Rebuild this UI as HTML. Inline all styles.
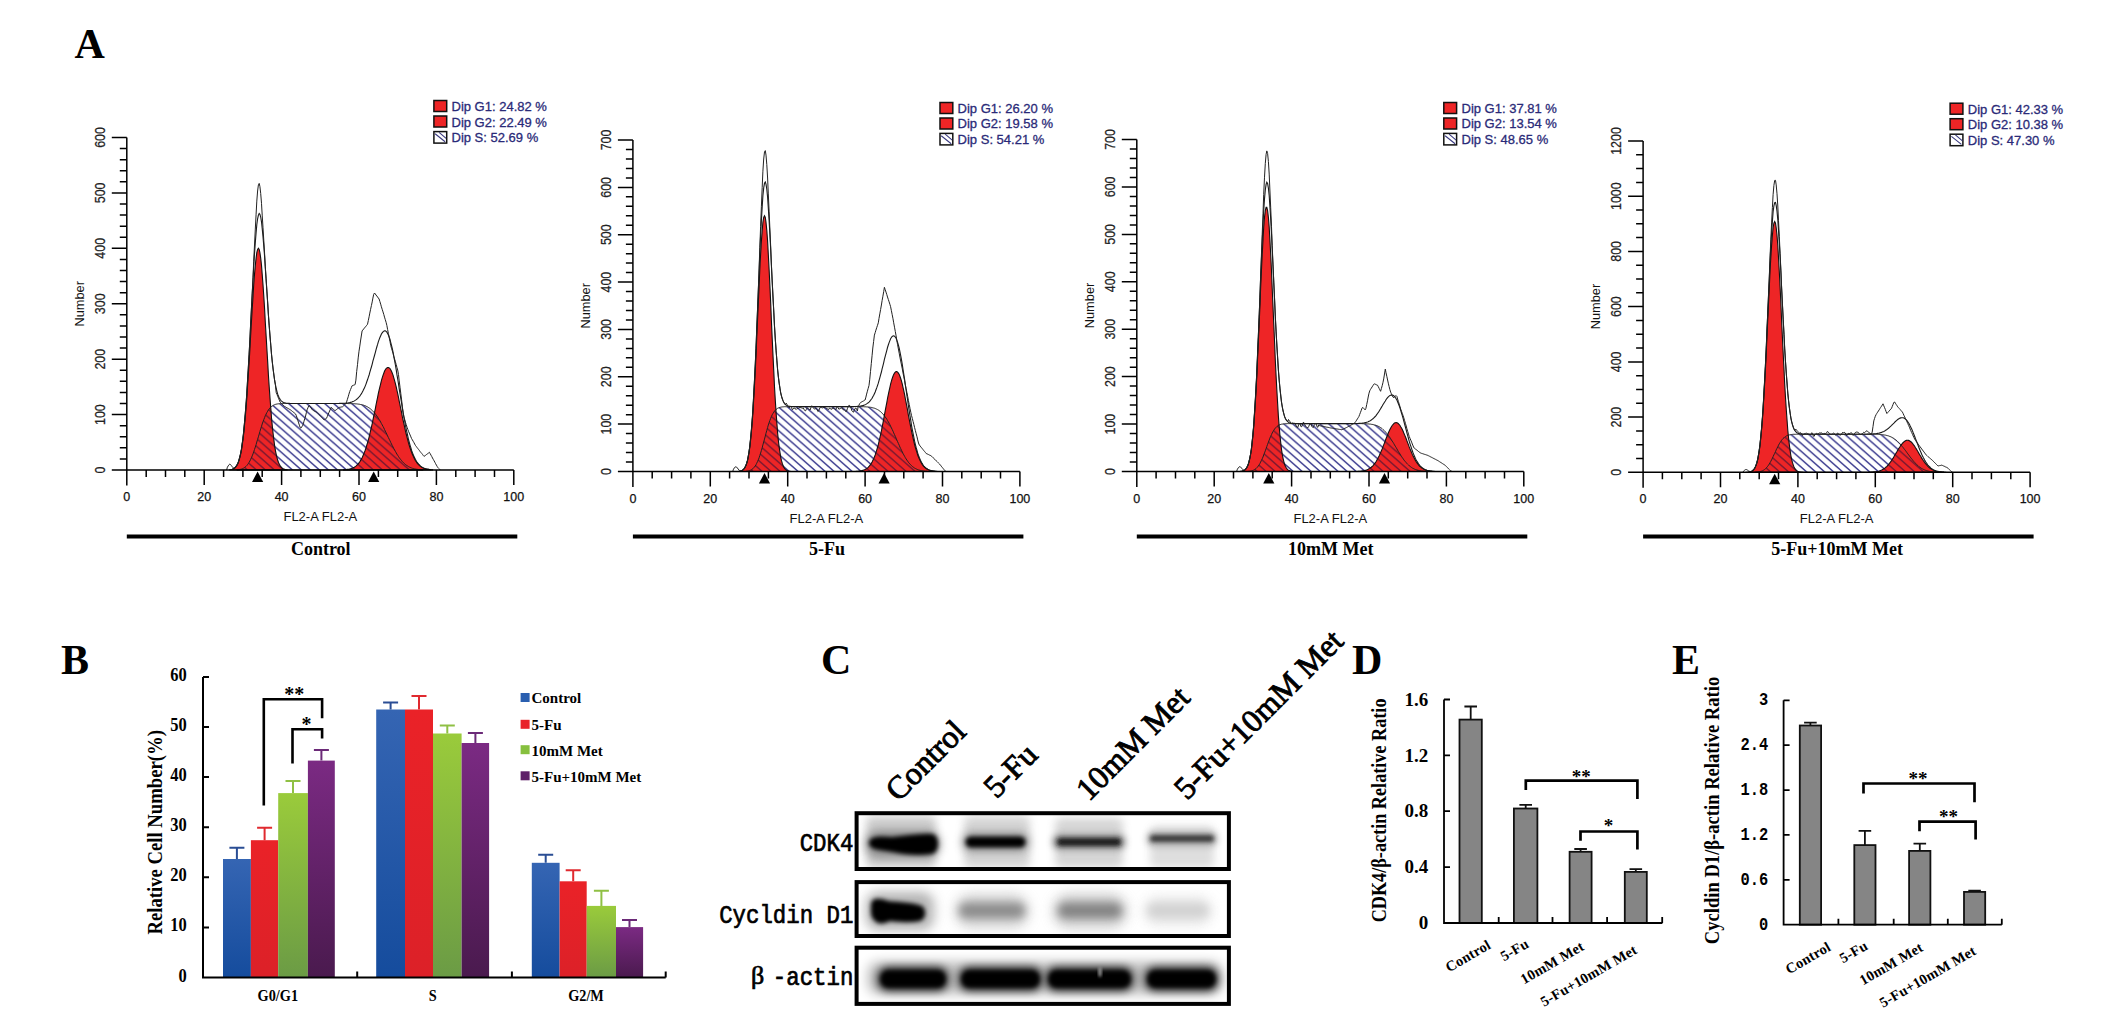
<!DOCTYPE html>
<html><head><meta charset="utf-8"><style>
html,body{margin:0;padding:0;background:#fff;}
svg{display:block;}
</style></head><body>
<svg width="2126" height="1035" viewBox="0 0 2126 1035">
<defs>
<pattern id="hatchN" patternUnits="userSpaceOnUse" width="9" height="7.9" patternTransform="">
<path d="M-2,-1.756 L11,9.656 M-11,-1.756 L2,9.656 M7,-1.756 L20,9.656" stroke="#3b3b8f" stroke-width="1.45"/></pattern>
<pattern id="hatchM" patternUnits="userSpaceOnUse" width="9" height="7.9">
<path d="M-2,-1.756 L11,9.656 M-11,-1.756 L2,9.656 M7,-1.756 L20,9.656" stroke="#7a1830" stroke-width="1.45"/></pattern>
<linearGradient id="gBlue" x1="0" y1="0" x2="0" y2="1"><stop offset="0" stop-color="#3565b3"/><stop offset="1" stop-color="#154c9d"/></linearGradient>
<linearGradient id="gRed" x1="0" y1="0" x2="0" y2="1"><stop offset="0" stop-color="#ea2228"/><stop offset="1" stop-color="#dc2128"/></linearGradient>
<linearGradient id="gGreen" x1="0" y1="0" x2="0" y2="1"><stop offset="0" stop-color="#9acb3b"/><stop offset="1" stop-color="#6b9b45"/></linearGradient>
<linearGradient id="gPurple" x1="0" y1="0" x2="0" y2="1"><stop offset="0" stop-color="#7b2a83"/><stop offset="1" stop-color="#4a1a4e"/></linearGradient>
<filter id="bl1" x="-50%" y="-100%" width="200%" height="300%"><feGaussianBlur stdDeviation="1.5"/></filter>
<filter id="bl2" x="-50%" y="-100%" width="200%" height="300%"><feGaussianBlur stdDeviation="2.2"/></filter>
<filter id="bl3" x="-50%" y="-100%" width="200%" height="300%"><feGaussianBlur stdDeviation="3"/></filter>
<filter id="bl4" x="-50%" y="-100%" width="200%" height="300%"><feGaussianBlur stdDeviation="4"/></filter>
<filter id="bl6" x="-50%" y="-100%" width="200%" height="300%"><feGaussianBlur stdDeviation="6"/></filter>
<clipPath id="blotclip"><rect x="856.6" y="813" width="372.3" height="56"/><rect x="856.6" y="882" width="372.3" height="54"/><rect x="856.6" y="947.7" width="372.3" height="56.2"/></clipPath>
<filter id="mot" x="-30%" y="-30%" width="160%" height="160%"><feGaussianBlur in="SourceGraphic" stdDeviation="4" result="b"/><feTurbulence type="fractalNoise" baseFrequency="0.18 0.06" numOctaves="2" seed="7" result="n"/><feColorMatrix in="n" type="matrix" values="0 0 0 0 0  0 0 0 0 0  0 0 0 0 0  0 0 0 -1.1 1.1" result="m"/><feComposite in="b" in2="m" operator="arithmetic" k1="1" k2="0" k3="0" k4="0" result="c"/><feGaussianBlur in="c" stdDeviation="1.3"/></filter>
</defs>
<rect width="2126" height="1035" fill="#fff"/>
<text x="74.5" y="58" font-family='"Liberation Serif", serif' font-weight="bold" font-size="42">A</text>
<text x="61" y="673.8" font-family='"Liberation Serif", serif' font-weight="bold" font-size="42">B</text>
<text x="821" y="673.8" font-family='"Liberation Serif", serif' font-weight="bold" font-size="42">C</text>
<text x="1352" y="673.8" font-family='"Liberation Serif", serif' font-weight="bold" font-size="42">D</text>
<text x="1672" y="673.8" font-family='"Liberation Serif", serif' font-weight="bold" font-size="42">E</text>
<clipPath id="cr0"><path d="M229.7,470.0 L229.7,469.8 L230.5,469.7 L231.3,469.5 L232.1,469.3 L232.8,469.0 L233.6,468.7 L234.4,468.2 L235.2,467.5 L235.9,466.7 L236.7,465.6 L237.5,464.2 L238.3,462.5 L239.0,460.3 L239.8,457.6 L240.6,454.3 L241.4,450.3 L242.1,445.6 L242.9,440.0 L243.7,433.5 L244.4,426.1 L245.2,417.7 L246.0,408.4 L246.8,398.0 L247.5,386.8 L248.3,374.8 L249.1,362.1 L249.9,349.0 L250.6,335.6 L251.4,322.2 L252.2,309.0 L253.0,296.5 L253.7,284.8 L254.5,274.4 L255.3,265.4 L256.1,258.1 L256.8,252.7 L257.6,249.4 L258.4,248.3 L259.2,249.4 L259.9,252.7 L260.7,258.1 L261.5,265.4 L262.2,274.4 L263.0,284.8 L263.8,296.5 L264.6,309.0 L265.3,322.2 L266.1,335.6 L266.9,349.0 L267.7,362.1 L268.4,374.8 L269.2,386.8 L270.0,398.0 L270.8,408.4 L271.5,417.7 L272.3,426.1 L273.1,433.5 L273.9,440.0 L274.6,445.6 L275.4,450.3 L276.2,454.3 L277.0,457.6 L277.7,460.3 L278.5,462.5 L279.3,464.2 L280.1,465.6 L280.8,466.7 L281.6,467.5 L282.4,468.2 L283.1,468.7 L283.9,469.0 L284.7,469.3 L285.5,469.5 L286.2,469.7 L287.0,469.8 L287.0,470.0 Z"/><path d="M343.5,470.0 L343.5,469.8 L344.3,469.8 L345.1,469.7 L345.8,469.6 L346.6,469.5 L347.4,469.4 L348.2,469.3 L348.9,469.2 L349.7,469.0 L350.5,468.8 L351.3,468.6 L352.0,468.3 L352.8,468.0 L353.6,467.6 L354.4,467.2 L355.1,466.6 L355.9,466.1 L356.7,465.4 L357.5,464.7 L358.2,463.8 L359.0,462.8 L359.8,461.8 L360.5,460.6 L361.3,459.2 L362.1,457.8 L362.9,456.1 L363.6,454.3 L364.4,452.4 L365.2,450.3 L366.0,448.0 L366.7,445.5 L367.5,442.9 L368.3,440.1 L369.1,437.1 L369.8,434.0 L370.6,430.7 L371.4,427.3 L372.2,423.7 L372.9,420.1 L373.7,416.4 L374.5,412.6 L375.3,408.8 L376.0,405.0 L376.8,401.1 L377.6,397.4 L378.3,393.7 L379.1,390.2 L379.9,386.8 L380.7,383.6 L381.4,380.6 L382.2,377.8 L383.0,375.4 L383.8,373.2 L384.5,371.3 L385.3,369.8 L386.1,368.7 L386.9,367.9 L387.6,367.5 L388.4,367.5 L389.2,367.9 L390.0,368.7 L390.7,369.8 L391.5,371.3 L392.3,373.2 L393.1,375.4 L393.8,377.8 L394.6,380.6 L395.4,383.6 L396.2,386.8 L396.9,390.2 L397.7,393.7 L398.5,397.4 L399.2,401.1 L400.0,405.0 L400.8,408.8 L401.6,412.6 L402.3,416.4 L403.1,420.1 L403.9,423.7 L404.7,427.3 L405.4,430.7 L406.2,434.0 L407.0,437.1 L407.8,440.1 L408.5,442.9 L409.3,445.5 L410.1,448.0 L410.9,450.3 L411.6,452.4 L412.4,454.3 L413.2,456.1 L414.0,457.8 L414.7,459.2 L415.5,460.6 L416.3,461.8 L417.0,462.8 L417.8,463.8 L418.6,464.7 L419.4,465.4 L420.1,466.1 L420.9,466.6 L421.7,467.2 L422.5,467.6 L423.2,468.0 L424.0,468.3 L424.8,468.6 L425.6,468.8 L426.3,469.0 L427.1,469.2 L427.9,469.3 L428.7,469.4 L429.4,469.5 L430.2,469.6 L431.0,469.7 L431.8,469.8 L432.5,469.8 L432.5,470.0 Z"/></clipPath>
<path d="M236.7,470.0 L236.7,469.8 L237.5,469.8 L238.3,469.7 L239.0,469.6 L239.8,469.5 L240.6,469.3 L241.4,469.1 L242.1,468.8 L242.9,468.5 L243.7,468.1 L244.4,467.6 L245.2,467.0 L246.0,466.4 L246.8,465.6 L247.5,464.6 L248.3,463.6 L249.1,462.3 L249.9,461.0 L250.6,459.4 L251.4,457.8 L252.2,455.9 L253.0,453.9 L253.7,451.8 L254.5,449.5 L255.3,447.1 L256.1,444.6 L256.8,442.0 L257.6,439.4 L258.4,436.8 L259.2,434.1 L259.9,431.5 L260.7,428.9 L261.5,426.4 L262.2,424.0 L263.0,421.7 L263.8,419.6 L264.6,417.6 L265.3,415.7 L266.1,414.1 L266.9,412.5 L267.7,411.2 L268.4,409.9 L269.2,408.9 L270.0,407.9 L270.8,407.1 L271.5,406.5 L272.3,405.9 L273.1,405.4 L273.9,405.0 L274.6,404.7 L275.4,404.4 L276.2,404.2 L277.0,404.0 L277.7,403.9 L278.5,403.8 L279.3,403.7 L280.1,403.7 L280.8,403.6 L281.6,403.6 L282.4,403.6 L283.1,403.5 L283.9,403.5 L284.7,403.5 L285.5,403.5 L286.2,403.5 L287.0,403.5 L287.8,403.5 L288.6,403.5 L289.3,403.5 L290.1,403.5 L290.9,403.5 L291.7,403.5 L292.4,403.5 L293.2,403.5 L294.0,403.5 L294.8,403.5 L295.5,403.5 L296.3,403.5 L297.1,403.5 L297.9,403.5 L298.6,403.5 L299.4,403.5 L300.2,403.5 L300.9,403.5 L301.7,403.5 L302.5,403.5 L303.3,403.5 L304.0,403.5 L304.8,403.5 L305.6,403.5 L306.4,403.5 L307.1,403.5 L307.9,403.5 L308.7,403.5 L309.5,403.5 L310.2,403.5 L311.0,403.5 L311.8,403.5 L312.6,403.5 L313.3,403.5 L314.1,403.5 L314.9,403.5 L315.7,403.5 L316.4,403.5 L317.2,403.5 L318.0,403.5 L318.8,403.5 L319.5,403.5 L320.3,403.5 L321.1,403.5 L321.8,403.5 L322.6,403.5 L323.4,403.5 L324.2,403.5 L324.9,403.5 L325.7,403.5 L326.5,403.5 L327.3,403.5 L328.0,403.5 L328.8,403.5 L329.6,403.5 L330.4,403.5 L331.1,403.5 L331.9,403.5 L332.7,403.5 L333.5,403.5 L334.2,403.5 L335.0,403.5 L335.8,403.5 L336.6,403.5 L337.3,403.5 L338.1,403.5 L338.9,403.5 L339.6,403.5 L340.4,403.5 L341.2,403.5 L342.0,403.5 L342.7,403.5 L343.5,403.5 L344.3,403.5 L345.1,403.5 L345.8,403.5 L346.6,403.5 L347.4,403.5 L348.2,403.6 L348.9,403.6 L349.7,403.6 L350.5,403.6 L351.3,403.6 L352.0,403.6 L352.8,403.7 L353.6,403.7 L354.4,403.7 L355.1,403.8 L355.9,403.9 L356.7,403.9 L357.5,404.0 L358.2,404.1 L359.0,404.2 L359.8,404.3 L360.5,404.5 L361.3,404.6 L362.1,404.8 L362.9,405.0 L363.6,405.2 L364.4,405.5 L365.2,405.8 L366.0,406.1 L366.7,406.5 L367.5,406.9 L368.3,407.4 L369.1,407.9 L369.8,408.4 L370.6,409.0 L371.4,409.7 L372.2,410.4 L372.9,411.2 L373.7,412.0 L374.5,412.9 L375.3,413.8 L376.0,414.8 L376.8,415.9 L377.6,417.0 L378.3,418.2 L379.1,419.4 L379.9,420.7 L380.7,422.1 L381.4,423.5 L382.2,424.9 L383.0,426.4 L383.8,427.9 L384.5,429.5 L385.3,431.1 L386.1,432.7 L386.9,434.3 L387.6,435.9 L388.4,437.6 L389.2,439.2 L390.0,440.8 L390.7,442.4 L391.5,444.0 L392.3,445.6 L393.1,447.1 L393.8,448.6 L394.6,450.0 L395.4,451.4 L396.2,452.8 L396.9,454.1 L397.7,455.3 L398.5,456.5 L399.2,457.6 L400.0,458.7 L400.8,459.7 L401.6,460.6 L402.3,461.5 L403.1,462.3 L403.9,463.1 L404.7,463.8 L405.4,464.5 L406.2,465.1 L407.0,465.6 L407.8,466.1 L408.5,466.6 L409.3,467.0 L410.1,467.4 L410.9,467.7 L411.6,468.0 L412.4,468.3 L413.2,468.5 L414.0,468.7 L414.7,468.9 L415.5,469.0 L416.3,469.2 L417.0,469.3 L417.8,469.4 L418.6,469.5 L419.4,469.6 L420.1,469.6 L420.9,469.7 L421.7,469.8 L422.5,469.8 L423.2,469.8 L423.2,470.0 Z" fill="#fff"/>
<path d="M236.7,470.0 L236.7,469.8 L237.5,469.8 L238.3,469.7 L239.0,469.6 L239.8,469.5 L240.6,469.3 L241.4,469.1 L242.1,468.8 L242.9,468.5 L243.7,468.1 L244.4,467.6 L245.2,467.0 L246.0,466.4 L246.8,465.6 L247.5,464.6 L248.3,463.6 L249.1,462.3 L249.9,461.0 L250.6,459.4 L251.4,457.8 L252.2,455.9 L253.0,453.9 L253.7,451.8 L254.5,449.5 L255.3,447.1 L256.1,444.6 L256.8,442.0 L257.6,439.4 L258.4,436.8 L259.2,434.1 L259.9,431.5 L260.7,428.9 L261.5,426.4 L262.2,424.0 L263.0,421.7 L263.8,419.6 L264.6,417.6 L265.3,415.7 L266.1,414.1 L266.9,412.5 L267.7,411.2 L268.4,409.9 L269.2,408.9 L270.0,407.9 L270.8,407.1 L271.5,406.5 L272.3,405.9 L273.1,405.4 L273.9,405.0 L274.6,404.7 L275.4,404.4 L276.2,404.2 L277.0,404.0 L277.7,403.9 L278.5,403.8 L279.3,403.7 L280.1,403.7 L280.8,403.6 L281.6,403.6 L282.4,403.6 L283.1,403.5 L283.9,403.5 L284.7,403.5 L285.5,403.5 L286.2,403.5 L287.0,403.5 L287.8,403.5 L288.6,403.5 L289.3,403.5 L290.1,403.5 L290.9,403.5 L291.7,403.5 L292.4,403.5 L293.2,403.5 L294.0,403.5 L294.8,403.5 L295.5,403.5 L296.3,403.5 L297.1,403.5 L297.9,403.5 L298.6,403.5 L299.4,403.5 L300.2,403.5 L300.9,403.5 L301.7,403.5 L302.5,403.5 L303.3,403.5 L304.0,403.5 L304.8,403.5 L305.6,403.5 L306.4,403.5 L307.1,403.5 L307.9,403.5 L308.7,403.5 L309.5,403.5 L310.2,403.5 L311.0,403.5 L311.8,403.5 L312.6,403.5 L313.3,403.5 L314.1,403.5 L314.9,403.5 L315.7,403.5 L316.4,403.5 L317.2,403.5 L318.0,403.5 L318.8,403.5 L319.5,403.5 L320.3,403.5 L321.1,403.5 L321.8,403.5 L322.6,403.5 L323.4,403.5 L324.2,403.5 L324.9,403.5 L325.7,403.5 L326.5,403.5 L327.3,403.5 L328.0,403.5 L328.8,403.5 L329.6,403.5 L330.4,403.5 L331.1,403.5 L331.9,403.5 L332.7,403.5 L333.5,403.5 L334.2,403.5 L335.0,403.5 L335.8,403.5 L336.6,403.5 L337.3,403.5 L338.1,403.5 L338.9,403.5 L339.6,403.5 L340.4,403.5 L341.2,403.5 L342.0,403.5 L342.7,403.5 L343.5,403.5 L344.3,403.5 L345.1,403.5 L345.8,403.5 L346.6,403.5 L347.4,403.5 L348.2,403.6 L348.9,403.6 L349.7,403.6 L350.5,403.6 L351.3,403.6 L352.0,403.6 L352.8,403.7 L353.6,403.7 L354.4,403.7 L355.1,403.8 L355.9,403.9 L356.7,403.9 L357.5,404.0 L358.2,404.1 L359.0,404.2 L359.8,404.3 L360.5,404.5 L361.3,404.6 L362.1,404.8 L362.9,405.0 L363.6,405.2 L364.4,405.5 L365.2,405.8 L366.0,406.1 L366.7,406.5 L367.5,406.9 L368.3,407.4 L369.1,407.9 L369.8,408.4 L370.6,409.0 L371.4,409.7 L372.2,410.4 L372.9,411.2 L373.7,412.0 L374.5,412.9 L375.3,413.8 L376.0,414.8 L376.8,415.9 L377.6,417.0 L378.3,418.2 L379.1,419.4 L379.9,420.7 L380.7,422.1 L381.4,423.5 L382.2,424.9 L383.0,426.4 L383.8,427.9 L384.5,429.5 L385.3,431.1 L386.1,432.7 L386.9,434.3 L387.6,435.9 L388.4,437.6 L389.2,439.2 L390.0,440.8 L390.7,442.4 L391.5,444.0 L392.3,445.6 L393.1,447.1 L393.8,448.6 L394.6,450.0 L395.4,451.4 L396.2,452.8 L396.9,454.1 L397.7,455.3 L398.5,456.5 L399.2,457.6 L400.0,458.7 L400.8,459.7 L401.6,460.6 L402.3,461.5 L403.1,462.3 L403.9,463.1 L404.7,463.8 L405.4,464.5 L406.2,465.1 L407.0,465.6 L407.8,466.1 L408.5,466.6 L409.3,467.0 L410.1,467.4 L410.9,467.7 L411.6,468.0 L412.4,468.3 L413.2,468.5 L414.0,468.7 L414.7,468.9 L415.5,469.0 L416.3,469.2 L417.0,469.3 L417.8,469.4 L418.6,469.5 L419.4,469.6 L420.1,469.6 L420.9,469.7 L421.7,469.8 L422.5,469.8 L423.2,469.8 L423.2,470.0 Z" fill="url(#hatchN)"/>
<path d="M229.7,470.0 L229.7,469.8 L230.5,469.7 L231.3,469.5 L232.1,469.3 L232.8,469.0 L233.6,468.7 L234.4,468.2 L235.2,467.5 L235.9,466.7 L236.7,465.6 L237.5,464.2 L238.3,462.5 L239.0,460.3 L239.8,457.6 L240.6,454.3 L241.4,450.3 L242.1,445.6 L242.9,440.0 L243.7,433.5 L244.4,426.1 L245.2,417.7 L246.0,408.4 L246.8,398.0 L247.5,386.8 L248.3,374.8 L249.1,362.1 L249.9,349.0 L250.6,335.6 L251.4,322.2 L252.2,309.0 L253.0,296.5 L253.7,284.8 L254.5,274.4 L255.3,265.4 L256.1,258.1 L256.8,252.7 L257.6,249.4 L258.4,248.3 L259.2,249.4 L259.9,252.7 L260.7,258.1 L261.5,265.4 L262.2,274.4 L263.0,284.8 L263.8,296.5 L264.6,309.0 L265.3,322.2 L266.1,335.6 L266.9,349.0 L267.7,362.1 L268.4,374.8 L269.2,386.8 L270.0,398.0 L270.8,408.4 L271.5,417.7 L272.3,426.1 L273.1,433.5 L273.9,440.0 L274.6,445.6 L275.4,450.3 L276.2,454.3 L277.0,457.6 L277.7,460.3 L278.5,462.5 L279.3,464.2 L280.1,465.6 L280.8,466.7 L281.6,467.5 L282.4,468.2 L283.1,468.7 L283.9,469.0 L284.7,469.3 L285.5,469.5 L286.2,469.7 L287.0,469.8 L287.0,470.0 Z" fill="#ee2526"/>
<path d="M343.5,470.0 L343.5,469.8 L344.3,469.8 L345.1,469.7 L345.8,469.6 L346.6,469.5 L347.4,469.4 L348.2,469.3 L348.9,469.2 L349.7,469.0 L350.5,468.8 L351.3,468.6 L352.0,468.3 L352.8,468.0 L353.6,467.6 L354.4,467.2 L355.1,466.6 L355.9,466.1 L356.7,465.4 L357.5,464.7 L358.2,463.8 L359.0,462.8 L359.8,461.8 L360.5,460.6 L361.3,459.2 L362.1,457.8 L362.9,456.1 L363.6,454.3 L364.4,452.4 L365.2,450.3 L366.0,448.0 L366.7,445.5 L367.5,442.9 L368.3,440.1 L369.1,437.1 L369.8,434.0 L370.6,430.7 L371.4,427.3 L372.2,423.7 L372.9,420.1 L373.7,416.4 L374.5,412.6 L375.3,408.8 L376.0,405.0 L376.8,401.1 L377.6,397.4 L378.3,393.7 L379.1,390.2 L379.9,386.8 L380.7,383.6 L381.4,380.6 L382.2,377.8 L383.0,375.4 L383.8,373.2 L384.5,371.3 L385.3,369.8 L386.1,368.7 L386.9,367.9 L387.6,367.5 L388.4,367.5 L389.2,367.9 L390.0,368.7 L390.7,369.8 L391.5,371.3 L392.3,373.2 L393.1,375.4 L393.8,377.8 L394.6,380.6 L395.4,383.6 L396.2,386.8 L396.9,390.2 L397.7,393.7 L398.5,397.4 L399.2,401.1 L400.0,405.0 L400.8,408.8 L401.6,412.6 L402.3,416.4 L403.1,420.1 L403.9,423.7 L404.7,427.3 L405.4,430.7 L406.2,434.0 L407.0,437.1 L407.8,440.1 L408.5,442.9 L409.3,445.5 L410.1,448.0 L410.9,450.3 L411.6,452.4 L412.4,454.3 L413.2,456.1 L414.0,457.8 L414.7,459.2 L415.5,460.6 L416.3,461.8 L417.0,462.8 L417.8,463.8 L418.6,464.7 L419.4,465.4 L420.1,466.1 L420.9,466.6 L421.7,467.2 L422.5,467.6 L423.2,468.0 L424.0,468.3 L424.8,468.6 L425.6,468.8 L426.3,469.0 L427.1,469.2 L427.9,469.3 L428.7,469.4 L429.4,469.5 L430.2,469.6 L431.0,469.7 L431.8,469.8 L432.5,469.8 L432.5,470.0 Z" fill="#ee2526"/>
<g clip-path="url(#cr0)"><path d="M236.7,470.0 L236.7,469.8 L237.5,469.8 L238.3,469.7 L239.0,469.6 L239.8,469.5 L240.6,469.3 L241.4,469.1 L242.1,468.8 L242.9,468.5 L243.7,468.1 L244.4,467.6 L245.2,467.0 L246.0,466.4 L246.8,465.6 L247.5,464.6 L248.3,463.6 L249.1,462.3 L249.9,461.0 L250.6,459.4 L251.4,457.8 L252.2,455.9 L253.0,453.9 L253.7,451.8 L254.5,449.5 L255.3,447.1 L256.1,444.6 L256.8,442.0 L257.6,439.4 L258.4,436.8 L259.2,434.1 L259.9,431.5 L260.7,428.9 L261.5,426.4 L262.2,424.0 L263.0,421.7 L263.8,419.6 L264.6,417.6 L265.3,415.7 L266.1,414.1 L266.9,412.5 L267.7,411.2 L268.4,409.9 L269.2,408.9 L270.0,407.9 L270.8,407.1 L271.5,406.5 L272.3,405.9 L273.1,405.4 L273.9,405.0 L274.6,404.7 L275.4,404.4 L276.2,404.2 L277.0,404.0 L277.7,403.9 L278.5,403.8 L279.3,403.7 L280.1,403.7 L280.8,403.6 L281.6,403.6 L282.4,403.6 L283.1,403.5 L283.9,403.5 L284.7,403.5 L285.5,403.5 L286.2,403.5 L287.0,403.5 L287.8,403.5 L288.6,403.5 L289.3,403.5 L290.1,403.5 L290.9,403.5 L291.7,403.5 L292.4,403.5 L293.2,403.5 L294.0,403.5 L294.8,403.5 L295.5,403.5 L296.3,403.5 L297.1,403.5 L297.9,403.5 L298.6,403.5 L299.4,403.5 L300.2,403.5 L300.9,403.5 L301.7,403.5 L302.5,403.5 L303.3,403.5 L304.0,403.5 L304.8,403.5 L305.6,403.5 L306.4,403.5 L307.1,403.5 L307.9,403.5 L308.7,403.5 L309.5,403.5 L310.2,403.5 L311.0,403.5 L311.8,403.5 L312.6,403.5 L313.3,403.5 L314.1,403.5 L314.9,403.5 L315.7,403.5 L316.4,403.5 L317.2,403.5 L318.0,403.5 L318.8,403.5 L319.5,403.5 L320.3,403.5 L321.1,403.5 L321.8,403.5 L322.6,403.5 L323.4,403.5 L324.2,403.5 L324.9,403.5 L325.7,403.5 L326.5,403.5 L327.3,403.5 L328.0,403.5 L328.8,403.5 L329.6,403.5 L330.4,403.5 L331.1,403.5 L331.9,403.5 L332.7,403.5 L333.5,403.5 L334.2,403.5 L335.0,403.5 L335.8,403.5 L336.6,403.5 L337.3,403.5 L338.1,403.5 L338.9,403.5 L339.6,403.5 L340.4,403.5 L341.2,403.5 L342.0,403.5 L342.7,403.5 L343.5,403.5 L344.3,403.5 L345.1,403.5 L345.8,403.5 L346.6,403.5 L347.4,403.5 L348.2,403.6 L348.9,403.6 L349.7,403.6 L350.5,403.6 L351.3,403.6 L352.0,403.6 L352.8,403.7 L353.6,403.7 L354.4,403.7 L355.1,403.8 L355.9,403.9 L356.7,403.9 L357.5,404.0 L358.2,404.1 L359.0,404.2 L359.8,404.3 L360.5,404.5 L361.3,404.6 L362.1,404.8 L362.9,405.0 L363.6,405.2 L364.4,405.5 L365.2,405.8 L366.0,406.1 L366.7,406.5 L367.5,406.9 L368.3,407.4 L369.1,407.9 L369.8,408.4 L370.6,409.0 L371.4,409.7 L372.2,410.4 L372.9,411.2 L373.7,412.0 L374.5,412.9 L375.3,413.8 L376.0,414.8 L376.8,415.9 L377.6,417.0 L378.3,418.2 L379.1,419.4 L379.9,420.7 L380.7,422.1 L381.4,423.5 L382.2,424.9 L383.0,426.4 L383.8,427.9 L384.5,429.5 L385.3,431.1 L386.1,432.7 L386.9,434.3 L387.6,435.9 L388.4,437.6 L389.2,439.2 L390.0,440.8 L390.7,442.4 L391.5,444.0 L392.3,445.6 L393.1,447.1 L393.8,448.6 L394.6,450.0 L395.4,451.4 L396.2,452.8 L396.9,454.1 L397.7,455.3 L398.5,456.5 L399.2,457.6 L400.0,458.7 L400.8,459.7 L401.6,460.6 L402.3,461.5 L403.1,462.3 L403.9,463.1 L404.7,463.8 L405.4,464.5 L406.2,465.1 L407.0,465.6 L407.8,466.1 L408.5,466.6 L409.3,467.0 L410.1,467.4 L410.9,467.7 L411.6,468.0 L412.4,468.3 L413.2,468.5 L414.0,468.7 L414.7,468.9 L415.5,469.0 L416.3,469.2 L417.0,469.3 L417.8,469.4 L418.6,469.5 L419.4,469.6 L420.1,469.6 L420.9,469.7 L421.7,469.8 L422.5,469.8 L423.2,469.8 L423.2,470.0 Z" fill="url(#hatchM)"/></g>
<path d="M236.7,470.0 L236.7,469.8 L237.5,469.8 L238.3,469.7 L239.0,469.6 L239.8,469.5 L240.6,469.3 L241.4,469.1 L242.1,468.8 L242.9,468.5 L243.7,468.1 L244.4,467.6 L245.2,467.0 L246.0,466.4 L246.8,465.6 L247.5,464.6 L248.3,463.6 L249.1,462.3 L249.9,461.0 L250.6,459.4 L251.4,457.8 L252.2,455.9 L253.0,453.9 L253.7,451.8 L254.5,449.5 L255.3,447.1 L256.1,444.6 L256.8,442.0 L257.6,439.4 L258.4,436.8 L259.2,434.1 L259.9,431.5 L260.7,428.9 L261.5,426.4 L262.2,424.0 L263.0,421.7 L263.8,419.6 L264.6,417.6 L265.3,415.7 L266.1,414.1 L266.9,412.5 L267.7,411.2 L268.4,409.9 L269.2,408.9 L270.0,407.9 L270.8,407.1 L271.5,406.5 L272.3,405.9 L273.1,405.4 L273.9,405.0 L274.6,404.7 L275.4,404.4 L276.2,404.2 L277.0,404.0 L277.7,403.9 L278.5,403.8 L279.3,403.7 L280.1,403.7 L280.8,403.6 L281.6,403.6 L282.4,403.6 L283.1,403.5 L283.9,403.5 L284.7,403.5 L285.5,403.5 L286.2,403.5 L287.0,403.5 L287.8,403.5 L288.6,403.5 L289.3,403.5 L290.1,403.5 L290.9,403.5 L291.7,403.5 L292.4,403.5 L293.2,403.5 L294.0,403.5 L294.8,403.5 L295.5,403.5 L296.3,403.5 L297.1,403.5 L297.9,403.5 L298.6,403.5 L299.4,403.5 L300.2,403.5 L300.9,403.5 L301.7,403.5 L302.5,403.5 L303.3,403.5 L304.0,403.5 L304.8,403.5 L305.6,403.5 L306.4,403.5 L307.1,403.5 L307.9,403.5 L308.7,403.5 L309.5,403.5 L310.2,403.5 L311.0,403.5 L311.8,403.5 L312.6,403.5 L313.3,403.5 L314.1,403.5 L314.9,403.5 L315.7,403.5 L316.4,403.5 L317.2,403.5 L318.0,403.5 L318.8,403.5 L319.5,403.5 L320.3,403.5 L321.1,403.5 L321.8,403.5 L322.6,403.5 L323.4,403.5 L324.2,403.5 L324.9,403.5 L325.7,403.5 L326.5,403.5 L327.3,403.5 L328.0,403.5 L328.8,403.5 L329.6,403.5 L330.4,403.5 L331.1,403.5 L331.9,403.5 L332.7,403.5 L333.5,403.5 L334.2,403.5 L335.0,403.5 L335.8,403.5 L336.6,403.5 L337.3,403.5 L338.1,403.5 L338.9,403.5 L339.6,403.5 L340.4,403.5 L341.2,403.5 L342.0,403.5 L342.7,403.5 L343.5,403.5 L344.3,403.5 L345.1,403.5 L345.8,403.5 L346.6,403.5 L347.4,403.5 L348.2,403.6 L348.9,403.6 L349.7,403.6 L350.5,403.6 L351.3,403.6 L352.0,403.6 L352.8,403.7 L353.6,403.7 L354.4,403.7 L355.1,403.8 L355.9,403.9 L356.7,403.9 L357.5,404.0 L358.2,404.1 L359.0,404.2 L359.8,404.3 L360.5,404.5 L361.3,404.6 L362.1,404.8 L362.9,405.0 L363.6,405.2 L364.4,405.5 L365.2,405.8 L366.0,406.1 L366.7,406.5 L367.5,406.9 L368.3,407.4 L369.1,407.9 L369.8,408.4 L370.6,409.0 L371.4,409.7 L372.2,410.4 L372.9,411.2 L373.7,412.0 L374.5,412.9 L375.3,413.8 L376.0,414.8 L376.8,415.9 L377.6,417.0 L378.3,418.2 L379.1,419.4 L379.9,420.7 L380.7,422.1 L381.4,423.5 L382.2,424.9 L383.0,426.4 L383.8,427.9 L384.5,429.5 L385.3,431.1 L386.1,432.7 L386.9,434.3 L387.6,435.9 L388.4,437.6 L389.2,439.2 L390.0,440.8 L390.7,442.4 L391.5,444.0 L392.3,445.6 L393.1,447.1 L393.8,448.6 L394.6,450.0 L395.4,451.4 L396.2,452.8 L396.9,454.1 L397.7,455.3 L398.5,456.5 L399.2,457.6 L400.0,458.7 L400.8,459.7 L401.6,460.6 L402.3,461.5 L403.1,462.3 L403.9,463.1 L404.7,463.8 L405.4,464.5 L406.2,465.1 L407.0,465.6 L407.8,466.1 L408.5,466.6 L409.3,467.0 L410.1,467.4 L410.9,467.7 L411.6,468.0 L412.4,468.3 L413.2,468.5 L414.0,468.7 L414.7,468.9 L415.5,469.0 L416.3,469.2 L417.0,469.3 L417.8,469.4 L418.6,469.5 L419.4,469.6 L420.1,469.6 L420.9,469.7 L421.7,469.8 L422.5,469.8 L423.2,469.8 L423.2,470.0 Z" fill="none" stroke="#222" stroke-width="1"/>
<path d="M229.7,470.0 L229.7,469.8 L230.5,469.7 L231.3,469.5 L232.1,469.3 L232.8,469.0 L233.6,468.7 L234.4,468.2 L235.2,467.5 L235.9,466.7 L236.7,465.6 L237.5,464.2 L238.3,462.5 L239.0,460.3 L239.8,457.6 L240.6,454.3 L241.4,450.3 L242.1,445.6 L242.9,440.0 L243.7,433.5 L244.4,426.1 L245.2,417.7 L246.0,408.4 L246.8,398.0 L247.5,386.8 L248.3,374.8 L249.1,362.1 L249.9,349.0 L250.6,335.6 L251.4,322.2 L252.2,309.0 L253.0,296.5 L253.7,284.8 L254.5,274.4 L255.3,265.4 L256.1,258.1 L256.8,252.7 L257.6,249.4 L258.4,248.3 L259.2,249.4 L259.9,252.7 L260.7,258.1 L261.5,265.4 L262.2,274.4 L263.0,284.8 L263.8,296.5 L264.6,309.0 L265.3,322.2 L266.1,335.6 L266.9,349.0 L267.7,362.1 L268.4,374.8 L269.2,386.8 L270.0,398.0 L270.8,408.4 L271.5,417.7 L272.3,426.1 L273.1,433.5 L273.9,440.0 L274.6,445.6 L275.4,450.3 L276.2,454.3 L277.0,457.6 L277.7,460.3 L278.5,462.5 L279.3,464.2 L280.1,465.6 L280.8,466.7 L281.6,467.5 L282.4,468.2 L283.1,468.7 L283.9,469.0 L284.7,469.3 L285.5,469.5 L286.2,469.7 L287.0,469.8 L287.0,470.0 Z" fill="none" stroke="#111" stroke-width="1.1"/>
<path d="M343.5,470.0 L343.5,469.8 L344.3,469.8 L345.1,469.7 L345.8,469.6 L346.6,469.5 L347.4,469.4 L348.2,469.3 L348.9,469.2 L349.7,469.0 L350.5,468.8 L351.3,468.6 L352.0,468.3 L352.8,468.0 L353.6,467.6 L354.4,467.2 L355.1,466.6 L355.9,466.1 L356.7,465.4 L357.5,464.7 L358.2,463.8 L359.0,462.8 L359.8,461.8 L360.5,460.6 L361.3,459.2 L362.1,457.8 L362.9,456.1 L363.6,454.3 L364.4,452.4 L365.2,450.3 L366.0,448.0 L366.7,445.5 L367.5,442.9 L368.3,440.1 L369.1,437.1 L369.8,434.0 L370.6,430.7 L371.4,427.3 L372.2,423.7 L372.9,420.1 L373.7,416.4 L374.5,412.6 L375.3,408.8 L376.0,405.0 L376.8,401.1 L377.6,397.4 L378.3,393.7 L379.1,390.2 L379.9,386.8 L380.7,383.6 L381.4,380.6 L382.2,377.8 L383.0,375.4 L383.8,373.2 L384.5,371.3 L385.3,369.8 L386.1,368.7 L386.9,367.9 L387.6,367.5 L388.4,367.5 L389.2,367.9 L390.0,368.7 L390.7,369.8 L391.5,371.3 L392.3,373.2 L393.1,375.4 L393.8,377.8 L394.6,380.6 L395.4,383.6 L396.2,386.8 L396.9,390.2 L397.7,393.7 L398.5,397.4 L399.2,401.1 L400.0,405.0 L400.8,408.8 L401.6,412.6 L402.3,416.4 L403.1,420.1 L403.9,423.7 L404.7,427.3 L405.4,430.7 L406.2,434.0 L407.0,437.1 L407.8,440.1 L408.5,442.9 L409.3,445.5 L410.1,448.0 L410.9,450.3 L411.6,452.4 L412.4,454.3 L413.2,456.1 L414.0,457.8 L414.7,459.2 L415.5,460.6 L416.3,461.8 L417.0,462.8 L417.8,463.8 L418.6,464.7 L419.4,465.4 L420.1,466.1 L420.9,466.6 L421.7,467.2 L422.5,467.6 L423.2,468.0 L424.0,468.3 L424.8,468.6 L425.6,468.8 L426.3,469.0 L427.1,469.2 L427.9,469.3 L428.7,469.4 L429.4,469.5 L430.2,469.6 L431.0,469.7 L431.8,469.8 L432.5,469.8 L432.5,470.0 Z" fill="none" stroke="#111" stroke-width="1.1"/>
<polyline points="230.5,469.6 231.3,469.5 232.1,469.3 232.8,469.0 233.6,468.6 234.4,468.1 235.2,467.4 235.9,466.6 236.7,465.4 237.5,464.0 238.3,462.1 239.0,459.8 239.8,457.0 240.6,453.5 241.4,449.4 242.1,444.4 242.9,438.5 243.7,431.6 244.4,423.7 245.2,414.8 246.0,404.7 246.8,393.6 247.5,381.4 248.3,368.3 249.1,354.5 249.9,339.9 250.6,325.0 251.4,309.9 252.2,294.9 253.0,280.4 253.7,266.6 254.5,253.9 255.3,242.5 256.1,232.7 256.8,224.7 257.6,218.8 258.4,215.1 259.2,213.5 259.9,214.2 260.7,217.0 261.5,221.8 262.2,228.4 263.0,236.6 263.8,246.1 264.6,256.6 265.3,267.9 266.1,279.6 266.9,291.5 267.7,303.3 268.4,314.7 269.2,325.7 270.0,336.0 270.8,345.5 271.5,354.2 272.3,362.0 273.1,369.0 273.9,375.0 274.6,380.2 275.4,384.7 276.2,388.5 277.0,391.6 277.7,394.2 278.5,396.3 279.3,397.9 280.1,399.3 280.8,400.3 281.6,401.1 282.4,401.7 283.1,402.2 283.9,402.6 284.7,402.8 285.5,403.0 286.2,403.2 287.0,403.3 287.8,403.3 288.6,403.4 289.3,403.4 290.1,403.5 290.9,403.5 291.7,403.5 292.4,403.5 293.2,403.5 294.0,403.5 294.8,403.5 295.5,403.5 296.3,403.5 297.1,403.5 297.9,403.5 298.6,403.5 299.4,403.5 300.2,403.5 300.9,403.5 301.7,403.5 302.5,403.5 303.3,403.5 304.0,403.5 304.8,403.5 305.6,403.5 306.4,403.5 307.1,403.5 307.9,403.5 308.7,403.5 309.5,403.5 310.2,403.5 311.0,403.5 311.8,403.5 312.6,403.5 313.3,403.5 314.1,403.5 314.9,403.5 315.7,403.5 316.4,403.5 317.2,403.5 318.0,403.5 318.8,403.5 319.5,403.5 320.3,403.5 321.1,403.5 321.8,403.5 322.6,403.5 323.4,403.5 324.2,403.5 324.9,403.5 325.7,403.5 326.5,403.5 327.3,403.5 328.0,403.5 328.8,403.5 329.6,403.5 330.4,403.5 331.1,403.5 331.9,403.5 332.7,403.5 333.5,403.5 334.2,403.5 335.0,403.5 335.8,403.5 336.6,403.5 337.3,403.5 338.1,403.5 338.9,403.5 339.6,403.4 340.4,403.4 341.2,403.4 342.0,403.4 342.7,403.4 343.5,403.3 344.3,403.3 345.1,403.2 345.8,403.2 346.6,403.1 347.4,403.0 348.2,402.9 348.9,402.7 349.7,402.6 350.5,402.4 351.3,402.2 352.0,401.9 352.8,401.6 353.6,401.3 354.4,400.9 355.1,400.4 355.9,399.9 356.7,399.3 357.5,398.7 358.2,397.9 359.0,397.0 359.8,396.1 360.5,395.0 361.3,393.9 362.1,392.6 362.9,391.1 363.6,389.6 364.4,387.9 365.2,386.1 366.0,384.1 366.7,382.0 367.5,379.8 368.3,377.4 369.1,375.0 369.8,372.4 370.6,369.7 371.4,367.0 372.2,364.1 372.9,361.2 373.7,358.4 374.5,355.5 375.3,352.6 376.0,349.8 376.8,347.0 377.6,344.4 378.3,341.9 379.1,339.6 379.9,337.5 380.7,335.7 381.4,334.1 382.2,332.8 383.0,331.8 383.8,331.1 384.5,330.8 385.3,330.9 386.1,331.4 386.9,332.2 387.6,333.5 388.4,335.1 389.2,337.1 390.0,339.5 390.7,342.3 391.5,345.3 392.3,348.7 393.1,352.4 393.8,356.4 394.6,360.6 395.4,365.0 396.2,369.6 396.9,374.3 397.7,379.0 398.5,383.9 399.2,388.8 400.0,393.6 400.8,398.5 401.6,403.2 402.3,407.9 403.1,412.4 403.9,416.9 404.7,421.1 405.4,425.2 406.2,429.0 407.0,432.7 407.8,436.2 408.5,439.5 409.3,442.5 410.1,445.3 410.9,448.0 411.6,450.4 412.4,452.6 413.2,454.6 414.0,456.5 414.7,458.1 415.5,459.6 416.3,461.0 417.0,462.1 417.8,463.2 418.6,464.2 419.4,465.0 420.1,465.7 420.9,466.4 421.7,466.9 422.5,467.4 423.2,467.8 424.0,468.2 424.8,468.5 425.6,468.7 426.3,468.9 427.1,469.1 427.9,469.3 428.7,469.4 429.4,469.5 430.2,469.6 431.0,469.7" fill="none" stroke="#1a1a1a" stroke-width="1.1"/>
<polyline points="226.6,470.0 227.4,467.2 228.2,465.9 229.0,464.7 229.7,464.2 230.5,464.5 231.3,465.5 232.1,466.6 232.8,467.5 233.6,467.9 234.4,467.8 235.2,467.3 235.9,466.5 236.7,465.4 237.5,464.0 238.3,462.1 239.0,459.8 239.8,457.0 240.6,453.5 241.4,449.4 242.1,444.4 242.9,438.5 243.7,431.6 244.4,423.7 245.2,414.8 246.0,404.7 246.8,393.6 247.5,381.4 248.3,368.3 249.1,354.4 249.9,339.8 250.6,324.7 251.4,309.1 252.2,293.4 253.0,277.3 253.7,261.2 254.5,245.0 255.3,229.1 256.1,214.2 256.8,201.1 257.6,191.0 258.4,184.9 259.2,183.4 259.9,186.4 260.7,193.4 261.5,203.3 262.2,215.1 263.0,227.7 263.8,240.7 264.6,253.6 265.3,266.3 266.1,278.8 266.9,291.1 267.7,303.1 268.4,314.7 269.2,325.7 270.0,336.0 270.8,345.5 271.5,354.2 272.3,362.0 273.1,369.0 273.9,375.0 274.6,380.2 275.4,384.7 276.2,392.5 277.0,394.4 277.7,396.3 278.5,398.2 279.3,400.1 280.1,402.0 280.8,402.8 281.6,403.6 282.4,404.3 283.1,405.1 283.9,405.9 284.7,406.5 285.5,406.9 286.2,407.4 287.0,407.8 287.8,408.3 288.6,408.7 289.3,409.2 290.1,409.6 290.9,410.2 291.7,410.8 292.4,411.4 293.2,412.0 294.0,412.7 294.8,413.3 295.5,413.9 296.3,415.5 297.1,418.1 297.9,420.6 298.6,422.9 299.4,425.2 300.2,427.6 300.9,428.1 301.7,426.9 302.5,425.8 303.3,423.9 304.0,421.2 304.8,418.6 305.6,416.0 306.4,412.5 307.1,409.8 307.9,407.9 308.7,405.9 309.5,405.6 310.2,406.7 311.0,407.9 311.8,409.0 312.6,410.1 313.3,410.5 314.1,410.9 314.9,411.3 315.7,411.7 316.4,412.1 317.2,412.5 318.0,413.4 318.8,414.2 319.5,415.0 320.3,415.9 321.1,416.7 321.8,417.5 322.6,418.4 323.4,419.2 324.2,420.0 324.9,419.4 325.7,418.9 326.5,418.3 327.3,416.5 328.0,414.7 328.8,412.8 329.6,411.0 330.4,409.2 331.1,407.4 331.9,408.0 332.7,408.7 333.5,409.4 334.2,410.0 335.0,410.7 335.8,410.1 336.6,409.5 337.3,408.9 338.1,408.3 338.9,407.7 339.6,407.3 340.4,407.2 341.2,407.0 342.0,406.9 342.7,406.7 343.5,405.9 344.3,405.2 345.1,404.4 345.8,403.6 346.6,401.9 347.4,399.3 348.2,396.8 348.9,394.2 349.7,391.6 350.5,389.6 351.3,387.7 352.0,385.8 352.8,385.5 353.6,385.2 354.4,384.9 355.1,384.6 355.9,380.1 356.7,371.4 357.5,364.7 358.2,357.9 359.0,351.2 359.8,346.1 360.5,341.0 361.3,336.0 362.1,330.9 362.9,330.0 363.6,329.0 364.4,328.1 365.2,327.1 366.0,326.2 366.7,325.3 367.5,324.3 368.3,320.6 369.1,316.8 369.8,313.1 370.6,309.3 371.4,305.6 372.2,301.9 372.9,298.1 373.7,294.4 374.5,293.0 375.3,294.0 376.0,295.0 376.8,296.0 377.6,297.0 378.3,298.0 379.1,299.0 379.9,301.6 380.7,304.2 381.4,306.8 382.2,309.3 383.0,311.9 383.8,314.5 384.5,317.1 385.3,319.7 386.1,322.3 386.9,325.6 387.6,329.5 388.4,333.5 389.2,337.5 390.0,341.5 390.7,345.4 391.5,348.2 392.3,350.9 393.1,353.6 393.8,356.4 394.6,359.1 395.4,361.8 396.2,364.6 396.9,367.3 397.7,370.0 398.5,374.6 399.2,380.9 400.0,387.2 400.8,393.6 401.6,399.9 402.3,406.2 403.1,412.5 403.9,417.0 404.7,419.5 405.4,422.1 406.2,424.6 407.0,427.2 407.8,429.4 408.5,431.3 409.3,433.1 410.1,435.0 410.9,436.9 411.6,438.6 412.4,439.9 413.2,441.3 414.0,442.7 414.7,444.1 415.5,445.5 416.3,446.5 417.0,447.5 417.8,448.5 418.6,449.5 419.4,450.5 420.1,451.5 420.9,452.5 421.7,453.4 422.5,454.4 423.2,455.4 424.0,456.4 424.8,455.8 425.6,455.3 426.3,454.7 427.1,454.1 427.9,453.5 428.7,452.9 429.4,452.3 430.2,453.7 431.0,455.2 431.8,456.6 432.5,458.0 433.3,459.4 434.1,460.8 434.9,462.3 435.6,463.7 436.4,465.1 437.2,466.5 437.9,467.6 438.7,468.4 439.5,469.2 440.3,470.0" fill="none" stroke="#222" stroke-width="1"/>
<path d="M111.8,470.0 H513.8 M126.8,137.5 V485.5" stroke="#000" stroke-width="1.5" fill="none"/>
<path d="M146.2,470.0 v7 M165.5,470.0 v7 M184.8,470.0 v7 M204.2,470.0 v15 M223.6,470.0 v7 M242.9,470.0 v7 M262.2,470.0 v7 M281.6,470.0 v15 M300.9,470.0 v7 M320.3,470.0 v7 M339.6,470.0 v7 M359.0,470.0 v15 M378.4,470.0 v7 M397.7,470.0 v7 M417.1,470.0 v7 M436.4,470.0 v15 M455.8,470.0 v7 M475.1,470.0 v7 M494.5,470.0 v7 M513.8,470.0 v15 M126.8,458.9 h-7 M126.8,447.8 h-7 M126.8,436.8 h-7 M126.8,425.7 h-7 M126.8,414.6 h-15 M126.8,403.5 h-7 M126.8,392.4 h-7 M126.8,381.3 h-7 M126.8,370.2 h-7 M126.8,359.2 h-15 M126.8,348.1 h-7 M126.8,337.0 h-7 M126.8,325.9 h-7 M126.8,314.8 h-7 M126.8,303.8 h-15 M126.8,292.7 h-7 M126.8,281.6 h-7 M126.8,270.5 h-7 M126.8,259.4 h-7 M126.8,248.3 h-15 M126.8,237.2 h-7 M126.8,226.2 h-7 M126.8,215.1 h-7 M126.8,204.0 h-7 M126.8,192.9 h-15 M126.8,181.8 h-7 M126.8,170.8 h-7 M126.8,159.7 h-7 M126.8,148.6 h-7 M126.8,137.5 h-15" stroke="#000" stroke-width="1.5" fill="none"/>
<text x="126.8" y="501.0" font-family='"Liberation Sans", sans-serif' font-size="12.5" text-anchor="middle" fill="#111" stroke="#111" stroke-width="0.25">0</text>
<text x="204.2" y="501.0" font-family='"Liberation Sans", sans-serif' font-size="12.5" text-anchor="middle" fill="#111" stroke="#111" stroke-width="0.25">20</text>
<text x="281.6" y="501.0" font-family='"Liberation Sans", sans-serif' font-size="12.5" text-anchor="middle" fill="#111" stroke="#111" stroke-width="0.25">40</text>
<text x="359.0" y="501.0" font-family='"Liberation Sans", sans-serif' font-size="12.5" text-anchor="middle" fill="#111" stroke="#111" stroke-width="0.25">60</text>
<text x="436.4" y="501.0" font-family='"Liberation Sans", sans-serif' font-size="12.5" text-anchor="middle" fill="#111" stroke="#111" stroke-width="0.25">80</text>
<text x="513.8" y="501.0" font-family='"Liberation Sans", sans-serif' font-size="12.5" text-anchor="middle" fill="#111" stroke="#111" stroke-width="0.25">100</text>
<text transform="translate(104.7,470.0) rotate(-90) scale(0.8,1)" font-family='"Liberation Sans", sans-serif' font-size="15.5" text-anchor="middle" fill="#222" stroke="#222" stroke-width="0.25">0</text>
<text transform="translate(104.7,414.6) rotate(-90) scale(0.8,1)" font-family='"Liberation Sans", sans-serif' font-size="15.5" text-anchor="middle" fill="#222" stroke="#222" stroke-width="0.25">100</text>
<text transform="translate(104.7,359.2) rotate(-90) scale(0.8,1)" font-family='"Liberation Sans", sans-serif' font-size="15.5" text-anchor="middle" fill="#222" stroke="#222" stroke-width="0.25">200</text>
<text transform="translate(104.7,303.8) rotate(-90) scale(0.8,1)" font-family='"Liberation Sans", sans-serif' font-size="15.5" text-anchor="middle" fill="#222" stroke="#222" stroke-width="0.25">300</text>
<text transform="translate(104.7,248.3) rotate(-90) scale(0.8,1)" font-family='"Liberation Sans", sans-serif' font-size="15.5" text-anchor="middle" fill="#222" stroke="#222" stroke-width="0.25">400</text>
<text transform="translate(104.7,192.9) rotate(-90) scale(0.8,1)" font-family='"Liberation Sans", sans-serif' font-size="15.5" text-anchor="middle" fill="#222" stroke="#222" stroke-width="0.25">500</text>
<text transform="translate(104.7,137.5) rotate(-90) scale(0.8,1)" font-family='"Liberation Sans", sans-serif' font-size="15.5" text-anchor="middle" fill="#222" stroke="#222" stroke-width="0.25">600</text>
<text transform="translate(83.8,303.8) rotate(-90)" font-family='"Liberation Sans", sans-serif' font-size="12.8" text-anchor="middle" fill="#111">Number</text>
<text x="320.3" y="521.0" font-family='"Liberation Sans", sans-serif' font-size="13" text-anchor="middle" fill="#111">FL2-A FL2-A</text>
<rect x="126.8" y="534.5" width="390.5" height="4" fill="#000"/>
<text x="320.8" y="554.5" font-family='"Liberation Serif", serif' font-weight="bold" font-size="18" text-anchor="middle">Control</text>
<path d="M257.6,471.5 L263.2,482.0 L252.0,482.0 Z" fill="#000"/>
<path d="M373.7,471.5 L379.3,482.0 L368.1,482.0 Z" fill="#000"/>
<rect x="433.9" y="100.5" width="12.8" height="11" fill="#ee2526" stroke="#111" stroke-width="1.5"/>
<text x="451.5" y="111.0" font-family='"Liberation Sans", sans-serif' font-size="13" fill="#2a2a78" stroke="#2a2a78" stroke-width="0.3">Dip G1: 24.82 %</text>
<rect x="433.9" y="116.0" width="12.8" height="11" fill="#ee2526" stroke="#111" stroke-width="1.5"/>
<text x="451.5" y="126.5" font-family='"Liberation Sans", sans-serif' font-size="13" fill="#2a2a78" stroke="#2a2a78" stroke-width="0.3">Dip G2: 22.49 %</text>
<rect x="433.9" y="131.6" width="12.8" height="11.5" fill="#fff" stroke="#111" stroke-width="1.5"/>
<path d="M435.1,133.8 l10,8 M439.1,132.3 l7,6" stroke="#3a3a80" stroke-width="1.1"/>
<text x="451.5" y="142.0" font-family='"Liberation Sans", sans-serif' font-size="13" fill="#2a2a78" stroke="#2a2a78" stroke-width="0.3">Dip S: 52.69 %</text>
<clipPath id="cr1"><path d="M738.9,471.5 L738.9,471.3 L739.7,471.2 L740.5,471.0 L741.3,470.8 L742.0,470.4 L742.8,470.0 L743.6,469.3 L744.4,468.4 L745.1,467.2 L745.9,465.6 L746.7,463.4 L747.5,460.7 L748.2,457.1 L749.0,452.7 L749.8,447.3 L750.5,440.7 L751.3,432.8 L752.1,423.4 L752.9,412.7 L753.6,400.4 L754.4,386.7 L755.2,371.6 L756.0,355.5 L756.7,338.4 L757.5,320.8 L758.3,303.1 L759.1,285.8 L759.8,269.3 L760.6,254.3 L761.4,241.1 L762.2,230.4 L762.9,222.4 L763.7,217.4 L764.5,215.8 L765.3,217.4 L766.0,222.4 L766.8,230.4 L767.6,241.1 L768.3,254.3 L769.1,269.3 L769.9,285.8 L770.7,303.1 L771.4,320.8 L772.2,338.4 L773.0,355.5 L773.8,371.6 L774.5,386.7 L775.3,400.4 L776.1,412.7 L776.9,423.4 L777.6,432.8 L778.4,440.7 L779.2,447.3 L780.0,452.7 L780.7,457.1 L781.5,460.7 L782.3,463.4 L783.1,465.6 L783.8,467.2 L784.6,468.4 L785.4,469.3 L786.2,470.0 L786.9,470.4 L787.7,470.8 L788.5,471.0 L789.2,471.2 L790.0,471.3 L790.0,471.5 Z"/><path d="M855.8,471.5 L855.8,471.4 L856.6,471.3 L857.4,471.3 L858.1,471.2 L858.9,471.1 L859.7,471.0 L860.5,470.9 L861.2,470.8 L862.0,470.6 L862.8,470.4 L863.6,470.1 L864.3,469.8 L865.1,469.5 L865.9,469.1 L866.6,468.6 L867.4,468.0 L868.2,467.3 L869.0,466.5 L869.7,465.6 L870.5,464.6 L871.3,463.4 L872.1,462.1 L872.8,460.6 L873.6,458.9 L874.4,457.0 L875.2,455.0 L875.9,452.7 L876.7,450.2 L877.5,447.5 L878.3,444.6 L879.0,441.5 L879.8,438.2 L880.6,434.7 L881.4,431.0 L882.1,427.2 L882.9,423.3 L883.7,419.2 L884.4,415.1 L885.2,410.9 L886.0,406.7 L886.8,402.6 L887.5,398.5 L888.3,394.6 L889.1,390.9 L889.9,387.4 L890.6,384.1 L891.4,381.1 L892.2,378.5 L893.0,376.3 L893.7,374.4 L894.5,373.1 L895.3,372.1 L896.1,371.6 L896.8,371.6 L897.6,372.1 L898.4,373.1 L899.2,374.4 L899.9,376.3 L900.7,378.5 L901.5,381.1 L902.3,384.1 L903.0,387.4 L903.8,390.9 L904.6,394.6 L905.3,398.5 L906.1,402.6 L906.9,406.7 L907.7,410.9 L908.4,415.1 L909.2,419.2 L910.0,423.3 L910.8,427.2 L911.5,431.0 L912.3,434.7 L913.1,438.2 L913.9,441.5 L914.6,444.6 L915.4,447.5 L916.2,450.2 L917.0,452.7 L917.7,455.0 L918.5,457.0 L919.3,458.9 L920.1,460.6 L920.8,462.1 L921.6,463.4 L922.4,464.6 L923.1,465.6 L923.9,466.5 L924.7,467.3 L925.5,468.0 L926.2,468.6 L927.0,469.1 L927.8,469.5 L928.6,469.8 L929.3,470.1 L930.1,470.4 L930.9,470.6 L931.7,470.8 L932.4,470.9 L933.2,471.0 L934.0,471.1 L934.8,471.2 L935.5,471.3 L936.3,471.3 L937.1,471.4 L937.1,471.5 Z"/></clipPath>
<path d="M745.9,471.5 L745.9,471.3 L746.7,471.2 L747.5,471.1 L748.2,471.0 L749.0,470.8 L749.8,470.5 L750.5,470.2 L751.3,469.8 L752.1,469.3 L752.9,468.7 L753.6,467.9 L754.4,467.0 L755.2,466.0 L756.0,464.7 L756.7,463.3 L757.5,461.6 L758.3,459.8 L759.1,457.8 L759.8,455.5 L760.6,453.1 L761.4,450.5 L762.2,447.8 L762.9,444.9 L763.7,442.0 L764.5,439.1 L765.3,436.1 L766.0,433.2 L766.8,430.4 L767.6,427.6 L768.3,425.0 L769.1,422.6 L769.9,420.4 L770.7,418.3 L771.4,416.5 L772.2,414.8 L773.0,413.4 L773.8,412.1 L774.5,411.1 L775.3,410.2 L776.1,409.4 L776.9,408.8 L777.6,408.3 L778.4,407.9 L779.2,407.6 L780.0,407.3 L780.7,407.2 L781.5,407.0 L782.3,406.9 L783.1,406.8 L783.8,406.8 L784.6,406.7 L785.4,406.7 L786.2,406.7 L786.9,406.7 L787.7,406.6 L788.5,406.6 L789.2,406.6 L790.0,406.6 L790.8,406.6 L791.6,406.6 L792.3,406.6 L793.1,406.6 L793.9,406.6 L794.7,406.6 L795.4,406.6 L796.2,406.6 L797.0,406.6 L797.8,406.6 L798.5,406.6 L799.3,406.6 L800.1,406.6 L800.9,406.6 L801.6,406.6 L802.4,406.6 L803.2,406.6 L804.0,406.6 L804.7,406.6 L805.5,406.6 L806.3,406.6 L807.0,406.6 L807.8,406.6 L808.6,406.6 L809.4,406.6 L810.1,406.6 L810.9,406.6 L811.7,406.6 L812.5,406.6 L813.2,406.6 L814.0,406.6 L814.8,406.6 L815.6,406.6 L816.3,406.6 L817.1,406.6 L817.9,406.6 L818.7,406.6 L819.4,406.6 L820.2,406.6 L821.0,406.6 L821.8,406.6 L822.5,406.6 L823.3,406.6 L824.1,406.6 L824.9,406.6 L825.6,406.6 L826.4,406.6 L827.2,406.6 L827.9,406.6 L828.7,406.6 L829.5,406.6 L830.3,406.6 L831.0,406.6 L831.8,406.6 L832.6,406.6 L833.4,406.6 L834.1,406.6 L834.9,406.6 L835.7,406.6 L836.5,406.6 L837.2,406.6 L838.0,406.6 L838.8,406.6 L839.6,406.6 L840.3,406.6 L841.1,406.6 L841.9,406.6 L842.7,406.6 L843.4,406.6 L844.2,406.6 L845.0,406.6 L845.7,406.6 L846.5,406.6 L847.3,406.6 L848.1,406.6 L848.8,406.6 L849.6,406.6 L850.4,406.6 L851.2,406.6 L851.9,406.6 L852.7,406.6 L853.5,406.6 L854.3,406.6 L855.0,406.6 L855.8,406.6 L856.6,406.6 L857.4,406.6 L858.1,406.6 L858.9,406.6 L859.7,406.7 L860.5,406.7 L861.2,406.7 L862.0,406.7 L862.8,406.7 L863.6,406.7 L864.3,406.8 L865.1,406.8 L865.9,406.8 L866.6,406.9 L867.4,406.9 L868.2,407.0 L869.0,407.1 L869.7,407.2 L870.5,407.3 L871.3,407.4 L872.1,407.6 L872.8,407.8 L873.6,408.0 L874.4,408.2 L875.2,408.5 L875.9,408.8 L876.7,409.2 L877.5,409.6 L878.3,410.0 L879.0,410.5 L879.8,411.1 L880.6,411.7 L881.4,412.4 L882.1,413.2 L882.9,414.0 L883.7,414.9 L884.4,415.9 L885.2,416.9 L886.0,418.0 L886.8,419.2 L887.5,420.5 L888.3,421.8 L889.1,423.2 L889.9,424.7 L890.6,426.2 L891.4,427.8 L892.2,429.5 L893.0,431.2 L893.7,432.9 L894.5,434.6 L895.3,436.4 L896.1,438.2 L896.8,440.0 L897.6,441.7 L898.4,443.5 L899.2,445.2 L899.9,447.0 L900.7,448.6 L901.5,450.3 L902.3,451.9 L903.0,453.4 L903.8,454.9 L904.6,456.3 L905.3,457.6 L906.1,458.9 L906.9,460.1 L907.7,461.2 L908.4,462.3 L909.2,463.2 L910.0,464.1 L910.8,464.9 L911.5,465.7 L912.3,466.4 L913.1,467.0 L913.9,467.6 L914.6,468.1 L915.4,468.5 L916.2,468.9 L917.0,469.3 L917.7,469.6 L918.5,469.9 L919.3,470.1 L920.1,470.4 L920.8,470.5 L921.6,470.7 L922.4,470.8 L923.1,470.9 L923.9,471.0 L924.7,471.1 L925.5,471.2 L926.2,471.2 L927.0,471.3 L927.8,471.3 L927.8,471.5 Z" fill="#fff"/>
<path d="M745.9,471.5 L745.9,471.3 L746.7,471.2 L747.5,471.1 L748.2,471.0 L749.0,470.8 L749.8,470.5 L750.5,470.2 L751.3,469.8 L752.1,469.3 L752.9,468.7 L753.6,467.9 L754.4,467.0 L755.2,466.0 L756.0,464.7 L756.7,463.3 L757.5,461.6 L758.3,459.8 L759.1,457.8 L759.8,455.5 L760.6,453.1 L761.4,450.5 L762.2,447.8 L762.9,444.9 L763.7,442.0 L764.5,439.1 L765.3,436.1 L766.0,433.2 L766.8,430.4 L767.6,427.6 L768.3,425.0 L769.1,422.6 L769.9,420.4 L770.7,418.3 L771.4,416.5 L772.2,414.8 L773.0,413.4 L773.8,412.1 L774.5,411.1 L775.3,410.2 L776.1,409.4 L776.9,408.8 L777.6,408.3 L778.4,407.9 L779.2,407.6 L780.0,407.3 L780.7,407.2 L781.5,407.0 L782.3,406.9 L783.1,406.8 L783.8,406.8 L784.6,406.7 L785.4,406.7 L786.2,406.7 L786.9,406.7 L787.7,406.6 L788.5,406.6 L789.2,406.6 L790.0,406.6 L790.8,406.6 L791.6,406.6 L792.3,406.6 L793.1,406.6 L793.9,406.6 L794.7,406.6 L795.4,406.6 L796.2,406.6 L797.0,406.6 L797.8,406.6 L798.5,406.6 L799.3,406.6 L800.1,406.6 L800.9,406.6 L801.6,406.6 L802.4,406.6 L803.2,406.6 L804.0,406.6 L804.7,406.6 L805.5,406.6 L806.3,406.6 L807.0,406.6 L807.8,406.6 L808.6,406.6 L809.4,406.6 L810.1,406.6 L810.9,406.6 L811.7,406.6 L812.5,406.6 L813.2,406.6 L814.0,406.6 L814.8,406.6 L815.6,406.6 L816.3,406.6 L817.1,406.6 L817.9,406.6 L818.7,406.6 L819.4,406.6 L820.2,406.6 L821.0,406.6 L821.8,406.6 L822.5,406.6 L823.3,406.6 L824.1,406.6 L824.9,406.6 L825.6,406.6 L826.4,406.6 L827.2,406.6 L827.9,406.6 L828.7,406.6 L829.5,406.6 L830.3,406.6 L831.0,406.6 L831.8,406.6 L832.6,406.6 L833.4,406.6 L834.1,406.6 L834.9,406.6 L835.7,406.6 L836.5,406.6 L837.2,406.6 L838.0,406.6 L838.8,406.6 L839.6,406.6 L840.3,406.6 L841.1,406.6 L841.9,406.6 L842.7,406.6 L843.4,406.6 L844.2,406.6 L845.0,406.6 L845.7,406.6 L846.5,406.6 L847.3,406.6 L848.1,406.6 L848.8,406.6 L849.6,406.6 L850.4,406.6 L851.2,406.6 L851.9,406.6 L852.7,406.6 L853.5,406.6 L854.3,406.6 L855.0,406.6 L855.8,406.6 L856.6,406.6 L857.4,406.6 L858.1,406.6 L858.9,406.6 L859.7,406.7 L860.5,406.7 L861.2,406.7 L862.0,406.7 L862.8,406.7 L863.6,406.7 L864.3,406.8 L865.1,406.8 L865.9,406.8 L866.6,406.9 L867.4,406.9 L868.2,407.0 L869.0,407.1 L869.7,407.2 L870.5,407.3 L871.3,407.4 L872.1,407.6 L872.8,407.8 L873.6,408.0 L874.4,408.2 L875.2,408.5 L875.9,408.8 L876.7,409.2 L877.5,409.6 L878.3,410.0 L879.0,410.5 L879.8,411.1 L880.6,411.7 L881.4,412.4 L882.1,413.2 L882.9,414.0 L883.7,414.9 L884.4,415.9 L885.2,416.9 L886.0,418.0 L886.8,419.2 L887.5,420.5 L888.3,421.8 L889.1,423.2 L889.9,424.7 L890.6,426.2 L891.4,427.8 L892.2,429.5 L893.0,431.2 L893.7,432.9 L894.5,434.6 L895.3,436.4 L896.1,438.2 L896.8,440.0 L897.6,441.7 L898.4,443.5 L899.2,445.2 L899.9,447.0 L900.7,448.6 L901.5,450.3 L902.3,451.9 L903.0,453.4 L903.8,454.9 L904.6,456.3 L905.3,457.6 L906.1,458.9 L906.9,460.1 L907.7,461.2 L908.4,462.3 L909.2,463.2 L910.0,464.1 L910.8,464.9 L911.5,465.7 L912.3,466.4 L913.1,467.0 L913.9,467.6 L914.6,468.1 L915.4,468.5 L916.2,468.9 L917.0,469.3 L917.7,469.6 L918.5,469.9 L919.3,470.1 L920.1,470.4 L920.8,470.5 L921.6,470.7 L922.4,470.8 L923.1,470.9 L923.9,471.0 L924.7,471.1 L925.5,471.2 L926.2,471.2 L927.0,471.3 L927.8,471.3 L927.8,471.5 Z" fill="url(#hatchN)"/>
<path d="M738.9,471.5 L738.9,471.3 L739.7,471.2 L740.5,471.0 L741.3,470.8 L742.0,470.4 L742.8,470.0 L743.6,469.3 L744.4,468.4 L745.1,467.2 L745.9,465.6 L746.7,463.4 L747.5,460.7 L748.2,457.1 L749.0,452.7 L749.8,447.3 L750.5,440.7 L751.3,432.8 L752.1,423.4 L752.9,412.7 L753.6,400.4 L754.4,386.7 L755.2,371.6 L756.0,355.5 L756.7,338.4 L757.5,320.8 L758.3,303.1 L759.1,285.8 L759.8,269.3 L760.6,254.3 L761.4,241.1 L762.2,230.4 L762.9,222.4 L763.7,217.4 L764.5,215.8 L765.3,217.4 L766.0,222.4 L766.8,230.4 L767.6,241.1 L768.3,254.3 L769.1,269.3 L769.9,285.8 L770.7,303.1 L771.4,320.8 L772.2,338.4 L773.0,355.5 L773.8,371.6 L774.5,386.7 L775.3,400.4 L776.1,412.7 L776.9,423.4 L777.6,432.8 L778.4,440.7 L779.2,447.3 L780.0,452.7 L780.7,457.1 L781.5,460.7 L782.3,463.4 L783.1,465.6 L783.8,467.2 L784.6,468.4 L785.4,469.3 L786.2,470.0 L786.9,470.4 L787.7,470.8 L788.5,471.0 L789.2,471.2 L790.0,471.3 L790.0,471.5 Z" fill="#ee2526"/>
<path d="M855.8,471.5 L855.8,471.4 L856.6,471.3 L857.4,471.3 L858.1,471.2 L858.9,471.1 L859.7,471.0 L860.5,470.9 L861.2,470.8 L862.0,470.6 L862.8,470.4 L863.6,470.1 L864.3,469.8 L865.1,469.5 L865.9,469.1 L866.6,468.6 L867.4,468.0 L868.2,467.3 L869.0,466.5 L869.7,465.6 L870.5,464.6 L871.3,463.4 L872.1,462.1 L872.8,460.6 L873.6,458.9 L874.4,457.0 L875.2,455.0 L875.9,452.7 L876.7,450.2 L877.5,447.5 L878.3,444.6 L879.0,441.5 L879.8,438.2 L880.6,434.7 L881.4,431.0 L882.1,427.2 L882.9,423.3 L883.7,419.2 L884.4,415.1 L885.2,410.9 L886.0,406.7 L886.8,402.6 L887.5,398.5 L888.3,394.6 L889.1,390.9 L889.9,387.4 L890.6,384.1 L891.4,381.1 L892.2,378.5 L893.0,376.3 L893.7,374.4 L894.5,373.1 L895.3,372.1 L896.1,371.6 L896.8,371.6 L897.6,372.1 L898.4,373.1 L899.2,374.4 L899.9,376.3 L900.7,378.5 L901.5,381.1 L902.3,384.1 L903.0,387.4 L903.8,390.9 L904.6,394.6 L905.3,398.5 L906.1,402.6 L906.9,406.7 L907.7,410.9 L908.4,415.1 L909.2,419.2 L910.0,423.3 L910.8,427.2 L911.5,431.0 L912.3,434.7 L913.1,438.2 L913.9,441.5 L914.6,444.6 L915.4,447.5 L916.2,450.2 L917.0,452.7 L917.7,455.0 L918.5,457.0 L919.3,458.9 L920.1,460.6 L920.8,462.1 L921.6,463.4 L922.4,464.6 L923.1,465.6 L923.9,466.5 L924.7,467.3 L925.5,468.0 L926.2,468.6 L927.0,469.1 L927.8,469.5 L928.6,469.8 L929.3,470.1 L930.1,470.4 L930.9,470.6 L931.7,470.8 L932.4,470.9 L933.2,471.0 L934.0,471.1 L934.8,471.2 L935.5,471.3 L936.3,471.3 L937.1,471.4 L937.1,471.5 Z" fill="#ee2526"/>
<g clip-path="url(#cr1)"><path d="M745.9,471.5 L745.9,471.3 L746.7,471.2 L747.5,471.1 L748.2,471.0 L749.0,470.8 L749.8,470.5 L750.5,470.2 L751.3,469.8 L752.1,469.3 L752.9,468.7 L753.6,467.9 L754.4,467.0 L755.2,466.0 L756.0,464.7 L756.7,463.3 L757.5,461.6 L758.3,459.8 L759.1,457.8 L759.8,455.5 L760.6,453.1 L761.4,450.5 L762.2,447.8 L762.9,444.9 L763.7,442.0 L764.5,439.1 L765.3,436.1 L766.0,433.2 L766.8,430.4 L767.6,427.6 L768.3,425.0 L769.1,422.6 L769.9,420.4 L770.7,418.3 L771.4,416.5 L772.2,414.8 L773.0,413.4 L773.8,412.1 L774.5,411.1 L775.3,410.2 L776.1,409.4 L776.9,408.8 L777.6,408.3 L778.4,407.9 L779.2,407.6 L780.0,407.3 L780.7,407.2 L781.5,407.0 L782.3,406.9 L783.1,406.8 L783.8,406.8 L784.6,406.7 L785.4,406.7 L786.2,406.7 L786.9,406.7 L787.7,406.6 L788.5,406.6 L789.2,406.6 L790.0,406.6 L790.8,406.6 L791.6,406.6 L792.3,406.6 L793.1,406.6 L793.9,406.6 L794.7,406.6 L795.4,406.6 L796.2,406.6 L797.0,406.6 L797.8,406.6 L798.5,406.6 L799.3,406.6 L800.1,406.6 L800.9,406.6 L801.6,406.6 L802.4,406.6 L803.2,406.6 L804.0,406.6 L804.7,406.6 L805.5,406.6 L806.3,406.6 L807.0,406.6 L807.8,406.6 L808.6,406.6 L809.4,406.6 L810.1,406.6 L810.9,406.6 L811.7,406.6 L812.5,406.6 L813.2,406.6 L814.0,406.6 L814.8,406.6 L815.6,406.6 L816.3,406.6 L817.1,406.6 L817.9,406.6 L818.7,406.6 L819.4,406.6 L820.2,406.6 L821.0,406.6 L821.8,406.6 L822.5,406.6 L823.3,406.6 L824.1,406.6 L824.9,406.6 L825.6,406.6 L826.4,406.6 L827.2,406.6 L827.9,406.6 L828.7,406.6 L829.5,406.6 L830.3,406.6 L831.0,406.6 L831.8,406.6 L832.6,406.6 L833.4,406.6 L834.1,406.6 L834.9,406.6 L835.7,406.6 L836.5,406.6 L837.2,406.6 L838.0,406.6 L838.8,406.6 L839.6,406.6 L840.3,406.6 L841.1,406.6 L841.9,406.6 L842.7,406.6 L843.4,406.6 L844.2,406.6 L845.0,406.6 L845.7,406.6 L846.5,406.6 L847.3,406.6 L848.1,406.6 L848.8,406.6 L849.6,406.6 L850.4,406.6 L851.2,406.6 L851.9,406.6 L852.7,406.6 L853.5,406.6 L854.3,406.6 L855.0,406.6 L855.8,406.6 L856.6,406.6 L857.4,406.6 L858.1,406.6 L858.9,406.6 L859.7,406.7 L860.5,406.7 L861.2,406.7 L862.0,406.7 L862.8,406.7 L863.6,406.7 L864.3,406.8 L865.1,406.8 L865.9,406.8 L866.6,406.9 L867.4,406.9 L868.2,407.0 L869.0,407.1 L869.7,407.2 L870.5,407.3 L871.3,407.4 L872.1,407.6 L872.8,407.8 L873.6,408.0 L874.4,408.2 L875.2,408.5 L875.9,408.8 L876.7,409.2 L877.5,409.6 L878.3,410.0 L879.0,410.5 L879.8,411.1 L880.6,411.7 L881.4,412.4 L882.1,413.2 L882.9,414.0 L883.7,414.9 L884.4,415.9 L885.2,416.9 L886.0,418.0 L886.8,419.2 L887.5,420.5 L888.3,421.8 L889.1,423.2 L889.9,424.7 L890.6,426.2 L891.4,427.8 L892.2,429.5 L893.0,431.2 L893.7,432.9 L894.5,434.6 L895.3,436.4 L896.1,438.2 L896.8,440.0 L897.6,441.7 L898.4,443.5 L899.2,445.2 L899.9,447.0 L900.7,448.6 L901.5,450.3 L902.3,451.9 L903.0,453.4 L903.8,454.9 L904.6,456.3 L905.3,457.6 L906.1,458.9 L906.9,460.1 L907.7,461.2 L908.4,462.3 L909.2,463.2 L910.0,464.1 L910.8,464.9 L911.5,465.7 L912.3,466.4 L913.1,467.0 L913.9,467.6 L914.6,468.1 L915.4,468.5 L916.2,468.9 L917.0,469.3 L917.7,469.6 L918.5,469.9 L919.3,470.1 L920.1,470.4 L920.8,470.5 L921.6,470.7 L922.4,470.8 L923.1,470.9 L923.9,471.0 L924.7,471.1 L925.5,471.2 L926.2,471.2 L927.0,471.3 L927.8,471.3 L927.8,471.5 Z" fill="url(#hatchM)"/></g>
<path d="M745.9,471.5 L745.9,471.3 L746.7,471.2 L747.5,471.1 L748.2,471.0 L749.0,470.8 L749.8,470.5 L750.5,470.2 L751.3,469.8 L752.1,469.3 L752.9,468.7 L753.6,467.9 L754.4,467.0 L755.2,466.0 L756.0,464.7 L756.7,463.3 L757.5,461.6 L758.3,459.8 L759.1,457.8 L759.8,455.5 L760.6,453.1 L761.4,450.5 L762.2,447.8 L762.9,444.9 L763.7,442.0 L764.5,439.1 L765.3,436.1 L766.0,433.2 L766.8,430.4 L767.6,427.6 L768.3,425.0 L769.1,422.6 L769.9,420.4 L770.7,418.3 L771.4,416.5 L772.2,414.8 L773.0,413.4 L773.8,412.1 L774.5,411.1 L775.3,410.2 L776.1,409.4 L776.9,408.8 L777.6,408.3 L778.4,407.9 L779.2,407.6 L780.0,407.3 L780.7,407.2 L781.5,407.0 L782.3,406.9 L783.1,406.8 L783.8,406.8 L784.6,406.7 L785.4,406.7 L786.2,406.7 L786.9,406.7 L787.7,406.6 L788.5,406.6 L789.2,406.6 L790.0,406.6 L790.8,406.6 L791.6,406.6 L792.3,406.6 L793.1,406.6 L793.9,406.6 L794.7,406.6 L795.4,406.6 L796.2,406.6 L797.0,406.6 L797.8,406.6 L798.5,406.6 L799.3,406.6 L800.1,406.6 L800.9,406.6 L801.6,406.6 L802.4,406.6 L803.2,406.6 L804.0,406.6 L804.7,406.6 L805.5,406.6 L806.3,406.6 L807.0,406.6 L807.8,406.6 L808.6,406.6 L809.4,406.6 L810.1,406.6 L810.9,406.6 L811.7,406.6 L812.5,406.6 L813.2,406.6 L814.0,406.6 L814.8,406.6 L815.6,406.6 L816.3,406.6 L817.1,406.6 L817.9,406.6 L818.7,406.6 L819.4,406.6 L820.2,406.6 L821.0,406.6 L821.8,406.6 L822.5,406.6 L823.3,406.6 L824.1,406.6 L824.9,406.6 L825.6,406.6 L826.4,406.6 L827.2,406.6 L827.9,406.6 L828.7,406.6 L829.5,406.6 L830.3,406.6 L831.0,406.6 L831.8,406.6 L832.6,406.6 L833.4,406.6 L834.1,406.6 L834.9,406.6 L835.7,406.6 L836.5,406.6 L837.2,406.6 L838.0,406.6 L838.8,406.6 L839.6,406.6 L840.3,406.6 L841.1,406.6 L841.9,406.6 L842.7,406.6 L843.4,406.6 L844.2,406.6 L845.0,406.6 L845.7,406.6 L846.5,406.6 L847.3,406.6 L848.1,406.6 L848.8,406.6 L849.6,406.6 L850.4,406.6 L851.2,406.6 L851.9,406.6 L852.7,406.6 L853.5,406.6 L854.3,406.6 L855.0,406.6 L855.8,406.6 L856.6,406.6 L857.4,406.6 L858.1,406.6 L858.9,406.6 L859.7,406.7 L860.5,406.7 L861.2,406.7 L862.0,406.7 L862.8,406.7 L863.6,406.7 L864.3,406.8 L865.1,406.8 L865.9,406.8 L866.6,406.9 L867.4,406.9 L868.2,407.0 L869.0,407.1 L869.7,407.2 L870.5,407.3 L871.3,407.4 L872.1,407.6 L872.8,407.8 L873.6,408.0 L874.4,408.2 L875.2,408.5 L875.9,408.8 L876.7,409.2 L877.5,409.6 L878.3,410.0 L879.0,410.5 L879.8,411.1 L880.6,411.7 L881.4,412.4 L882.1,413.2 L882.9,414.0 L883.7,414.9 L884.4,415.9 L885.2,416.9 L886.0,418.0 L886.8,419.2 L887.5,420.5 L888.3,421.8 L889.1,423.2 L889.9,424.7 L890.6,426.2 L891.4,427.8 L892.2,429.5 L893.0,431.2 L893.7,432.9 L894.5,434.6 L895.3,436.4 L896.1,438.2 L896.8,440.0 L897.6,441.7 L898.4,443.5 L899.2,445.2 L899.9,447.0 L900.7,448.6 L901.5,450.3 L902.3,451.9 L903.0,453.4 L903.8,454.9 L904.6,456.3 L905.3,457.6 L906.1,458.9 L906.9,460.1 L907.7,461.2 L908.4,462.3 L909.2,463.2 L910.0,464.1 L910.8,464.9 L911.5,465.7 L912.3,466.4 L913.1,467.0 L913.9,467.6 L914.6,468.1 L915.4,468.5 L916.2,468.9 L917.0,469.3 L917.7,469.6 L918.5,469.9 L919.3,470.1 L920.1,470.4 L920.8,470.5 L921.6,470.7 L922.4,470.8 L923.1,470.9 L923.9,471.0 L924.7,471.1 L925.5,471.2 L926.2,471.2 L927.0,471.3 L927.8,471.3 L927.8,471.5 Z" fill="none" stroke="#222" stroke-width="1"/>
<path d="M738.9,471.5 L738.9,471.3 L739.7,471.2 L740.5,471.0 L741.3,470.8 L742.0,470.4 L742.8,470.0 L743.6,469.3 L744.4,468.4 L745.1,467.2 L745.9,465.6 L746.7,463.4 L747.5,460.7 L748.2,457.1 L749.0,452.7 L749.8,447.3 L750.5,440.7 L751.3,432.8 L752.1,423.4 L752.9,412.7 L753.6,400.4 L754.4,386.7 L755.2,371.6 L756.0,355.5 L756.7,338.4 L757.5,320.8 L758.3,303.1 L759.1,285.8 L759.8,269.3 L760.6,254.3 L761.4,241.1 L762.2,230.4 L762.9,222.4 L763.7,217.4 L764.5,215.8 L765.3,217.4 L766.0,222.4 L766.8,230.4 L767.6,241.1 L768.3,254.3 L769.1,269.3 L769.9,285.8 L770.7,303.1 L771.4,320.8 L772.2,338.4 L773.0,355.5 L773.8,371.6 L774.5,386.7 L775.3,400.4 L776.1,412.7 L776.9,423.4 L777.6,432.8 L778.4,440.7 L779.2,447.3 L780.0,452.7 L780.7,457.1 L781.5,460.7 L782.3,463.4 L783.1,465.6 L783.8,467.2 L784.6,468.4 L785.4,469.3 L786.2,470.0 L786.9,470.4 L787.7,470.8 L788.5,471.0 L789.2,471.2 L790.0,471.3 L790.0,471.5 Z" fill="none" stroke="#111" stroke-width="1.1"/>
<path d="M855.8,471.5 L855.8,471.4 L856.6,471.3 L857.4,471.3 L858.1,471.2 L858.9,471.1 L859.7,471.0 L860.5,470.9 L861.2,470.8 L862.0,470.6 L862.8,470.4 L863.6,470.1 L864.3,469.8 L865.1,469.5 L865.9,469.1 L866.6,468.6 L867.4,468.0 L868.2,467.3 L869.0,466.5 L869.7,465.6 L870.5,464.6 L871.3,463.4 L872.1,462.1 L872.8,460.6 L873.6,458.9 L874.4,457.0 L875.2,455.0 L875.9,452.7 L876.7,450.2 L877.5,447.5 L878.3,444.6 L879.0,441.5 L879.8,438.2 L880.6,434.7 L881.4,431.0 L882.1,427.2 L882.9,423.3 L883.7,419.2 L884.4,415.1 L885.2,410.9 L886.0,406.7 L886.8,402.6 L887.5,398.5 L888.3,394.6 L889.1,390.9 L889.9,387.4 L890.6,384.1 L891.4,381.1 L892.2,378.5 L893.0,376.3 L893.7,374.4 L894.5,373.1 L895.3,372.1 L896.1,371.6 L896.8,371.6 L897.6,372.1 L898.4,373.1 L899.2,374.4 L899.9,376.3 L900.7,378.5 L901.5,381.1 L902.3,384.1 L903.0,387.4 L903.8,390.9 L904.6,394.6 L905.3,398.5 L906.1,402.6 L906.9,406.7 L907.7,410.9 L908.4,415.1 L909.2,419.2 L910.0,423.3 L910.8,427.2 L911.5,431.0 L912.3,434.7 L913.1,438.2 L913.9,441.5 L914.6,444.6 L915.4,447.5 L916.2,450.2 L917.0,452.7 L917.7,455.0 L918.5,457.0 L919.3,458.9 L920.1,460.6 L920.8,462.1 L921.6,463.4 L922.4,464.6 L923.1,465.6 L923.9,466.5 L924.7,467.3 L925.5,468.0 L926.2,468.6 L927.0,469.1 L927.8,469.5 L928.6,469.8 L929.3,470.1 L930.1,470.4 L930.9,470.6 L931.7,470.8 L932.4,470.9 L933.2,471.0 L934.0,471.1 L934.8,471.2 L935.5,471.3 L936.3,471.3 L937.1,471.4 L937.1,471.5 Z" fill="none" stroke="#111" stroke-width="1.1"/>
<polyline points="739.7,471.2 740.5,471.0 741.3,470.8 742.0,470.4 742.8,469.9 743.6,469.2 744.4,468.3 745.1,467.0 745.9,465.4 746.7,463.1 747.5,460.3 748.2,456.6 749.0,452.0 749.8,446.3 750.5,439.4 751.3,431.1 752.1,421.3 752.9,409.9 753.6,396.8 754.4,382.2 755.2,366.1 756.0,348.7 756.7,330.2 757.5,311.0 758.3,291.4 759.1,272.1 759.8,253.4 760.6,235.9 761.4,220.1 762.2,206.6 762.9,195.8 763.7,187.9 764.5,183.3 765.3,182.0 766.0,184.1 766.8,189.2 767.6,197.3 768.3,207.8 769.1,220.5 769.9,234.7 770.7,249.9 771.4,265.8 772.2,281.7 773.0,297.4 773.8,312.3 774.5,326.3 775.3,339.1 776.1,350.6 776.9,360.8 777.6,369.6 778.4,377.1 779.2,383.4 780.0,388.6 780.7,392.8 781.5,396.2 782.3,398.8 783.1,400.9 783.8,402.4 784.6,403.6 785.4,404.5 786.2,405.1 786.9,405.6 787.7,405.9 788.5,406.2 789.2,406.3 790.0,406.4 790.8,406.5 791.6,406.5 792.3,406.6 793.1,406.6 793.9,406.6 794.7,406.6 795.4,406.6 796.2,406.6 797.0,406.6 797.8,406.6 798.5,406.6 799.3,406.6 800.1,406.6 800.9,406.6 801.6,406.6 802.4,406.6 803.2,406.6 804.0,406.6 804.7,406.6 805.5,406.6 806.3,406.6 807.0,406.6 807.8,406.6 808.6,406.6 809.4,406.6 810.1,406.6 810.9,406.6 811.7,406.6 812.5,406.6 813.2,406.6 814.0,406.6 814.8,406.6 815.6,406.6 816.3,406.6 817.1,406.6 817.9,406.6 818.7,406.6 819.4,406.6 820.2,406.6 821.0,406.6 821.8,406.6 822.5,406.6 823.3,406.6 824.1,406.6 824.9,406.6 825.6,406.6 826.4,406.6 827.2,406.6 827.9,406.6 828.7,406.6 829.5,406.6 830.3,406.6 831.0,406.6 831.8,406.6 832.6,406.6 833.4,406.6 834.1,406.6 834.9,406.6 835.7,406.6 836.5,406.6 837.2,406.6 838.0,406.6 838.8,406.6 839.6,406.6 840.3,406.6 841.1,406.6 841.9,406.6 842.7,406.6 843.4,406.6 844.2,406.6 845.0,406.6 845.7,406.6 846.5,406.6 847.3,406.6 848.1,406.6 848.8,406.6 849.6,406.6 850.4,406.6 851.2,406.6 851.9,406.6 852.7,406.6 853.5,406.6 854.3,406.5 855.0,406.5 855.8,406.5 856.6,406.5 857.4,406.4 858.1,406.3 858.9,406.3 859.7,406.2 860.5,406.1 861.2,405.9 862.0,405.8 862.8,405.6 863.6,405.4 864.3,405.1 865.1,404.8 865.9,404.4 866.6,403.9 867.4,403.4 868.2,402.8 869.0,402.1 869.7,401.3 870.5,400.4 871.3,399.3 872.1,398.2 872.8,396.8 873.6,395.4 874.4,393.7 875.2,392.0 875.9,390.0 876.7,387.9 877.5,385.6 878.3,383.2 879.0,380.6 879.8,377.8 880.6,374.9 881.4,372.0 882.1,368.9 882.9,365.8 883.7,362.6 884.4,359.4 885.2,356.3 886.0,353.3 886.8,350.3 887.5,347.5 888.3,345.0 889.1,342.6 889.9,340.6 890.6,338.8 891.4,337.5 892.2,336.5 893.0,335.9 893.7,335.8 894.5,336.2 895.3,337.0 896.1,338.3 896.8,340.1 897.6,342.3 898.4,345.1 899.2,348.2 899.9,351.7 900.7,355.7 901.5,359.9 902.3,364.5 903.0,369.3 903.8,374.3 904.6,379.4 905.3,384.7 906.1,390.0 906.9,395.3 907.7,400.6 908.4,405.8 909.2,410.9 910.0,415.9 910.8,420.7 911.5,425.3 912.3,429.6 913.1,433.7 913.9,437.6 914.6,441.2 915.4,444.6 916.2,447.7 917.0,450.5 917.7,453.1 918.5,455.4 919.3,457.5 920.1,459.4 920.8,461.1 921.6,462.6 922.4,463.9 923.1,465.0 923.9,466.0 924.7,466.9 925.5,467.7 926.2,468.3 927.0,468.8 927.8,469.3 928.6,469.7 929.3,470.0 930.1,470.3 930.9,470.5 931.7,470.7 932.4,470.9 933.2,471.0 934.0,471.1 934.8,471.2 935.5,471.3" fill="none" stroke="#1a1a1a" stroke-width="1.1"/>
<polyline points="732.7,471.5 733.5,469.2 734.3,468.0 735.1,467.1 735.8,466.7 736.6,467.1 737.4,468.0 738.2,469.1 738.9,470.0 739.7,470.5 740.5,470.7 741.3,470.7 742.0,470.4 742.8,469.9 743.6,469.2 744.4,468.3 745.1,467.0 745.9,465.4 746.7,463.1 747.5,460.3 748.2,456.6 749.0,452.0 749.8,446.3 750.5,439.4 751.3,431.1 752.1,421.3 752.9,409.9 753.6,396.8 754.4,382.2 755.2,366.1 756.0,348.5 756.7,329.8 757.5,310.2 758.3,289.8 759.1,268.9 759.8,247.7 760.6,226.6 761.4,206.3 762.2,187.4 762.9,171.2 763.7,159.0 764.5,151.9 765.3,150.6 766.0,155.1 766.8,164.6 767.6,178.0 768.3,193.9 769.1,211.2 769.9,229.0 770.7,246.8 771.4,264.1 772.2,280.9 773.0,297.0 773.8,312.1 774.5,326.2 775.3,339.1 776.1,350.6 776.9,360.8 777.6,369.6 778.4,377.1 779.2,383.4 780.0,388.6 780.7,392.8 781.5,396.2 782.3,398.8 783.1,400.9 783.8,402.4 784.6,403.6 785.4,404.5 786.2,403.1 786.9,404.3 787.7,405.5 788.5,406.7 789.2,407.9 790.0,406.9 790.8,406.5 791.6,407.7 792.3,409.6 793.1,409.2 793.9,408.1 794.7,408.0 795.4,409.0 796.2,409.5 797.0,408.5 797.8,408.6 798.5,408.3 799.3,407.8 800.1,406.7 800.9,407.9 801.6,407.9 802.4,408.3 803.2,407.8 804.0,409.3 804.7,410.5 805.5,410.9 806.3,409.5 807.0,408.1 807.8,408.1 808.6,408.8 809.4,409.6 810.1,410.0 810.9,407.7 811.7,405.8 812.5,406.4 813.2,407.9 814.0,408.7 814.8,409.0 815.6,408.7 816.3,408.4 817.1,409.8 817.9,411.6 818.7,410.9 819.4,409.1 820.2,407.2 821.0,407.6 821.8,407.6 822.5,407.9 823.3,407.5 824.1,407.6 824.9,407.3 825.6,408.0 826.4,408.2 827.2,409.1 827.9,408.9 828.7,409.5 829.5,408.1 830.3,408.6 831.0,409.0 831.8,409.3 832.6,407.9 833.4,408.2 834.1,408.5 834.9,409.3 835.7,409.9 836.5,407.9 837.2,406.6 838.0,407.6 838.8,409.1 839.6,409.1 840.3,408.2 841.1,408.3 841.9,407.8 842.7,408.9 843.4,410.0 844.2,409.6 845.0,410.5 845.7,411.5 846.5,411.4 847.3,408.8 848.1,406.9 848.8,405.4 849.6,405.4 850.4,406.7 851.2,408.6 851.9,410.8 852.7,411.7 853.5,412.2 854.3,410.3 855.0,408.5 855.8,408.0 856.6,409.1 857.4,411.0 858.1,406.9 858.9,405.3 859.7,403.6 860.5,402.6 861.2,402.2 862.0,401.7 862.8,401.3 863.6,400.9 864.3,400.4 865.1,400.0 865.9,397.1 866.6,394.1 867.4,391.2 868.2,388.3 869.0,385.4 869.7,379.8 870.5,371.6 871.3,363.5 872.1,355.3 872.8,348.0 873.6,341.6 874.4,335.1 875.2,332.6 875.9,330.2 876.7,327.7 877.5,325.3 878.3,322.8 879.0,318.4 879.8,313.9 880.6,309.5 881.4,305.0 882.1,300.6 882.9,296.2 883.7,291.7 884.4,287.3 885.2,289.7 886.0,292.1 886.8,294.6 887.5,297.0 888.3,299.4 889.1,301.8 889.9,304.3 890.6,306.7 891.4,310.7 892.2,314.7 893.0,318.8 893.7,322.8 894.5,327.2 895.3,331.5 896.1,335.9 896.8,340.3 897.6,344.7 898.4,349.0 899.2,353.2 899.9,357.1 900.7,361.0 901.5,365.0 902.3,368.9 903.0,372.9 903.8,376.8 904.6,380.7 905.3,384.7 906.1,388.6 906.9,392.6 907.7,396.5 908.4,400.5 909.2,404.4 910.0,408.4 910.8,412.3 911.5,415.4 912.3,418.4 913.1,421.5 913.9,424.6 914.6,427.6 915.4,430.7 916.2,433.8 917.0,436.8 917.7,439.9 918.5,443.0 919.3,445.0 920.1,445.9 920.8,446.9 921.6,447.8 922.4,448.8 923.1,449.7 923.9,450.7 924.7,451.6 925.5,452.6 926.2,453.5 927.0,453.9 927.8,454.2 928.6,454.6 929.3,455.0 930.1,455.3 930.9,455.7 931.7,456.3 932.4,457.0 933.2,457.8 934.0,458.6 934.8,459.3 935.5,460.1 936.3,460.9 937.1,461.6 937.9,462.4 938.6,463.2 939.4,463.9 940.2,464.9 941.0,465.8 941.7,466.8 942.5,467.7 943.3,468.7 944.0,469.6 944.8,470.6 945.6,471.2 946.4,471.5" fill="none" stroke="#222" stroke-width="1"/>
<path d="M617.9,471.5 H1019.9 M632.9,140.0 V487.0" stroke="#000" stroke-width="1.5" fill="none"/>
<path d="M652.2,471.5 v7 M671.6,471.5 v7 M690.9,471.5 v7 M710.3,471.5 v15 M729.6,471.5 v7 M749.0,471.5 v7 M768.4,471.5 v7 M787.7,471.5 v15 M807.0,471.5 v7 M826.4,471.5 v7 M845.8,471.5 v7 M865.1,471.5 v15 M884.5,471.5 v7 M903.8,471.5 v7 M923.1,471.5 v7 M942.5,471.5 v15 M961.8,471.5 v7 M981.2,471.5 v7 M1000.5,471.5 v7 M1019.9,471.5 v15 M632.9,462.0 h-7 M632.9,452.6 h-7 M632.9,443.1 h-7 M632.9,433.6 h-7 M632.9,424.1 h-15 M632.9,414.7 h-7 M632.9,405.2 h-7 M632.9,395.7 h-7 M632.9,386.3 h-7 M632.9,376.8 h-15 M632.9,367.3 h-7 M632.9,357.8 h-7 M632.9,348.4 h-7 M632.9,338.9 h-7 M632.9,329.4 h-15 M632.9,320.0 h-7 M632.9,310.5 h-7 M632.9,301.0 h-7 M632.9,291.5 h-7 M632.9,282.1 h-15 M632.9,272.6 h-7 M632.9,263.1 h-7 M632.9,253.7 h-7 M632.9,244.2 h-7 M632.9,234.7 h-15 M632.9,225.2 h-7 M632.9,215.8 h-7 M632.9,206.3 h-7 M632.9,196.8 h-7 M632.9,187.4 h-15 M632.9,177.9 h-7 M632.9,168.4 h-7 M632.9,158.9 h-7 M632.9,149.5 h-7 M632.9,140.0 h-15" stroke="#000" stroke-width="1.5" fill="none"/>
<text x="632.9" y="502.5" font-family='"Liberation Sans", sans-serif' font-size="12.5" text-anchor="middle" fill="#111" stroke="#111" stroke-width="0.25">0</text>
<text x="710.3" y="502.5" font-family='"Liberation Sans", sans-serif' font-size="12.5" text-anchor="middle" fill="#111" stroke="#111" stroke-width="0.25">20</text>
<text x="787.7" y="502.5" font-family='"Liberation Sans", sans-serif' font-size="12.5" text-anchor="middle" fill="#111" stroke="#111" stroke-width="0.25">40</text>
<text x="865.1" y="502.5" font-family='"Liberation Sans", sans-serif' font-size="12.5" text-anchor="middle" fill="#111" stroke="#111" stroke-width="0.25">60</text>
<text x="942.5" y="502.5" font-family='"Liberation Sans", sans-serif' font-size="12.5" text-anchor="middle" fill="#111" stroke="#111" stroke-width="0.25">80</text>
<text x="1019.9" y="502.5" font-family='"Liberation Sans", sans-serif' font-size="12.5" text-anchor="middle" fill="#111" stroke="#111" stroke-width="0.25">100</text>
<text transform="translate(610.8,471.5) rotate(-90) scale(0.8,1)" font-family='"Liberation Sans", sans-serif' font-size="15.5" text-anchor="middle" fill="#222" stroke="#222" stroke-width="0.25">0</text>
<text transform="translate(610.8,424.1) rotate(-90) scale(0.8,1)" font-family='"Liberation Sans", sans-serif' font-size="15.5" text-anchor="middle" fill="#222" stroke="#222" stroke-width="0.25">100</text>
<text transform="translate(610.8,376.8) rotate(-90) scale(0.8,1)" font-family='"Liberation Sans", sans-serif' font-size="15.5" text-anchor="middle" fill="#222" stroke="#222" stroke-width="0.25">200</text>
<text transform="translate(610.8,329.4) rotate(-90) scale(0.8,1)" font-family='"Liberation Sans", sans-serif' font-size="15.5" text-anchor="middle" fill="#222" stroke="#222" stroke-width="0.25">300</text>
<text transform="translate(610.8,282.1) rotate(-90) scale(0.8,1)" font-family='"Liberation Sans", sans-serif' font-size="15.5" text-anchor="middle" fill="#222" stroke="#222" stroke-width="0.25">400</text>
<text transform="translate(610.8,234.7) rotate(-90) scale(0.8,1)" font-family='"Liberation Sans", sans-serif' font-size="15.5" text-anchor="middle" fill="#222" stroke="#222" stroke-width="0.25">500</text>
<text transform="translate(610.8,187.4) rotate(-90) scale(0.8,1)" font-family='"Liberation Sans", sans-serif' font-size="15.5" text-anchor="middle" fill="#222" stroke="#222" stroke-width="0.25">600</text>
<text transform="translate(610.8,140.0) rotate(-90) scale(0.8,1)" font-family='"Liberation Sans", sans-serif' font-size="15.5" text-anchor="middle" fill="#222" stroke="#222" stroke-width="0.25">700</text>
<text transform="translate(589.9,305.8) rotate(-90)" font-family='"Liberation Sans", sans-serif' font-size="12.8" text-anchor="middle" fill="#111">Number</text>
<text x="826.4" y="522.5" font-family='"Liberation Sans", sans-serif' font-size="13" text-anchor="middle" fill="#111">FL2-A FL2-A</text>
<rect x="632.9" y="534.5" width="390.5" height="4" fill="#000"/>
<text x="826.9" y="554.5" font-family='"Liberation Serif", serif' font-weight="bold" font-size="18" text-anchor="middle">5-Fu</text>
<path d="M764.5,473.0 L770.1,483.5 L758.9,483.5 Z" fill="#000"/>
<path d="M884.1,473.0 L889.7,483.5 L878.5,483.5 Z" fill="#000"/>
<rect x="940.0" y="102.5" width="12.8" height="11" fill="#ee2526" stroke="#111" stroke-width="1.5"/>
<text x="957.6" y="112.9" font-family='"Liberation Sans", sans-serif' font-size="13" fill="#2a2a78" stroke="#2a2a78" stroke-width="0.3">Dip G1: 26.20 %</text>
<rect x="940.0" y="118.0" width="12.8" height="11" fill="#ee2526" stroke="#111" stroke-width="1.5"/>
<text x="957.6" y="128.4" font-family='"Liberation Sans", sans-serif' font-size="13" fill="#2a2a78" stroke="#2a2a78" stroke-width="0.3">Dip G2: 19.58 %</text>
<rect x="940.0" y="133.4" width="12.8" height="11.5" fill="#fff" stroke="#111" stroke-width="1.5"/>
<path d="M941.2,135.7 l10,8 M945.2,134.2 l7,6" stroke="#3a3a80" stroke-width="1.1"/>
<text x="957.6" y="143.9" font-family='"Liberation Sans", sans-serif' font-size="13" fill="#2a2a78" stroke="#2a2a78" stroke-width="0.3">Dip S: 54.21 %</text>
<clipPath id="cr2"><path d="M1240.5,471.5 L1240.5,471.3 L1241.3,471.2 L1242.1,471.1 L1242.8,470.9 L1243.6,470.6 L1244.4,470.2 L1245.2,469.6 L1245.9,468.8 L1246.7,467.7 L1247.5,466.2 L1248.3,464.3 L1249.0,461.8 L1249.8,458.6 L1250.6,454.5 L1251.4,449.4 L1252.1,443.2 L1252.9,435.7 L1253.7,426.8 L1254.4,416.4 L1255.2,404.5 L1256.0,391.0 L1256.8,376.1 L1257.5,359.9 L1258.3,342.7 L1259.1,324.7 L1259.9,306.4 L1260.6,288.2 L1261.4,270.7 L1262.2,254.3 L1263.0,239.6 L1263.7,227.2 L1264.5,217.4 L1265.3,210.7 L1266.1,207.3 L1266.8,207.3 L1267.6,210.7 L1268.4,217.4 L1269.2,227.2 L1269.9,239.6 L1270.7,254.3 L1271.5,270.7 L1272.2,288.2 L1273.0,306.4 L1273.8,324.7 L1274.6,342.7 L1275.3,359.9 L1276.1,376.1 L1276.9,391.0 L1277.7,404.5 L1278.4,416.4 L1279.2,426.8 L1280.0,435.7 L1280.8,443.2 L1281.5,449.4 L1282.3,454.5 L1283.1,458.6 L1283.9,461.8 L1284.6,464.3 L1285.4,466.2 L1286.2,467.7 L1287.0,468.8 L1287.7,469.6 L1288.5,470.2 L1289.3,470.6 L1290.1,470.9 L1290.8,471.1 L1291.6,471.2 L1292.4,471.3 L1292.4,471.5 Z"/><path d="M1358.2,471.5 L1358.2,471.3 L1358.9,471.3 L1359.7,471.2 L1360.5,471.2 L1361.3,471.1 L1362.0,471.0 L1362.8,470.9 L1363.6,470.8 L1364.4,470.6 L1365.1,470.4 L1365.9,470.2 L1366.7,469.9 L1367.5,469.6 L1368.2,469.3 L1369.0,468.8 L1369.8,468.4 L1370.5,467.8 L1371.3,467.2 L1372.1,466.5 L1372.9,465.8 L1373.6,464.9 L1374.4,463.9 L1375.2,462.9 L1376.0,461.7 L1376.7,460.4 L1377.5,459.1 L1378.3,457.6 L1379.1,456.0 L1379.8,454.4 L1380.6,452.6 L1381.4,450.8 L1382.2,448.9 L1382.9,446.9 L1383.7,444.9 L1384.5,442.9 L1385.3,440.8 L1386.0,438.8 L1386.8,436.8 L1387.6,434.9 L1388.3,433.0 L1389.1,431.2 L1389.9,429.5 L1390.7,428.0 L1391.4,426.7 L1392.2,425.5 L1393.0,424.5 L1393.8,423.7 L1394.5,423.1 L1395.3,422.8 L1396.1,422.6 L1396.9,422.8 L1397.6,423.1 L1398.4,423.7 L1399.2,424.5 L1400.0,425.5 L1400.7,426.7 L1401.5,428.0 L1402.3,429.5 L1403.1,431.2 L1403.8,433.0 L1404.6,434.9 L1405.4,436.8 L1406.2,438.8 L1406.9,440.8 L1407.7,442.9 L1408.5,444.9 L1409.2,446.9 L1410.0,448.9 L1410.8,450.8 L1411.6,452.6 L1412.3,454.4 L1413.1,456.0 L1413.9,457.6 L1414.7,459.1 L1415.4,460.4 L1416.2,461.7 L1417.0,462.9 L1417.8,463.9 L1418.5,464.9 L1419.3,465.8 L1420.1,466.5 L1420.9,467.2 L1421.6,467.8 L1422.4,468.4 L1423.2,468.8 L1424.0,469.3 L1424.7,469.6 L1425.5,469.9 L1426.3,470.2 L1427.0,470.4 L1427.8,470.6 L1428.6,470.8 L1429.4,470.9 L1430.1,471.0 L1430.9,471.1 L1431.7,471.2 L1432.5,471.2 L1433.2,471.3 L1434.0,471.3 L1434.0,471.5 Z"/></clipPath>
<path d="M1248.3,471.5 L1248.3,471.3 L1249.0,471.3 L1249.8,471.2 L1250.6,471.0 L1251.4,470.9 L1252.1,470.7 L1252.9,470.4 L1253.7,470.1 L1254.4,469.7 L1255.2,469.2 L1256.0,468.6 L1256.8,467.8 L1257.5,467.0 L1258.3,466.0 L1259.1,464.9 L1259.9,463.6 L1260.6,462.1 L1261.4,460.5 L1262.2,458.8 L1263.0,457.0 L1263.7,455.0 L1264.5,452.9 L1265.3,450.8 L1266.1,448.6 L1266.8,446.5 L1267.6,444.3 L1268.4,442.2 L1269.2,440.1 L1269.9,438.1 L1270.7,436.3 L1271.5,434.6 L1272.2,433.0 L1273.0,431.5 L1273.8,430.2 L1274.6,429.1 L1275.3,428.1 L1276.1,427.3 L1276.9,426.5 L1277.7,425.9 L1278.4,425.4 L1279.2,425.0 L1280.0,424.7 L1280.8,424.4 L1281.5,424.2 L1282.3,424.1 L1283.1,423.9 L1283.9,423.8 L1284.6,423.8 L1285.4,423.7 L1286.2,423.7 L1287.0,423.7 L1287.7,423.6 L1288.5,423.6 L1289.3,423.6 L1290.1,423.6 L1290.8,423.6 L1291.6,423.6 L1292.4,423.6 L1293.1,423.6 L1293.9,423.6 L1294.7,423.6 L1295.5,423.6 L1296.2,423.6 L1297.0,423.6 L1297.8,423.6 L1298.6,423.6 L1299.3,423.6 L1300.1,423.6 L1300.9,423.6 L1301.7,423.6 L1302.4,423.6 L1303.2,423.6 L1304.0,423.6 L1304.8,423.6 L1305.5,423.6 L1306.3,423.6 L1307.1,423.6 L1307.9,423.6 L1308.6,423.6 L1309.4,423.6 L1310.2,423.6 L1310.9,423.6 L1311.7,423.6 L1312.5,423.6 L1313.3,423.6 L1314.0,423.6 L1314.8,423.6 L1315.6,423.6 L1316.4,423.6 L1317.1,423.6 L1317.9,423.6 L1318.7,423.6 L1319.5,423.6 L1320.2,423.6 L1321.0,423.6 L1321.8,423.6 L1322.6,423.6 L1323.3,423.6 L1324.1,423.6 L1324.9,423.6 L1325.7,423.6 L1326.4,423.6 L1327.2,423.6 L1328.0,423.6 L1328.8,423.6 L1329.5,423.6 L1330.3,423.6 L1331.1,423.6 L1331.8,423.6 L1332.6,423.6 L1333.4,423.6 L1334.2,423.6 L1334.9,423.6 L1335.7,423.6 L1336.5,423.6 L1337.3,423.6 L1338.0,423.6 L1338.8,423.6 L1339.6,423.6 L1340.4,423.6 L1341.1,423.6 L1341.9,423.6 L1342.7,423.6 L1343.5,423.6 L1344.2,423.6 L1345.0,423.6 L1345.8,423.6 L1346.6,423.6 L1347.3,423.6 L1348.1,423.6 L1348.9,423.6 L1349.6,423.6 L1350.4,423.6 L1351.2,423.6 L1352.0,423.6 L1352.7,423.6 L1353.5,423.6 L1354.3,423.6 L1355.1,423.6 L1355.8,423.6 L1356.6,423.6 L1357.4,423.6 L1358.2,423.6 L1358.9,423.6 L1359.7,423.6 L1360.5,423.6 L1361.3,423.6 L1362.0,423.7 L1362.8,423.7 L1363.6,423.7 L1364.4,423.7 L1365.1,423.7 L1365.9,423.8 L1366.7,423.8 L1367.5,423.9 L1368.2,423.9 L1369.0,424.0 L1369.8,424.1 L1370.5,424.1 L1371.3,424.3 L1372.1,424.4 L1372.9,424.5 L1373.6,424.7 L1374.4,424.9 L1375.2,425.1 L1376.0,425.3 L1376.7,425.6 L1377.5,425.9 L1378.3,426.3 L1379.1,426.7 L1379.8,427.1 L1380.6,427.6 L1381.4,428.1 L1382.2,428.7 L1382.9,429.4 L1383.7,430.1 L1384.5,430.8 L1385.3,431.6 L1386.0,432.5 L1386.8,433.4 L1387.6,434.3 L1388.3,435.3 L1389.1,436.4 L1389.9,437.5 L1390.7,438.7 L1391.4,439.9 L1392.2,441.1 L1393.0,442.3 L1393.8,443.6 L1394.5,444.9 L1395.3,446.2 L1396.1,447.5 L1396.9,448.9 L1397.6,450.2 L1398.4,451.5 L1399.2,452.8 L1400.0,454.0 L1400.7,455.2 L1401.5,456.4 L1402.3,457.6 L1403.1,458.7 L1403.8,459.8 L1404.6,460.8 L1405.4,461.7 L1406.2,462.6 L1406.9,463.5 L1407.7,464.3 L1408.5,465.0 L1409.2,465.7 L1410.0,466.4 L1410.8,466.9 L1411.6,467.5 L1412.3,468.0 L1413.1,468.4 L1413.9,468.8 L1414.7,469.2 L1415.4,469.5 L1416.2,469.8 L1417.0,470.0 L1417.8,470.2 L1418.5,470.4 L1419.3,470.6 L1420.1,470.7 L1420.9,470.8 L1421.6,471.0 L1422.4,471.0 L1423.2,471.1 L1424.0,471.2 L1424.7,471.2 L1425.5,471.3 L1426.3,471.3 L1426.3,471.5 Z" fill="#fff"/>
<path d="M1248.3,471.5 L1248.3,471.3 L1249.0,471.3 L1249.8,471.2 L1250.6,471.0 L1251.4,470.9 L1252.1,470.7 L1252.9,470.4 L1253.7,470.1 L1254.4,469.7 L1255.2,469.2 L1256.0,468.6 L1256.8,467.8 L1257.5,467.0 L1258.3,466.0 L1259.1,464.9 L1259.9,463.6 L1260.6,462.1 L1261.4,460.5 L1262.2,458.8 L1263.0,457.0 L1263.7,455.0 L1264.5,452.9 L1265.3,450.8 L1266.1,448.6 L1266.8,446.5 L1267.6,444.3 L1268.4,442.2 L1269.2,440.1 L1269.9,438.1 L1270.7,436.3 L1271.5,434.6 L1272.2,433.0 L1273.0,431.5 L1273.8,430.2 L1274.6,429.1 L1275.3,428.1 L1276.1,427.3 L1276.9,426.5 L1277.7,425.9 L1278.4,425.4 L1279.2,425.0 L1280.0,424.7 L1280.8,424.4 L1281.5,424.2 L1282.3,424.1 L1283.1,423.9 L1283.9,423.8 L1284.6,423.8 L1285.4,423.7 L1286.2,423.7 L1287.0,423.7 L1287.7,423.6 L1288.5,423.6 L1289.3,423.6 L1290.1,423.6 L1290.8,423.6 L1291.6,423.6 L1292.4,423.6 L1293.1,423.6 L1293.9,423.6 L1294.7,423.6 L1295.5,423.6 L1296.2,423.6 L1297.0,423.6 L1297.8,423.6 L1298.6,423.6 L1299.3,423.6 L1300.1,423.6 L1300.9,423.6 L1301.7,423.6 L1302.4,423.6 L1303.2,423.6 L1304.0,423.6 L1304.8,423.6 L1305.5,423.6 L1306.3,423.6 L1307.1,423.6 L1307.9,423.6 L1308.6,423.6 L1309.4,423.6 L1310.2,423.6 L1310.9,423.6 L1311.7,423.6 L1312.5,423.6 L1313.3,423.6 L1314.0,423.6 L1314.8,423.6 L1315.6,423.6 L1316.4,423.6 L1317.1,423.6 L1317.9,423.6 L1318.7,423.6 L1319.5,423.6 L1320.2,423.6 L1321.0,423.6 L1321.8,423.6 L1322.6,423.6 L1323.3,423.6 L1324.1,423.6 L1324.9,423.6 L1325.7,423.6 L1326.4,423.6 L1327.2,423.6 L1328.0,423.6 L1328.8,423.6 L1329.5,423.6 L1330.3,423.6 L1331.1,423.6 L1331.8,423.6 L1332.6,423.6 L1333.4,423.6 L1334.2,423.6 L1334.9,423.6 L1335.7,423.6 L1336.5,423.6 L1337.3,423.6 L1338.0,423.6 L1338.8,423.6 L1339.6,423.6 L1340.4,423.6 L1341.1,423.6 L1341.9,423.6 L1342.7,423.6 L1343.5,423.6 L1344.2,423.6 L1345.0,423.6 L1345.8,423.6 L1346.6,423.6 L1347.3,423.6 L1348.1,423.6 L1348.9,423.6 L1349.6,423.6 L1350.4,423.6 L1351.2,423.6 L1352.0,423.6 L1352.7,423.6 L1353.5,423.6 L1354.3,423.6 L1355.1,423.6 L1355.8,423.6 L1356.6,423.6 L1357.4,423.6 L1358.2,423.6 L1358.9,423.6 L1359.7,423.6 L1360.5,423.6 L1361.3,423.6 L1362.0,423.7 L1362.8,423.7 L1363.6,423.7 L1364.4,423.7 L1365.1,423.7 L1365.9,423.8 L1366.7,423.8 L1367.5,423.9 L1368.2,423.9 L1369.0,424.0 L1369.8,424.1 L1370.5,424.1 L1371.3,424.3 L1372.1,424.4 L1372.9,424.5 L1373.6,424.7 L1374.4,424.9 L1375.2,425.1 L1376.0,425.3 L1376.7,425.6 L1377.5,425.9 L1378.3,426.3 L1379.1,426.7 L1379.8,427.1 L1380.6,427.6 L1381.4,428.1 L1382.2,428.7 L1382.9,429.4 L1383.7,430.1 L1384.5,430.8 L1385.3,431.6 L1386.0,432.5 L1386.8,433.4 L1387.6,434.3 L1388.3,435.3 L1389.1,436.4 L1389.9,437.5 L1390.7,438.7 L1391.4,439.9 L1392.2,441.1 L1393.0,442.3 L1393.8,443.6 L1394.5,444.9 L1395.3,446.2 L1396.1,447.5 L1396.9,448.9 L1397.6,450.2 L1398.4,451.5 L1399.2,452.8 L1400.0,454.0 L1400.7,455.2 L1401.5,456.4 L1402.3,457.6 L1403.1,458.7 L1403.8,459.8 L1404.6,460.8 L1405.4,461.7 L1406.2,462.6 L1406.9,463.5 L1407.7,464.3 L1408.5,465.0 L1409.2,465.7 L1410.0,466.4 L1410.8,466.9 L1411.6,467.5 L1412.3,468.0 L1413.1,468.4 L1413.9,468.8 L1414.7,469.2 L1415.4,469.5 L1416.2,469.8 L1417.0,470.0 L1417.8,470.2 L1418.5,470.4 L1419.3,470.6 L1420.1,470.7 L1420.9,470.8 L1421.6,471.0 L1422.4,471.0 L1423.2,471.1 L1424.0,471.2 L1424.7,471.2 L1425.5,471.3 L1426.3,471.3 L1426.3,471.5 Z" fill="url(#hatchN)"/>
<path d="M1240.5,471.5 L1240.5,471.3 L1241.3,471.2 L1242.1,471.1 L1242.8,470.9 L1243.6,470.6 L1244.4,470.2 L1245.2,469.6 L1245.9,468.8 L1246.7,467.7 L1247.5,466.2 L1248.3,464.3 L1249.0,461.8 L1249.8,458.6 L1250.6,454.5 L1251.4,449.4 L1252.1,443.2 L1252.9,435.7 L1253.7,426.8 L1254.4,416.4 L1255.2,404.5 L1256.0,391.0 L1256.8,376.1 L1257.5,359.9 L1258.3,342.7 L1259.1,324.7 L1259.9,306.4 L1260.6,288.2 L1261.4,270.7 L1262.2,254.3 L1263.0,239.6 L1263.7,227.2 L1264.5,217.4 L1265.3,210.7 L1266.1,207.3 L1266.8,207.3 L1267.6,210.7 L1268.4,217.4 L1269.2,227.2 L1269.9,239.6 L1270.7,254.3 L1271.5,270.7 L1272.2,288.2 L1273.0,306.4 L1273.8,324.7 L1274.6,342.7 L1275.3,359.9 L1276.1,376.1 L1276.9,391.0 L1277.7,404.5 L1278.4,416.4 L1279.2,426.8 L1280.0,435.7 L1280.8,443.2 L1281.5,449.4 L1282.3,454.5 L1283.1,458.6 L1283.9,461.8 L1284.6,464.3 L1285.4,466.2 L1286.2,467.7 L1287.0,468.8 L1287.7,469.6 L1288.5,470.2 L1289.3,470.6 L1290.1,470.9 L1290.8,471.1 L1291.6,471.2 L1292.4,471.3 L1292.4,471.5 Z" fill="#ee2526"/>
<path d="M1358.2,471.5 L1358.2,471.3 L1358.9,471.3 L1359.7,471.2 L1360.5,471.2 L1361.3,471.1 L1362.0,471.0 L1362.8,470.9 L1363.6,470.8 L1364.4,470.6 L1365.1,470.4 L1365.9,470.2 L1366.7,469.9 L1367.5,469.6 L1368.2,469.3 L1369.0,468.8 L1369.8,468.4 L1370.5,467.8 L1371.3,467.2 L1372.1,466.5 L1372.9,465.8 L1373.6,464.9 L1374.4,463.9 L1375.2,462.9 L1376.0,461.7 L1376.7,460.4 L1377.5,459.1 L1378.3,457.6 L1379.1,456.0 L1379.8,454.4 L1380.6,452.6 L1381.4,450.8 L1382.2,448.9 L1382.9,446.9 L1383.7,444.9 L1384.5,442.9 L1385.3,440.8 L1386.0,438.8 L1386.8,436.8 L1387.6,434.9 L1388.3,433.0 L1389.1,431.2 L1389.9,429.5 L1390.7,428.0 L1391.4,426.7 L1392.2,425.5 L1393.0,424.5 L1393.8,423.7 L1394.5,423.1 L1395.3,422.8 L1396.1,422.6 L1396.9,422.8 L1397.6,423.1 L1398.4,423.7 L1399.2,424.5 L1400.0,425.5 L1400.7,426.7 L1401.5,428.0 L1402.3,429.5 L1403.1,431.2 L1403.8,433.0 L1404.6,434.9 L1405.4,436.8 L1406.2,438.8 L1406.9,440.8 L1407.7,442.9 L1408.5,444.9 L1409.2,446.9 L1410.0,448.9 L1410.8,450.8 L1411.6,452.6 L1412.3,454.4 L1413.1,456.0 L1413.9,457.6 L1414.7,459.1 L1415.4,460.4 L1416.2,461.7 L1417.0,462.9 L1417.8,463.9 L1418.5,464.9 L1419.3,465.8 L1420.1,466.5 L1420.9,467.2 L1421.6,467.8 L1422.4,468.4 L1423.2,468.8 L1424.0,469.3 L1424.7,469.6 L1425.5,469.9 L1426.3,470.2 L1427.0,470.4 L1427.8,470.6 L1428.6,470.8 L1429.4,470.9 L1430.1,471.0 L1430.9,471.1 L1431.7,471.2 L1432.5,471.2 L1433.2,471.3 L1434.0,471.3 L1434.0,471.5 Z" fill="#ee2526"/>
<g clip-path="url(#cr2)"><path d="M1248.3,471.5 L1248.3,471.3 L1249.0,471.3 L1249.8,471.2 L1250.6,471.0 L1251.4,470.9 L1252.1,470.7 L1252.9,470.4 L1253.7,470.1 L1254.4,469.7 L1255.2,469.2 L1256.0,468.6 L1256.8,467.8 L1257.5,467.0 L1258.3,466.0 L1259.1,464.9 L1259.9,463.6 L1260.6,462.1 L1261.4,460.5 L1262.2,458.8 L1263.0,457.0 L1263.7,455.0 L1264.5,452.9 L1265.3,450.8 L1266.1,448.6 L1266.8,446.5 L1267.6,444.3 L1268.4,442.2 L1269.2,440.1 L1269.9,438.1 L1270.7,436.3 L1271.5,434.6 L1272.2,433.0 L1273.0,431.5 L1273.8,430.2 L1274.6,429.1 L1275.3,428.1 L1276.1,427.3 L1276.9,426.5 L1277.7,425.9 L1278.4,425.4 L1279.2,425.0 L1280.0,424.7 L1280.8,424.4 L1281.5,424.2 L1282.3,424.1 L1283.1,423.9 L1283.9,423.8 L1284.6,423.8 L1285.4,423.7 L1286.2,423.7 L1287.0,423.7 L1287.7,423.6 L1288.5,423.6 L1289.3,423.6 L1290.1,423.6 L1290.8,423.6 L1291.6,423.6 L1292.4,423.6 L1293.1,423.6 L1293.9,423.6 L1294.7,423.6 L1295.5,423.6 L1296.2,423.6 L1297.0,423.6 L1297.8,423.6 L1298.6,423.6 L1299.3,423.6 L1300.1,423.6 L1300.9,423.6 L1301.7,423.6 L1302.4,423.6 L1303.2,423.6 L1304.0,423.6 L1304.8,423.6 L1305.5,423.6 L1306.3,423.6 L1307.1,423.6 L1307.9,423.6 L1308.6,423.6 L1309.4,423.6 L1310.2,423.6 L1310.9,423.6 L1311.7,423.6 L1312.5,423.6 L1313.3,423.6 L1314.0,423.6 L1314.8,423.6 L1315.6,423.6 L1316.4,423.6 L1317.1,423.6 L1317.9,423.6 L1318.7,423.6 L1319.5,423.6 L1320.2,423.6 L1321.0,423.6 L1321.8,423.6 L1322.6,423.6 L1323.3,423.6 L1324.1,423.6 L1324.9,423.6 L1325.7,423.6 L1326.4,423.6 L1327.2,423.6 L1328.0,423.6 L1328.8,423.6 L1329.5,423.6 L1330.3,423.6 L1331.1,423.6 L1331.8,423.6 L1332.6,423.6 L1333.4,423.6 L1334.2,423.6 L1334.9,423.6 L1335.7,423.6 L1336.5,423.6 L1337.3,423.6 L1338.0,423.6 L1338.8,423.6 L1339.6,423.6 L1340.4,423.6 L1341.1,423.6 L1341.9,423.6 L1342.7,423.6 L1343.5,423.6 L1344.2,423.6 L1345.0,423.6 L1345.8,423.6 L1346.6,423.6 L1347.3,423.6 L1348.1,423.6 L1348.9,423.6 L1349.6,423.6 L1350.4,423.6 L1351.2,423.6 L1352.0,423.6 L1352.7,423.6 L1353.5,423.6 L1354.3,423.6 L1355.1,423.6 L1355.8,423.6 L1356.6,423.6 L1357.4,423.6 L1358.2,423.6 L1358.9,423.6 L1359.7,423.6 L1360.5,423.6 L1361.3,423.6 L1362.0,423.7 L1362.8,423.7 L1363.6,423.7 L1364.4,423.7 L1365.1,423.7 L1365.9,423.8 L1366.7,423.8 L1367.5,423.9 L1368.2,423.9 L1369.0,424.0 L1369.8,424.1 L1370.5,424.1 L1371.3,424.3 L1372.1,424.4 L1372.9,424.5 L1373.6,424.7 L1374.4,424.9 L1375.2,425.1 L1376.0,425.3 L1376.7,425.6 L1377.5,425.9 L1378.3,426.3 L1379.1,426.7 L1379.8,427.1 L1380.6,427.6 L1381.4,428.1 L1382.2,428.7 L1382.9,429.4 L1383.7,430.1 L1384.5,430.8 L1385.3,431.6 L1386.0,432.5 L1386.8,433.4 L1387.6,434.3 L1388.3,435.3 L1389.1,436.4 L1389.9,437.5 L1390.7,438.7 L1391.4,439.9 L1392.2,441.1 L1393.0,442.3 L1393.8,443.6 L1394.5,444.9 L1395.3,446.2 L1396.1,447.5 L1396.9,448.9 L1397.6,450.2 L1398.4,451.5 L1399.2,452.8 L1400.0,454.0 L1400.7,455.2 L1401.5,456.4 L1402.3,457.6 L1403.1,458.7 L1403.8,459.8 L1404.6,460.8 L1405.4,461.7 L1406.2,462.6 L1406.9,463.5 L1407.7,464.3 L1408.5,465.0 L1409.2,465.7 L1410.0,466.4 L1410.8,466.9 L1411.6,467.5 L1412.3,468.0 L1413.1,468.4 L1413.9,468.8 L1414.7,469.2 L1415.4,469.5 L1416.2,469.8 L1417.0,470.0 L1417.8,470.2 L1418.5,470.4 L1419.3,470.6 L1420.1,470.7 L1420.9,470.8 L1421.6,471.0 L1422.4,471.0 L1423.2,471.1 L1424.0,471.2 L1424.7,471.2 L1425.5,471.3 L1426.3,471.3 L1426.3,471.5 Z" fill="url(#hatchM)"/></g>
<path d="M1248.3,471.5 L1248.3,471.3 L1249.0,471.3 L1249.8,471.2 L1250.6,471.0 L1251.4,470.9 L1252.1,470.7 L1252.9,470.4 L1253.7,470.1 L1254.4,469.7 L1255.2,469.2 L1256.0,468.6 L1256.8,467.8 L1257.5,467.0 L1258.3,466.0 L1259.1,464.9 L1259.9,463.6 L1260.6,462.1 L1261.4,460.5 L1262.2,458.8 L1263.0,457.0 L1263.7,455.0 L1264.5,452.9 L1265.3,450.8 L1266.1,448.6 L1266.8,446.5 L1267.6,444.3 L1268.4,442.2 L1269.2,440.1 L1269.9,438.1 L1270.7,436.3 L1271.5,434.6 L1272.2,433.0 L1273.0,431.5 L1273.8,430.2 L1274.6,429.1 L1275.3,428.1 L1276.1,427.3 L1276.9,426.5 L1277.7,425.9 L1278.4,425.4 L1279.2,425.0 L1280.0,424.7 L1280.8,424.4 L1281.5,424.2 L1282.3,424.1 L1283.1,423.9 L1283.9,423.8 L1284.6,423.8 L1285.4,423.7 L1286.2,423.7 L1287.0,423.7 L1287.7,423.6 L1288.5,423.6 L1289.3,423.6 L1290.1,423.6 L1290.8,423.6 L1291.6,423.6 L1292.4,423.6 L1293.1,423.6 L1293.9,423.6 L1294.7,423.6 L1295.5,423.6 L1296.2,423.6 L1297.0,423.6 L1297.8,423.6 L1298.6,423.6 L1299.3,423.6 L1300.1,423.6 L1300.9,423.6 L1301.7,423.6 L1302.4,423.6 L1303.2,423.6 L1304.0,423.6 L1304.8,423.6 L1305.5,423.6 L1306.3,423.6 L1307.1,423.6 L1307.9,423.6 L1308.6,423.6 L1309.4,423.6 L1310.2,423.6 L1310.9,423.6 L1311.7,423.6 L1312.5,423.6 L1313.3,423.6 L1314.0,423.6 L1314.8,423.6 L1315.6,423.6 L1316.4,423.6 L1317.1,423.6 L1317.9,423.6 L1318.7,423.6 L1319.5,423.6 L1320.2,423.6 L1321.0,423.6 L1321.8,423.6 L1322.6,423.6 L1323.3,423.6 L1324.1,423.6 L1324.9,423.6 L1325.7,423.6 L1326.4,423.6 L1327.2,423.6 L1328.0,423.6 L1328.8,423.6 L1329.5,423.6 L1330.3,423.6 L1331.1,423.6 L1331.8,423.6 L1332.6,423.6 L1333.4,423.6 L1334.2,423.6 L1334.9,423.6 L1335.7,423.6 L1336.5,423.6 L1337.3,423.6 L1338.0,423.6 L1338.8,423.6 L1339.6,423.6 L1340.4,423.6 L1341.1,423.6 L1341.9,423.6 L1342.7,423.6 L1343.5,423.6 L1344.2,423.6 L1345.0,423.6 L1345.8,423.6 L1346.6,423.6 L1347.3,423.6 L1348.1,423.6 L1348.9,423.6 L1349.6,423.6 L1350.4,423.6 L1351.2,423.6 L1352.0,423.6 L1352.7,423.6 L1353.5,423.6 L1354.3,423.6 L1355.1,423.6 L1355.8,423.6 L1356.6,423.6 L1357.4,423.6 L1358.2,423.6 L1358.9,423.6 L1359.7,423.6 L1360.5,423.6 L1361.3,423.6 L1362.0,423.7 L1362.8,423.7 L1363.6,423.7 L1364.4,423.7 L1365.1,423.7 L1365.9,423.8 L1366.7,423.8 L1367.5,423.9 L1368.2,423.9 L1369.0,424.0 L1369.8,424.1 L1370.5,424.1 L1371.3,424.3 L1372.1,424.4 L1372.9,424.5 L1373.6,424.7 L1374.4,424.9 L1375.2,425.1 L1376.0,425.3 L1376.7,425.6 L1377.5,425.9 L1378.3,426.3 L1379.1,426.7 L1379.8,427.1 L1380.6,427.6 L1381.4,428.1 L1382.2,428.7 L1382.9,429.4 L1383.7,430.1 L1384.5,430.8 L1385.3,431.6 L1386.0,432.5 L1386.8,433.4 L1387.6,434.3 L1388.3,435.3 L1389.1,436.4 L1389.9,437.5 L1390.7,438.7 L1391.4,439.9 L1392.2,441.1 L1393.0,442.3 L1393.8,443.6 L1394.5,444.9 L1395.3,446.2 L1396.1,447.5 L1396.9,448.9 L1397.6,450.2 L1398.4,451.5 L1399.2,452.8 L1400.0,454.0 L1400.7,455.2 L1401.5,456.4 L1402.3,457.6 L1403.1,458.7 L1403.8,459.8 L1404.6,460.8 L1405.4,461.7 L1406.2,462.6 L1406.9,463.5 L1407.7,464.3 L1408.5,465.0 L1409.2,465.7 L1410.0,466.4 L1410.8,466.9 L1411.6,467.5 L1412.3,468.0 L1413.1,468.4 L1413.9,468.8 L1414.7,469.2 L1415.4,469.5 L1416.2,469.8 L1417.0,470.0 L1417.8,470.2 L1418.5,470.4 L1419.3,470.6 L1420.1,470.7 L1420.9,470.8 L1421.6,471.0 L1422.4,471.0 L1423.2,471.1 L1424.0,471.2 L1424.7,471.2 L1425.5,471.3 L1426.3,471.3 L1426.3,471.5 Z" fill="none" stroke="#222" stroke-width="1"/>
<path d="M1240.5,471.5 L1240.5,471.3 L1241.3,471.2 L1242.1,471.1 L1242.8,470.9 L1243.6,470.6 L1244.4,470.2 L1245.2,469.6 L1245.9,468.8 L1246.7,467.7 L1247.5,466.2 L1248.3,464.3 L1249.0,461.8 L1249.8,458.6 L1250.6,454.5 L1251.4,449.4 L1252.1,443.2 L1252.9,435.7 L1253.7,426.8 L1254.4,416.4 L1255.2,404.5 L1256.0,391.0 L1256.8,376.1 L1257.5,359.9 L1258.3,342.7 L1259.1,324.7 L1259.9,306.4 L1260.6,288.2 L1261.4,270.7 L1262.2,254.3 L1263.0,239.6 L1263.7,227.2 L1264.5,217.4 L1265.3,210.7 L1266.1,207.3 L1266.8,207.3 L1267.6,210.7 L1268.4,217.4 L1269.2,227.2 L1269.9,239.6 L1270.7,254.3 L1271.5,270.7 L1272.2,288.2 L1273.0,306.4 L1273.8,324.7 L1274.6,342.7 L1275.3,359.9 L1276.1,376.1 L1276.9,391.0 L1277.7,404.5 L1278.4,416.4 L1279.2,426.8 L1280.0,435.7 L1280.8,443.2 L1281.5,449.4 L1282.3,454.5 L1283.1,458.6 L1283.9,461.8 L1284.6,464.3 L1285.4,466.2 L1286.2,467.7 L1287.0,468.8 L1287.7,469.6 L1288.5,470.2 L1289.3,470.6 L1290.1,470.9 L1290.8,471.1 L1291.6,471.2 L1292.4,471.3 L1292.4,471.5 Z" fill="none" stroke="#111" stroke-width="1.1"/>
<path d="M1358.2,471.5 L1358.2,471.3 L1358.9,471.3 L1359.7,471.2 L1360.5,471.2 L1361.3,471.1 L1362.0,471.0 L1362.8,470.9 L1363.6,470.8 L1364.4,470.6 L1365.1,470.4 L1365.9,470.2 L1366.7,469.9 L1367.5,469.6 L1368.2,469.3 L1369.0,468.8 L1369.8,468.4 L1370.5,467.8 L1371.3,467.2 L1372.1,466.5 L1372.9,465.8 L1373.6,464.9 L1374.4,463.9 L1375.2,462.9 L1376.0,461.7 L1376.7,460.4 L1377.5,459.1 L1378.3,457.6 L1379.1,456.0 L1379.8,454.4 L1380.6,452.6 L1381.4,450.8 L1382.2,448.9 L1382.9,446.9 L1383.7,444.9 L1384.5,442.9 L1385.3,440.8 L1386.0,438.8 L1386.8,436.8 L1387.6,434.9 L1388.3,433.0 L1389.1,431.2 L1389.9,429.5 L1390.7,428.0 L1391.4,426.7 L1392.2,425.5 L1393.0,424.5 L1393.8,423.7 L1394.5,423.1 L1395.3,422.8 L1396.1,422.6 L1396.9,422.8 L1397.6,423.1 L1398.4,423.7 L1399.2,424.5 L1400.0,425.5 L1400.7,426.7 L1401.5,428.0 L1402.3,429.5 L1403.1,431.2 L1403.8,433.0 L1404.6,434.9 L1405.4,436.8 L1406.2,438.8 L1406.9,440.8 L1407.7,442.9 L1408.5,444.9 L1409.2,446.9 L1410.0,448.9 L1410.8,450.8 L1411.6,452.6 L1412.3,454.4 L1413.1,456.0 L1413.9,457.6 L1414.7,459.1 L1415.4,460.4 L1416.2,461.7 L1417.0,462.9 L1417.8,463.9 L1418.5,464.9 L1419.3,465.8 L1420.1,466.5 L1420.9,467.2 L1421.6,467.8 L1422.4,468.4 L1423.2,468.8 L1424.0,469.3 L1424.7,469.6 L1425.5,469.9 L1426.3,470.2 L1427.0,470.4 L1427.8,470.6 L1428.6,470.8 L1429.4,470.9 L1430.1,471.0 L1430.9,471.1 L1431.7,471.2 L1432.5,471.2 L1433.2,471.3 L1434.0,471.3 L1434.0,471.5 Z" fill="none" stroke="#111" stroke-width="1.1"/>
<polyline points="1241.3,471.2 1242.1,471.1 1242.8,470.9 1243.6,470.6 1244.4,470.2 1245.2,469.6 1245.9,468.7 1246.7,467.6 1247.5,466.1 1248.3,464.1 1249.0,461.6 1249.8,458.2 1250.6,454.0 1251.4,448.8 1252.1,442.4 1252.9,434.6 1253.7,425.4 1254.4,414.6 1255.2,402.1 1256.0,388.1 1256.8,372.4 1257.5,355.4 1258.3,337.2 1259.1,318.1 1259.9,298.5 1260.6,278.8 1261.4,259.7 1262.2,241.6 1263.0,225.1 1263.7,210.7 1264.5,198.9 1265.3,190.0 1266.1,184.4 1266.8,182.2 1267.6,183.5 1268.4,188.1 1269.2,195.8 1269.9,206.3 1270.7,219.1 1271.5,233.7 1272.2,249.7 1273.0,266.4 1273.8,283.5 1274.6,300.3 1275.3,316.5 1276.1,331.9 1276.9,346.0 1277.7,358.9 1278.4,370.3 1279.2,380.3 1280.0,388.9 1280.8,396.1 1281.5,402.1 1282.3,407.0 1283.1,411.0 1283.9,414.1 1284.6,416.6 1285.4,418.5 1286.2,419.9 1287.0,421.0 1287.7,421.7 1288.5,422.3 1289.3,422.7 1290.1,423.0 1290.8,423.2 1291.6,423.3 1292.4,423.4 1293.1,423.5 1293.9,423.5 1294.7,423.6 1295.5,423.6 1296.2,423.6 1297.0,423.6 1297.8,423.6 1298.6,423.6 1299.3,423.6 1300.1,423.6 1300.9,423.6 1301.7,423.6 1302.4,423.6 1303.2,423.6 1304.0,423.6 1304.8,423.6 1305.5,423.6 1306.3,423.6 1307.1,423.6 1307.9,423.6 1308.6,423.6 1309.4,423.6 1310.2,423.6 1310.9,423.6 1311.7,423.6 1312.5,423.6 1313.3,423.6 1314.0,423.6 1314.8,423.6 1315.6,423.6 1316.4,423.6 1317.1,423.6 1317.9,423.6 1318.7,423.6 1319.5,423.6 1320.2,423.6 1321.0,423.6 1321.8,423.6 1322.6,423.6 1323.3,423.6 1324.1,423.6 1324.9,423.6 1325.7,423.6 1326.4,423.6 1327.2,423.6 1328.0,423.6 1328.8,423.6 1329.5,423.6 1330.3,423.6 1331.1,423.6 1331.8,423.6 1332.6,423.6 1333.4,423.6 1334.2,423.6 1334.9,423.6 1335.7,423.6 1336.5,423.6 1337.3,423.6 1338.0,423.6 1338.8,423.6 1339.6,423.6 1340.4,423.6 1341.1,423.6 1341.9,423.6 1342.7,423.6 1343.5,423.6 1344.2,423.6 1345.0,423.6 1345.8,423.6 1346.6,423.6 1347.3,423.6 1348.1,423.6 1348.9,423.6 1349.6,423.6 1350.4,423.6 1351.2,423.6 1352.0,423.6 1352.7,423.6 1353.5,423.6 1354.3,423.6 1355.1,423.5 1355.8,423.5 1356.6,423.5 1357.4,423.5 1358.2,423.5 1358.9,423.4 1359.7,423.4 1360.5,423.3 1361.3,423.2 1362.0,423.2 1362.8,423.1 1363.6,423.0 1364.4,422.8 1365.1,422.6 1365.9,422.5 1366.7,422.2 1367.5,422.0 1368.2,421.7 1369.0,421.3 1369.8,420.9 1370.5,420.5 1371.3,420.0 1372.1,419.4 1372.9,418.8 1373.6,418.1 1374.4,417.3 1375.2,416.5 1376.0,415.6 1376.7,414.6 1377.5,413.5 1378.3,412.4 1379.1,411.2 1379.8,410.0 1380.6,408.7 1381.4,407.4 1382.2,406.1 1382.9,404.8 1383.7,403.5 1384.5,402.2 1385.3,401.0 1386.0,399.8 1386.8,398.7 1387.6,397.7 1388.3,396.8 1389.1,396.1 1389.9,395.6 1390.7,395.2 1391.4,395.0 1392.2,395.1 1393.0,395.3 1393.8,395.8 1394.5,396.5 1395.3,397.5 1396.1,398.7 1396.9,400.1 1397.6,401.8 1398.4,403.7 1399.2,405.7 1400.0,408.0 1400.7,410.4 1401.5,413.0 1402.3,415.6 1403.1,418.4 1403.8,421.2 1404.6,424.1 1405.4,427.0 1406.2,430.0 1406.9,432.8 1407.7,435.7 1408.5,438.5 1409.2,441.2 1410.0,443.8 1410.8,446.2 1411.6,448.6 1412.3,450.8 1413.1,453.0 1413.9,454.9 1414.7,456.7 1415.4,458.4 1416.2,460.0 1417.0,461.4 1417.8,462.6 1418.5,463.8 1419.3,464.8 1420.1,465.8 1420.9,466.6 1421.6,467.3 1422.4,467.9 1423.2,468.5 1424.0,468.9 1424.7,469.4 1425.5,469.7 1426.3,470.0 1427.0,470.3 1427.8,470.5 1428.6,470.7 1429.4,470.8 1430.1,471.0 1430.9,471.1 1431.7,471.1 1432.5,471.2" fill="none" stroke="#1a1a1a" stroke-width="1.1"/>
<polyline points="1236.6,471.5 1237.4,469.2 1238.2,468.0 1239.0,467.1 1239.7,466.6 1240.5,466.9 1241.3,467.8 1242.1,468.8 1242.8,469.6 1243.6,469.9 1244.4,469.9 1245.2,469.5 1245.9,468.7 1246.7,467.6 1247.5,466.1 1248.3,464.1 1249.0,461.6 1249.8,458.2 1250.6,454.0 1251.4,448.8 1252.1,442.4 1252.9,434.6 1253.7,425.4 1254.4,414.6 1255.2,402.1 1256.0,388.1 1256.8,372.4 1257.5,355.3 1258.3,336.9 1259.1,317.5 1259.9,297.3 1260.6,276.5 1261.4,255.5 1262.2,234.4 1263.0,213.8 1263.7,194.4 1264.5,177.2 1265.3,163.4 1266.1,154.4 1266.8,150.9 1267.6,153.4 1268.4,161.5 1269.2,174.1 1269.9,190.0 1270.7,207.8 1271.5,226.5 1272.2,245.4 1273.0,264.1 1273.8,282.3 1274.6,299.8 1275.3,316.3 1276.1,331.8 1276.9,346.0 1277.7,358.9 1278.4,370.3 1279.2,380.3 1280.0,388.9 1280.8,396.1 1281.5,402.1 1282.3,407.0 1283.1,411.0 1283.9,414.1 1284.6,416.6 1285.4,418.5 1286.2,419.9 1287.0,421.0 1287.7,421.7 1288.5,419.5 1289.3,420.7 1290.1,421.8 1290.8,422.9 1291.6,424.1 1292.4,422.9 1293.1,423.3 1293.9,423.2 1294.7,423.4 1295.5,424.2 1296.2,426.1 1297.0,427.2 1297.8,427.4 1298.6,424.8 1299.3,423.5 1300.1,423.9 1300.9,426.6 1301.7,426.7 1302.4,425.0 1303.2,422.4 1304.0,422.6 1304.8,424.7 1305.5,426.2 1306.3,426.7 1307.1,427.7 1307.9,427.8 1308.6,426.7 1309.4,424.9 1310.2,423.4 1310.9,424.0 1311.7,426.2 1312.5,427.2 1313.3,427.6 1314.0,425.7 1314.8,424.5 1315.6,423.0 1316.4,424.2 1317.1,426.9 1317.9,427.3 1318.7,424.8 1319.5,425.7 1320.2,425.8 1321.0,426.0 1321.8,426.1 1322.6,426.3 1323.3,426.4 1324.1,426.6 1324.9,426.8 1325.7,426.9 1326.4,427.1 1327.2,427.2 1328.0,427.4 1328.8,427.5 1329.5,427.7 1330.3,427.9 1331.1,428.0 1331.8,428.1 1332.6,428.2 1333.4,428.4 1334.2,428.5 1334.9,428.6 1335.7,428.8 1336.5,428.9 1337.3,429.0 1338.0,429.1 1338.8,429.3 1339.6,429.4 1340.4,429.5 1341.1,429.6 1341.9,429.8 1342.7,429.4 1343.5,429.0 1344.2,428.6 1345.0,428.2 1345.8,427.9 1346.6,427.5 1347.3,427.1 1348.1,426.7 1348.9,426.3 1349.6,426.0 1350.4,425.5 1351.2,425.0 1352.0,424.5 1352.7,424.1 1353.5,423.6 1354.3,423.1 1355.1,422.6 1355.8,421.4 1356.6,420.2 1357.4,418.9 1358.2,417.7 1358.9,416.5 1359.7,414.4 1360.5,412.3 1361.3,410.2 1362.0,408.1 1362.8,407.4 1363.6,408.2 1364.4,409.1 1365.1,409.9 1365.9,408.4 1366.7,404.6 1367.5,400.8 1368.2,397.0 1369.0,393.2 1369.8,390.7 1370.5,389.4 1371.3,388.2 1372.1,386.9 1372.9,385.7 1373.6,384.4 1374.4,383.9 1375.2,384.2 1376.0,384.5 1376.7,384.9 1377.5,385.2 1378.3,386.7 1379.1,388.3 1379.8,389.8 1380.6,391.3 1381.4,388.5 1382.2,385.7 1382.9,382.8 1383.7,378.9 1384.5,374.0 1385.3,369.1 1386.0,372.7 1386.8,376.3 1387.6,380.0 1388.3,383.2 1389.1,386.5 1389.9,389.7 1390.7,392.2 1391.4,393.8 1392.2,395.5 1393.0,397.2 1393.8,397.6 1394.5,396.9 1395.3,396.2 1396.1,395.5 1396.9,396.4 1397.6,399.0 1398.4,401.5 1399.2,404.1 1400.0,406.7 1400.7,409.1 1401.5,411.3 1402.3,413.5 1403.1,415.7 1403.8,417.9 1404.6,420.6 1405.4,423.3 1406.2,426.0 1406.9,428.7 1407.7,431.4 1408.5,434.1 1409.2,436.4 1410.0,438.3 1410.8,440.2 1411.6,442.1 1412.3,444.0 1413.1,445.9 1413.9,447.8 1414.7,448.4 1415.4,449.0 1416.2,449.6 1417.0,450.2 1417.8,450.9 1418.5,451.5 1419.3,452.1 1420.1,452.7 1420.9,453.1 1421.6,453.4 1422.4,453.6 1423.2,453.9 1424.0,454.1 1424.7,454.4 1425.5,454.6 1426.3,454.9 1427.0,455.1 1427.8,455.4 1428.6,455.8 1429.4,456.2 1430.1,456.6 1430.9,457.0 1431.7,457.4 1432.5,457.8 1433.2,458.2 1434.0,458.6 1434.8,459.0 1435.6,459.4 1436.3,459.8 1437.1,460.2 1437.9,460.6 1438.7,461.1 1439.4,461.6 1440.2,462.1 1441.0,462.6 1441.8,463.1 1442.5,463.6 1443.3,464.1 1444.1,464.6 1444.9,465.1 1445.6,465.7 1446.4,466.5 1447.2,467.3 1447.9,468.1 1448.7,468.9 1449.5,469.7 1450.3,470.6 1451.0,470.9 1451.8,471.3" fill="none" stroke="#222" stroke-width="1"/>
<path d="M1121.8,471.5 H1523.8 M1136.8,139.5 V487.0" stroke="#000" stroke-width="1.5" fill="none"/>
<path d="M1156.1,471.5 v7 M1175.5,471.5 v7 M1194.8,471.5 v7 M1214.2,471.5 v15 M1233.5,471.5 v7 M1252.9,471.5 v7 M1272.2,471.5 v7 M1291.6,471.5 v15 M1311.0,471.5 v7 M1330.3,471.5 v7 M1349.6,471.5 v7 M1369.0,471.5 v15 M1388.3,471.5 v7 M1407.7,471.5 v7 M1427.0,471.5 v7 M1446.4,471.5 v15 M1465.8,471.5 v7 M1485.1,471.5 v7 M1504.5,471.5 v7 M1523.8,471.5 v15 M1136.8,462.0 h-7 M1136.8,452.5 h-7 M1136.8,443.0 h-7 M1136.8,433.6 h-7 M1136.8,424.1 h-15 M1136.8,414.6 h-7 M1136.8,405.1 h-7 M1136.8,395.6 h-7 M1136.8,386.1 h-7 M1136.8,376.6 h-15 M1136.8,367.2 h-7 M1136.8,357.7 h-7 M1136.8,348.2 h-7 M1136.8,338.7 h-7 M1136.8,329.2 h-15 M1136.8,319.7 h-7 M1136.8,310.2 h-7 M1136.8,300.8 h-7 M1136.8,291.3 h-7 M1136.8,281.8 h-15 M1136.8,272.3 h-7 M1136.8,262.8 h-7 M1136.8,253.3 h-7 M1136.8,243.8 h-7 M1136.8,234.4 h-15 M1136.8,224.9 h-7 M1136.8,215.4 h-7 M1136.8,205.9 h-7 M1136.8,196.4 h-7 M1136.8,186.9 h-15 M1136.8,177.4 h-7 M1136.8,168.0 h-7 M1136.8,158.5 h-7 M1136.8,149.0 h-7 M1136.8,139.5 h-15" stroke="#000" stroke-width="1.5" fill="none"/>
<text x="1136.8" y="502.5" font-family='"Liberation Sans", sans-serif' font-size="12.5" text-anchor="middle" fill="#111" stroke="#111" stroke-width="0.25">0</text>
<text x="1214.2" y="502.5" font-family='"Liberation Sans", sans-serif' font-size="12.5" text-anchor="middle" fill="#111" stroke="#111" stroke-width="0.25">20</text>
<text x="1291.6" y="502.5" font-family='"Liberation Sans", sans-serif' font-size="12.5" text-anchor="middle" fill="#111" stroke="#111" stroke-width="0.25">40</text>
<text x="1369.0" y="502.5" font-family='"Liberation Sans", sans-serif' font-size="12.5" text-anchor="middle" fill="#111" stroke="#111" stroke-width="0.25">60</text>
<text x="1446.4" y="502.5" font-family='"Liberation Sans", sans-serif' font-size="12.5" text-anchor="middle" fill="#111" stroke="#111" stroke-width="0.25">80</text>
<text x="1523.8" y="502.5" font-family='"Liberation Sans", sans-serif' font-size="12.5" text-anchor="middle" fill="#111" stroke="#111" stroke-width="0.25">100</text>
<text transform="translate(1114.7,471.5) rotate(-90) scale(0.8,1)" font-family='"Liberation Sans", sans-serif' font-size="15.5" text-anchor="middle" fill="#222" stroke="#222" stroke-width="0.25">0</text>
<text transform="translate(1114.7,424.1) rotate(-90) scale(0.8,1)" font-family='"Liberation Sans", sans-serif' font-size="15.5" text-anchor="middle" fill="#222" stroke="#222" stroke-width="0.25">100</text>
<text transform="translate(1114.7,376.6) rotate(-90) scale(0.8,1)" font-family='"Liberation Sans", sans-serif' font-size="15.5" text-anchor="middle" fill="#222" stroke="#222" stroke-width="0.25">200</text>
<text transform="translate(1114.7,329.2) rotate(-90) scale(0.8,1)" font-family='"Liberation Sans", sans-serif' font-size="15.5" text-anchor="middle" fill="#222" stroke="#222" stroke-width="0.25">300</text>
<text transform="translate(1114.7,281.8) rotate(-90) scale(0.8,1)" font-family='"Liberation Sans", sans-serif' font-size="15.5" text-anchor="middle" fill="#222" stroke="#222" stroke-width="0.25">400</text>
<text transform="translate(1114.7,234.4) rotate(-90) scale(0.8,1)" font-family='"Liberation Sans", sans-serif' font-size="15.5" text-anchor="middle" fill="#222" stroke="#222" stroke-width="0.25">500</text>
<text transform="translate(1114.7,186.9) rotate(-90) scale(0.8,1)" font-family='"Liberation Sans", sans-serif' font-size="15.5" text-anchor="middle" fill="#222" stroke="#222" stroke-width="0.25">600</text>
<text transform="translate(1114.7,139.5) rotate(-90) scale(0.8,1)" font-family='"Liberation Sans", sans-serif' font-size="15.5" text-anchor="middle" fill="#222" stroke="#222" stroke-width="0.25">700</text>
<text transform="translate(1093.8,305.5) rotate(-90)" font-family='"Liberation Sans", sans-serif' font-size="12.8" text-anchor="middle" fill="#111">Number</text>
<text x="1330.3" y="522.5" font-family='"Liberation Sans", sans-serif' font-size="13" text-anchor="middle" fill="#111">FL2-A FL2-A</text>
<rect x="1136.8" y="534.5" width="390.5" height="4" fill="#000"/>
<text x="1330.8" y="554.5" font-family='"Liberation Serif", serif' font-weight="bold" font-size="18" text-anchor="middle">10mM Met</text>
<path d="M1268.8,473.0 L1274.4,483.5 L1263.2,483.5 Z" fill="#000"/>
<path d="M1384.5,473.0 L1390.1,483.5 L1378.9,483.5 Z" fill="#000"/>
<rect x="1443.8" y="102.5" width="12.8" height="11" fill="#ee2526" stroke="#111" stroke-width="1.5"/>
<text x="1461.5" y="112.9" font-family='"Liberation Sans", sans-serif' font-size="13" fill="#2a2a78" stroke="#2a2a78" stroke-width="0.3">Dip G1: 37.81 %</text>
<rect x="1443.8" y="118.0" width="12.8" height="11" fill="#ee2526" stroke="#111" stroke-width="1.5"/>
<text x="1461.5" y="128.4" font-family='"Liberation Sans", sans-serif' font-size="13" fill="#2a2a78" stroke="#2a2a78" stroke-width="0.3">Dip G2: 13.54 %</text>
<rect x="1443.8" y="133.4" width="12.8" height="11.5" fill="#fff" stroke="#111" stroke-width="1.5"/>
<path d="M1445.1,135.7 l10,8 M1449.1,134.2 l7,6" stroke="#3a3a80" stroke-width="1.1"/>
<text x="1461.5" y="143.9" font-family='"Liberation Sans", sans-serif' font-size="13" fill="#2a2a78" stroke="#2a2a78" stroke-width="0.3">Dip S: 48.65 %</text>
<clipPath id="cr3"><path d="M1746.8,472.3 L1746.8,472.2 L1747.6,472.2 L1748.4,472.1 L1749.1,472.0 L1749.9,471.8 L1750.7,471.6 L1751.5,471.3 L1752.2,470.9 L1753.0,470.3 L1753.8,469.5 L1754.6,468.4 L1755.3,467.0 L1756.1,465.1 L1756.9,462.7 L1757.7,459.7 L1758.4,455.8 L1759.2,451.1 L1760.0,445.3 L1760.7,438.4 L1761.5,430.2 L1762.3,420.7 L1763.1,409.8 L1763.8,397.5 L1764.6,384.0 L1765.4,369.2 L1766.2,353.5 L1766.9,337.1 L1767.7,320.3 L1768.5,303.4 L1769.3,287.0 L1770.0,271.6 L1770.8,257.5 L1771.6,245.2 L1772.4,235.2 L1773.1,227.7 L1773.9,223.2 L1774.7,221.6 L1775.5,223.2 L1776.2,227.7 L1777.0,235.2 L1777.8,245.2 L1778.5,257.5 L1779.3,271.6 L1780.1,287.0 L1780.9,303.4 L1781.6,320.3 L1782.4,337.1 L1783.2,353.5 L1784.0,369.2 L1784.7,384.0 L1785.5,397.5 L1786.3,409.8 L1787.1,420.7 L1787.8,430.2 L1788.6,438.4 L1789.4,445.3 L1790.2,451.1 L1790.9,455.8 L1791.7,459.7 L1792.5,462.7 L1793.3,465.1 L1794.0,467.0 L1794.8,468.4 L1795.6,469.5 L1796.4,470.3 L1797.1,470.9 L1797.9,471.3 L1798.7,471.6 L1799.4,471.8 L1800.2,472.0 L1801.0,472.1 L1801.8,472.2 L1802.5,472.2 L1802.5,472.3 Z"/><path d="M1869.1,472.3 L1869.1,472.2 L1869.9,472.2 L1870.7,472.2 L1871.4,472.1 L1872.2,472.1 L1873.0,472.0 L1873.8,471.9 L1874.5,471.9 L1875.3,471.8 L1876.1,471.7 L1876.8,471.5 L1877.6,471.4 L1878.4,471.2 L1879.2,471.0 L1879.9,470.7 L1880.7,470.4 L1881.5,470.1 L1882.3,469.7 L1883.0,469.3 L1883.8,468.8 L1884.6,468.3 L1885.4,467.7 L1886.1,467.0 L1886.9,466.3 L1887.7,465.5 L1888.5,464.6 L1889.2,463.7 L1890.0,462.7 L1890.8,461.6 L1891.6,460.5 L1892.3,459.3 L1893.1,458.1 L1893.9,456.8 L1894.6,455.5 L1895.4,454.2 L1896.2,452.9 L1897.0,451.5 L1897.7,450.2 L1898.5,448.9 L1899.3,447.7 L1900.1,446.5 L1900.8,445.3 L1901.6,444.3 L1902.4,443.3 L1903.2,442.5 L1903.9,441.8 L1904.7,441.2 L1905.5,440.7 L1906.3,440.4 L1907.0,440.3 L1907.8,440.3 L1908.6,440.4 L1909.4,440.7 L1910.1,441.2 L1910.9,441.8 L1911.7,442.5 L1912.5,443.3 L1913.2,444.3 L1914.0,445.3 L1914.8,446.5 L1915.5,447.7 L1916.3,448.9 L1917.1,450.2 L1917.9,451.5 L1918.6,452.9 L1919.4,454.2 L1920.2,455.5 L1921.0,456.8 L1921.7,458.1 L1922.5,459.3 L1923.3,460.5 L1924.1,461.6 L1924.8,462.7 L1925.6,463.7 L1926.4,464.6 L1927.2,465.5 L1927.9,466.3 L1928.7,467.0 L1929.5,467.7 L1930.3,468.3 L1931.0,468.8 L1931.8,469.3 L1932.6,469.7 L1933.3,470.1 L1934.1,470.4 L1934.9,470.7 L1935.7,471.0 L1936.4,471.2 L1937.2,471.4 L1938.0,471.5 L1938.8,471.7 L1939.5,471.8 L1940.3,471.9 L1941.1,471.9 L1941.9,472.0 L1942.6,472.1 L1943.4,472.1 L1944.2,472.2 L1945.0,472.2 L1945.7,472.2 L1945.7,472.3 Z"/></clipPath>
<path d="M1755.3,472.3 L1755.3,472.2 L1756.1,472.2 L1756.9,472.1 L1757.7,472.0 L1758.4,471.9 L1759.2,471.8 L1760.0,471.6 L1760.7,471.4 L1761.5,471.2 L1762.3,470.9 L1763.1,470.5 L1763.8,470.0 L1764.6,469.5 L1765.4,468.8 L1766.2,468.1 L1766.9,467.2 L1767.7,466.3 L1768.5,465.2 L1769.3,464.0 L1770.0,462.7 L1770.8,461.3 L1771.6,459.8 L1772.4,458.2 L1773.1,456.6 L1773.9,454.9 L1774.7,453.3 L1775.5,451.6 L1776.2,449.9 L1777.0,448.3 L1777.8,446.7 L1778.5,445.2 L1779.3,443.8 L1780.1,442.5 L1780.9,441.3 L1781.6,440.2 L1782.4,439.3 L1783.2,438.4 L1784.0,437.7 L1784.7,437.0 L1785.5,436.5 L1786.3,436.0 L1787.1,435.6 L1787.8,435.3 L1788.6,435.1 L1789.4,434.9 L1790.2,434.7 L1790.9,434.6 L1791.7,434.5 L1792.5,434.4 L1793.3,434.3 L1794.0,434.3 L1794.8,434.3 L1795.6,434.3 L1796.4,434.2 L1797.1,434.2 L1797.9,434.2 L1798.7,434.2 L1799.4,434.2 L1800.2,434.2 L1801.0,434.2 L1801.8,434.2 L1802.5,434.2 L1803.3,434.2 L1804.1,434.2 L1804.9,434.2 L1805.6,434.2 L1806.4,434.2 L1807.2,434.2 L1808.0,434.2 L1808.7,434.2 L1809.5,434.2 L1810.3,434.2 L1811.1,434.2 L1811.8,434.2 L1812.6,434.2 L1813.4,434.2 L1814.2,434.2 L1814.9,434.2 L1815.7,434.2 L1816.5,434.2 L1817.2,434.2 L1818.0,434.2 L1818.8,434.2 L1819.6,434.2 L1820.3,434.2 L1821.1,434.2 L1821.9,434.2 L1822.7,434.2 L1823.4,434.2 L1824.2,434.2 L1825.0,434.2 L1825.8,434.2 L1826.5,434.2 L1827.3,434.2 L1828.1,434.2 L1828.9,434.2 L1829.6,434.2 L1830.4,434.2 L1831.2,434.2 L1832.0,434.2 L1832.7,434.2 L1833.5,434.2 L1834.3,434.2 L1835.1,434.2 L1835.8,434.2 L1836.6,434.2 L1837.4,434.2 L1838.1,434.2 L1838.9,434.2 L1839.7,434.2 L1840.5,434.2 L1841.2,434.2 L1842.0,434.2 L1842.8,434.2 L1843.6,434.2 L1844.3,434.2 L1845.1,434.2 L1845.9,434.2 L1846.7,434.2 L1847.4,434.2 L1848.2,434.2 L1849.0,434.2 L1849.8,434.2 L1850.5,434.2 L1851.3,434.2 L1852.1,434.2 L1852.9,434.2 L1853.6,434.2 L1854.4,434.2 L1855.2,434.2 L1855.9,434.2 L1856.7,434.2 L1857.5,434.2 L1858.3,434.2 L1859.0,434.2 L1859.8,434.2 L1860.6,434.2 L1861.4,434.2 L1862.1,434.2 L1862.9,434.2 L1863.7,434.2 L1864.5,434.2 L1865.2,434.2 L1866.0,434.2 L1866.8,434.2 L1867.6,434.2 L1868.3,434.2 L1869.1,434.2 L1869.9,434.2 L1870.7,434.2 L1871.4,434.2 L1872.2,434.2 L1873.0,434.2 L1873.8,434.3 L1874.5,434.3 L1875.3,434.3 L1876.1,434.3 L1876.8,434.3 L1877.6,434.4 L1878.4,434.4 L1879.2,434.4 L1879.9,434.5 L1880.7,434.5 L1881.5,434.6 L1882.3,434.7 L1883.0,434.8 L1883.8,434.9 L1884.6,435.0 L1885.4,435.1 L1886.1,435.3 L1886.9,435.5 L1887.7,435.7 L1888.5,435.9 L1889.2,436.2 L1890.0,436.5 L1890.8,436.8 L1891.6,437.2 L1892.3,437.6 L1893.1,438.0 L1893.9,438.5 L1894.6,439.1 L1895.4,439.6 L1896.2,440.2 L1897.0,440.9 L1897.7,441.6 L1898.5,442.3 L1899.3,443.1 L1900.1,444.0 L1900.8,444.8 L1901.6,445.7 L1902.4,446.7 L1903.2,447.6 L1903.9,448.6 L1904.7,449.6 L1905.5,450.6 L1906.3,451.7 L1907.0,452.7 L1907.8,453.8 L1908.6,454.8 L1909.4,455.9 L1910.1,456.9 L1910.9,457.9 L1911.7,458.9 L1912.5,459.8 L1913.2,460.8 L1914.0,461.7 L1914.8,462.5 L1915.5,463.4 L1916.3,464.2 L1917.1,464.9 L1917.9,465.6 L1918.6,466.3 L1919.4,466.9 L1920.2,467.4 L1921.0,468.0 L1921.7,468.5 L1922.5,468.9 L1923.3,469.3 L1924.1,469.7 L1924.8,470.0 L1925.6,470.3 L1926.4,470.6 L1927.2,470.8 L1927.9,471.0 L1928.7,471.2 L1929.5,471.4 L1930.3,471.5 L1931.0,471.6 L1931.8,471.7 L1932.6,471.8 L1933.3,471.9 L1934.1,472.0 L1934.9,472.0 L1935.7,472.1 L1936.4,472.1 L1937.2,472.1 L1938.0,472.2 L1938.8,472.2 L1938.8,472.3 Z" fill="#fff"/>
<path d="M1755.3,472.3 L1755.3,472.2 L1756.1,472.2 L1756.9,472.1 L1757.7,472.0 L1758.4,471.9 L1759.2,471.8 L1760.0,471.6 L1760.7,471.4 L1761.5,471.2 L1762.3,470.9 L1763.1,470.5 L1763.8,470.0 L1764.6,469.5 L1765.4,468.8 L1766.2,468.1 L1766.9,467.2 L1767.7,466.3 L1768.5,465.2 L1769.3,464.0 L1770.0,462.7 L1770.8,461.3 L1771.6,459.8 L1772.4,458.2 L1773.1,456.6 L1773.9,454.9 L1774.7,453.3 L1775.5,451.6 L1776.2,449.9 L1777.0,448.3 L1777.8,446.7 L1778.5,445.2 L1779.3,443.8 L1780.1,442.5 L1780.9,441.3 L1781.6,440.2 L1782.4,439.3 L1783.2,438.4 L1784.0,437.7 L1784.7,437.0 L1785.5,436.5 L1786.3,436.0 L1787.1,435.6 L1787.8,435.3 L1788.6,435.1 L1789.4,434.9 L1790.2,434.7 L1790.9,434.6 L1791.7,434.5 L1792.5,434.4 L1793.3,434.3 L1794.0,434.3 L1794.8,434.3 L1795.6,434.3 L1796.4,434.2 L1797.1,434.2 L1797.9,434.2 L1798.7,434.2 L1799.4,434.2 L1800.2,434.2 L1801.0,434.2 L1801.8,434.2 L1802.5,434.2 L1803.3,434.2 L1804.1,434.2 L1804.9,434.2 L1805.6,434.2 L1806.4,434.2 L1807.2,434.2 L1808.0,434.2 L1808.7,434.2 L1809.5,434.2 L1810.3,434.2 L1811.1,434.2 L1811.8,434.2 L1812.6,434.2 L1813.4,434.2 L1814.2,434.2 L1814.9,434.2 L1815.7,434.2 L1816.5,434.2 L1817.2,434.2 L1818.0,434.2 L1818.8,434.2 L1819.6,434.2 L1820.3,434.2 L1821.1,434.2 L1821.9,434.2 L1822.7,434.2 L1823.4,434.2 L1824.2,434.2 L1825.0,434.2 L1825.8,434.2 L1826.5,434.2 L1827.3,434.2 L1828.1,434.2 L1828.9,434.2 L1829.6,434.2 L1830.4,434.2 L1831.2,434.2 L1832.0,434.2 L1832.7,434.2 L1833.5,434.2 L1834.3,434.2 L1835.1,434.2 L1835.8,434.2 L1836.6,434.2 L1837.4,434.2 L1838.1,434.2 L1838.9,434.2 L1839.7,434.2 L1840.5,434.2 L1841.2,434.2 L1842.0,434.2 L1842.8,434.2 L1843.6,434.2 L1844.3,434.2 L1845.1,434.2 L1845.9,434.2 L1846.7,434.2 L1847.4,434.2 L1848.2,434.2 L1849.0,434.2 L1849.8,434.2 L1850.5,434.2 L1851.3,434.2 L1852.1,434.2 L1852.9,434.2 L1853.6,434.2 L1854.4,434.2 L1855.2,434.2 L1855.9,434.2 L1856.7,434.2 L1857.5,434.2 L1858.3,434.2 L1859.0,434.2 L1859.8,434.2 L1860.6,434.2 L1861.4,434.2 L1862.1,434.2 L1862.9,434.2 L1863.7,434.2 L1864.5,434.2 L1865.2,434.2 L1866.0,434.2 L1866.8,434.2 L1867.6,434.2 L1868.3,434.2 L1869.1,434.2 L1869.9,434.2 L1870.7,434.2 L1871.4,434.2 L1872.2,434.2 L1873.0,434.2 L1873.8,434.3 L1874.5,434.3 L1875.3,434.3 L1876.1,434.3 L1876.8,434.3 L1877.6,434.4 L1878.4,434.4 L1879.2,434.4 L1879.9,434.5 L1880.7,434.5 L1881.5,434.6 L1882.3,434.7 L1883.0,434.8 L1883.8,434.9 L1884.6,435.0 L1885.4,435.1 L1886.1,435.3 L1886.9,435.5 L1887.7,435.7 L1888.5,435.9 L1889.2,436.2 L1890.0,436.5 L1890.8,436.8 L1891.6,437.2 L1892.3,437.6 L1893.1,438.0 L1893.9,438.5 L1894.6,439.1 L1895.4,439.6 L1896.2,440.2 L1897.0,440.9 L1897.7,441.6 L1898.5,442.3 L1899.3,443.1 L1900.1,444.0 L1900.8,444.8 L1901.6,445.7 L1902.4,446.7 L1903.2,447.6 L1903.9,448.6 L1904.7,449.6 L1905.5,450.6 L1906.3,451.7 L1907.0,452.7 L1907.8,453.8 L1908.6,454.8 L1909.4,455.9 L1910.1,456.9 L1910.9,457.9 L1911.7,458.9 L1912.5,459.8 L1913.2,460.8 L1914.0,461.7 L1914.8,462.5 L1915.5,463.4 L1916.3,464.2 L1917.1,464.9 L1917.9,465.6 L1918.6,466.3 L1919.4,466.9 L1920.2,467.4 L1921.0,468.0 L1921.7,468.5 L1922.5,468.9 L1923.3,469.3 L1924.1,469.7 L1924.8,470.0 L1925.6,470.3 L1926.4,470.6 L1927.2,470.8 L1927.9,471.0 L1928.7,471.2 L1929.5,471.4 L1930.3,471.5 L1931.0,471.6 L1931.8,471.7 L1932.6,471.8 L1933.3,471.9 L1934.1,472.0 L1934.9,472.0 L1935.7,472.1 L1936.4,472.1 L1937.2,472.1 L1938.0,472.2 L1938.8,472.2 L1938.8,472.3 Z" fill="url(#hatchN)"/>
<path d="M1746.8,472.3 L1746.8,472.2 L1747.6,472.2 L1748.4,472.1 L1749.1,472.0 L1749.9,471.8 L1750.7,471.6 L1751.5,471.3 L1752.2,470.9 L1753.0,470.3 L1753.8,469.5 L1754.6,468.4 L1755.3,467.0 L1756.1,465.1 L1756.9,462.7 L1757.7,459.7 L1758.4,455.8 L1759.2,451.1 L1760.0,445.3 L1760.7,438.4 L1761.5,430.2 L1762.3,420.7 L1763.1,409.8 L1763.8,397.5 L1764.6,384.0 L1765.4,369.2 L1766.2,353.5 L1766.9,337.1 L1767.7,320.3 L1768.5,303.4 L1769.3,287.0 L1770.0,271.6 L1770.8,257.5 L1771.6,245.2 L1772.4,235.2 L1773.1,227.7 L1773.9,223.2 L1774.7,221.6 L1775.5,223.2 L1776.2,227.7 L1777.0,235.2 L1777.8,245.2 L1778.5,257.5 L1779.3,271.6 L1780.1,287.0 L1780.9,303.4 L1781.6,320.3 L1782.4,337.1 L1783.2,353.5 L1784.0,369.2 L1784.7,384.0 L1785.5,397.5 L1786.3,409.8 L1787.1,420.7 L1787.8,430.2 L1788.6,438.4 L1789.4,445.3 L1790.2,451.1 L1790.9,455.8 L1791.7,459.7 L1792.5,462.7 L1793.3,465.1 L1794.0,467.0 L1794.8,468.4 L1795.6,469.5 L1796.4,470.3 L1797.1,470.9 L1797.9,471.3 L1798.7,471.6 L1799.4,471.8 L1800.2,472.0 L1801.0,472.1 L1801.8,472.2 L1802.5,472.2 L1802.5,472.3 Z" fill="#ee2526"/>
<path d="M1869.1,472.3 L1869.1,472.2 L1869.9,472.2 L1870.7,472.2 L1871.4,472.1 L1872.2,472.1 L1873.0,472.0 L1873.8,471.9 L1874.5,471.9 L1875.3,471.8 L1876.1,471.7 L1876.8,471.5 L1877.6,471.4 L1878.4,471.2 L1879.2,471.0 L1879.9,470.7 L1880.7,470.4 L1881.5,470.1 L1882.3,469.7 L1883.0,469.3 L1883.8,468.8 L1884.6,468.3 L1885.4,467.7 L1886.1,467.0 L1886.9,466.3 L1887.7,465.5 L1888.5,464.6 L1889.2,463.7 L1890.0,462.7 L1890.8,461.6 L1891.6,460.5 L1892.3,459.3 L1893.1,458.1 L1893.9,456.8 L1894.6,455.5 L1895.4,454.2 L1896.2,452.9 L1897.0,451.5 L1897.7,450.2 L1898.5,448.9 L1899.3,447.7 L1900.1,446.5 L1900.8,445.3 L1901.6,444.3 L1902.4,443.3 L1903.2,442.5 L1903.9,441.8 L1904.7,441.2 L1905.5,440.7 L1906.3,440.4 L1907.0,440.3 L1907.8,440.3 L1908.6,440.4 L1909.4,440.7 L1910.1,441.2 L1910.9,441.8 L1911.7,442.5 L1912.5,443.3 L1913.2,444.3 L1914.0,445.3 L1914.8,446.5 L1915.5,447.7 L1916.3,448.9 L1917.1,450.2 L1917.9,451.5 L1918.6,452.9 L1919.4,454.2 L1920.2,455.5 L1921.0,456.8 L1921.7,458.1 L1922.5,459.3 L1923.3,460.5 L1924.1,461.6 L1924.8,462.7 L1925.6,463.7 L1926.4,464.6 L1927.2,465.5 L1927.9,466.3 L1928.7,467.0 L1929.5,467.7 L1930.3,468.3 L1931.0,468.8 L1931.8,469.3 L1932.6,469.7 L1933.3,470.1 L1934.1,470.4 L1934.9,470.7 L1935.7,471.0 L1936.4,471.2 L1937.2,471.4 L1938.0,471.5 L1938.8,471.7 L1939.5,471.8 L1940.3,471.9 L1941.1,471.9 L1941.9,472.0 L1942.6,472.1 L1943.4,472.1 L1944.2,472.2 L1945.0,472.2 L1945.7,472.2 L1945.7,472.3 Z" fill="#ee2526"/>
<g clip-path="url(#cr3)"><path d="M1755.3,472.3 L1755.3,472.2 L1756.1,472.2 L1756.9,472.1 L1757.7,472.0 L1758.4,471.9 L1759.2,471.8 L1760.0,471.6 L1760.7,471.4 L1761.5,471.2 L1762.3,470.9 L1763.1,470.5 L1763.8,470.0 L1764.6,469.5 L1765.4,468.8 L1766.2,468.1 L1766.9,467.2 L1767.7,466.3 L1768.5,465.2 L1769.3,464.0 L1770.0,462.7 L1770.8,461.3 L1771.6,459.8 L1772.4,458.2 L1773.1,456.6 L1773.9,454.9 L1774.7,453.3 L1775.5,451.6 L1776.2,449.9 L1777.0,448.3 L1777.8,446.7 L1778.5,445.2 L1779.3,443.8 L1780.1,442.5 L1780.9,441.3 L1781.6,440.2 L1782.4,439.3 L1783.2,438.4 L1784.0,437.7 L1784.7,437.0 L1785.5,436.5 L1786.3,436.0 L1787.1,435.6 L1787.8,435.3 L1788.6,435.1 L1789.4,434.9 L1790.2,434.7 L1790.9,434.6 L1791.7,434.5 L1792.5,434.4 L1793.3,434.3 L1794.0,434.3 L1794.8,434.3 L1795.6,434.3 L1796.4,434.2 L1797.1,434.2 L1797.9,434.2 L1798.7,434.2 L1799.4,434.2 L1800.2,434.2 L1801.0,434.2 L1801.8,434.2 L1802.5,434.2 L1803.3,434.2 L1804.1,434.2 L1804.9,434.2 L1805.6,434.2 L1806.4,434.2 L1807.2,434.2 L1808.0,434.2 L1808.7,434.2 L1809.5,434.2 L1810.3,434.2 L1811.1,434.2 L1811.8,434.2 L1812.6,434.2 L1813.4,434.2 L1814.2,434.2 L1814.9,434.2 L1815.7,434.2 L1816.5,434.2 L1817.2,434.2 L1818.0,434.2 L1818.8,434.2 L1819.6,434.2 L1820.3,434.2 L1821.1,434.2 L1821.9,434.2 L1822.7,434.2 L1823.4,434.2 L1824.2,434.2 L1825.0,434.2 L1825.8,434.2 L1826.5,434.2 L1827.3,434.2 L1828.1,434.2 L1828.9,434.2 L1829.6,434.2 L1830.4,434.2 L1831.2,434.2 L1832.0,434.2 L1832.7,434.2 L1833.5,434.2 L1834.3,434.2 L1835.1,434.2 L1835.8,434.2 L1836.6,434.2 L1837.4,434.2 L1838.1,434.2 L1838.9,434.2 L1839.7,434.2 L1840.5,434.2 L1841.2,434.2 L1842.0,434.2 L1842.8,434.2 L1843.6,434.2 L1844.3,434.2 L1845.1,434.2 L1845.9,434.2 L1846.7,434.2 L1847.4,434.2 L1848.2,434.2 L1849.0,434.2 L1849.8,434.2 L1850.5,434.2 L1851.3,434.2 L1852.1,434.2 L1852.9,434.2 L1853.6,434.2 L1854.4,434.2 L1855.2,434.2 L1855.9,434.2 L1856.7,434.2 L1857.5,434.2 L1858.3,434.2 L1859.0,434.2 L1859.8,434.2 L1860.6,434.2 L1861.4,434.2 L1862.1,434.2 L1862.9,434.2 L1863.7,434.2 L1864.5,434.2 L1865.2,434.2 L1866.0,434.2 L1866.8,434.2 L1867.6,434.2 L1868.3,434.2 L1869.1,434.2 L1869.9,434.2 L1870.7,434.2 L1871.4,434.2 L1872.2,434.2 L1873.0,434.2 L1873.8,434.3 L1874.5,434.3 L1875.3,434.3 L1876.1,434.3 L1876.8,434.3 L1877.6,434.4 L1878.4,434.4 L1879.2,434.4 L1879.9,434.5 L1880.7,434.5 L1881.5,434.6 L1882.3,434.7 L1883.0,434.8 L1883.8,434.9 L1884.6,435.0 L1885.4,435.1 L1886.1,435.3 L1886.9,435.5 L1887.7,435.7 L1888.5,435.9 L1889.2,436.2 L1890.0,436.5 L1890.8,436.8 L1891.6,437.2 L1892.3,437.6 L1893.1,438.0 L1893.9,438.5 L1894.6,439.1 L1895.4,439.6 L1896.2,440.2 L1897.0,440.9 L1897.7,441.6 L1898.5,442.3 L1899.3,443.1 L1900.1,444.0 L1900.8,444.8 L1901.6,445.7 L1902.4,446.7 L1903.2,447.6 L1903.9,448.6 L1904.7,449.6 L1905.5,450.6 L1906.3,451.7 L1907.0,452.7 L1907.8,453.8 L1908.6,454.8 L1909.4,455.9 L1910.1,456.9 L1910.9,457.9 L1911.7,458.9 L1912.5,459.8 L1913.2,460.8 L1914.0,461.7 L1914.8,462.5 L1915.5,463.4 L1916.3,464.2 L1917.1,464.9 L1917.9,465.6 L1918.6,466.3 L1919.4,466.9 L1920.2,467.4 L1921.0,468.0 L1921.7,468.5 L1922.5,468.9 L1923.3,469.3 L1924.1,469.7 L1924.8,470.0 L1925.6,470.3 L1926.4,470.6 L1927.2,470.8 L1927.9,471.0 L1928.7,471.2 L1929.5,471.4 L1930.3,471.5 L1931.0,471.6 L1931.8,471.7 L1932.6,471.8 L1933.3,471.9 L1934.1,472.0 L1934.9,472.0 L1935.7,472.1 L1936.4,472.1 L1937.2,472.1 L1938.0,472.2 L1938.8,472.2 L1938.8,472.3 Z" fill="url(#hatchM)"/></g>
<path d="M1755.3,472.3 L1755.3,472.2 L1756.1,472.2 L1756.9,472.1 L1757.7,472.0 L1758.4,471.9 L1759.2,471.8 L1760.0,471.6 L1760.7,471.4 L1761.5,471.2 L1762.3,470.9 L1763.1,470.5 L1763.8,470.0 L1764.6,469.5 L1765.4,468.8 L1766.2,468.1 L1766.9,467.2 L1767.7,466.3 L1768.5,465.2 L1769.3,464.0 L1770.0,462.7 L1770.8,461.3 L1771.6,459.8 L1772.4,458.2 L1773.1,456.6 L1773.9,454.9 L1774.7,453.3 L1775.5,451.6 L1776.2,449.9 L1777.0,448.3 L1777.8,446.7 L1778.5,445.2 L1779.3,443.8 L1780.1,442.5 L1780.9,441.3 L1781.6,440.2 L1782.4,439.3 L1783.2,438.4 L1784.0,437.7 L1784.7,437.0 L1785.5,436.5 L1786.3,436.0 L1787.1,435.6 L1787.8,435.3 L1788.6,435.1 L1789.4,434.9 L1790.2,434.7 L1790.9,434.6 L1791.7,434.5 L1792.5,434.4 L1793.3,434.3 L1794.0,434.3 L1794.8,434.3 L1795.6,434.3 L1796.4,434.2 L1797.1,434.2 L1797.9,434.2 L1798.7,434.2 L1799.4,434.2 L1800.2,434.2 L1801.0,434.2 L1801.8,434.2 L1802.5,434.2 L1803.3,434.2 L1804.1,434.2 L1804.9,434.2 L1805.6,434.2 L1806.4,434.2 L1807.2,434.2 L1808.0,434.2 L1808.7,434.2 L1809.5,434.2 L1810.3,434.2 L1811.1,434.2 L1811.8,434.2 L1812.6,434.2 L1813.4,434.2 L1814.2,434.2 L1814.9,434.2 L1815.7,434.2 L1816.5,434.2 L1817.2,434.2 L1818.0,434.2 L1818.8,434.2 L1819.6,434.2 L1820.3,434.2 L1821.1,434.2 L1821.9,434.2 L1822.7,434.2 L1823.4,434.2 L1824.2,434.2 L1825.0,434.2 L1825.8,434.2 L1826.5,434.2 L1827.3,434.2 L1828.1,434.2 L1828.9,434.2 L1829.6,434.2 L1830.4,434.2 L1831.2,434.2 L1832.0,434.2 L1832.7,434.2 L1833.5,434.2 L1834.3,434.2 L1835.1,434.2 L1835.8,434.2 L1836.6,434.2 L1837.4,434.2 L1838.1,434.2 L1838.9,434.2 L1839.7,434.2 L1840.5,434.2 L1841.2,434.2 L1842.0,434.2 L1842.8,434.2 L1843.6,434.2 L1844.3,434.2 L1845.1,434.2 L1845.9,434.2 L1846.7,434.2 L1847.4,434.2 L1848.2,434.2 L1849.0,434.2 L1849.8,434.2 L1850.5,434.2 L1851.3,434.2 L1852.1,434.2 L1852.9,434.2 L1853.6,434.2 L1854.4,434.2 L1855.2,434.2 L1855.9,434.2 L1856.7,434.2 L1857.5,434.2 L1858.3,434.2 L1859.0,434.2 L1859.8,434.2 L1860.6,434.2 L1861.4,434.2 L1862.1,434.2 L1862.9,434.2 L1863.7,434.2 L1864.5,434.2 L1865.2,434.2 L1866.0,434.2 L1866.8,434.2 L1867.6,434.2 L1868.3,434.2 L1869.1,434.2 L1869.9,434.2 L1870.7,434.2 L1871.4,434.2 L1872.2,434.2 L1873.0,434.2 L1873.8,434.3 L1874.5,434.3 L1875.3,434.3 L1876.1,434.3 L1876.8,434.3 L1877.6,434.4 L1878.4,434.4 L1879.2,434.4 L1879.9,434.5 L1880.7,434.5 L1881.5,434.6 L1882.3,434.7 L1883.0,434.8 L1883.8,434.9 L1884.6,435.0 L1885.4,435.1 L1886.1,435.3 L1886.9,435.5 L1887.7,435.7 L1888.5,435.9 L1889.2,436.2 L1890.0,436.5 L1890.8,436.8 L1891.6,437.2 L1892.3,437.6 L1893.1,438.0 L1893.9,438.5 L1894.6,439.1 L1895.4,439.6 L1896.2,440.2 L1897.0,440.9 L1897.7,441.6 L1898.5,442.3 L1899.3,443.1 L1900.1,444.0 L1900.8,444.8 L1901.6,445.7 L1902.4,446.7 L1903.2,447.6 L1903.9,448.6 L1904.7,449.6 L1905.5,450.6 L1906.3,451.7 L1907.0,452.7 L1907.8,453.8 L1908.6,454.8 L1909.4,455.9 L1910.1,456.9 L1910.9,457.9 L1911.7,458.9 L1912.5,459.8 L1913.2,460.8 L1914.0,461.7 L1914.8,462.5 L1915.5,463.4 L1916.3,464.2 L1917.1,464.9 L1917.9,465.6 L1918.6,466.3 L1919.4,466.9 L1920.2,467.4 L1921.0,468.0 L1921.7,468.5 L1922.5,468.9 L1923.3,469.3 L1924.1,469.7 L1924.8,470.0 L1925.6,470.3 L1926.4,470.6 L1927.2,470.8 L1927.9,471.0 L1928.7,471.2 L1929.5,471.4 L1930.3,471.5 L1931.0,471.6 L1931.8,471.7 L1932.6,471.8 L1933.3,471.9 L1934.1,472.0 L1934.9,472.0 L1935.7,472.1 L1936.4,472.1 L1937.2,472.1 L1938.0,472.2 L1938.8,472.2 L1938.8,472.3 Z" fill="none" stroke="#222" stroke-width="1"/>
<path d="M1746.8,472.3 L1746.8,472.2 L1747.6,472.2 L1748.4,472.1 L1749.1,472.0 L1749.9,471.8 L1750.7,471.6 L1751.5,471.3 L1752.2,470.9 L1753.0,470.3 L1753.8,469.5 L1754.6,468.4 L1755.3,467.0 L1756.1,465.1 L1756.9,462.7 L1757.7,459.7 L1758.4,455.8 L1759.2,451.1 L1760.0,445.3 L1760.7,438.4 L1761.5,430.2 L1762.3,420.7 L1763.1,409.8 L1763.8,397.5 L1764.6,384.0 L1765.4,369.2 L1766.2,353.5 L1766.9,337.1 L1767.7,320.3 L1768.5,303.4 L1769.3,287.0 L1770.0,271.6 L1770.8,257.5 L1771.6,245.2 L1772.4,235.2 L1773.1,227.7 L1773.9,223.2 L1774.7,221.6 L1775.5,223.2 L1776.2,227.7 L1777.0,235.2 L1777.8,245.2 L1778.5,257.5 L1779.3,271.6 L1780.1,287.0 L1780.9,303.4 L1781.6,320.3 L1782.4,337.1 L1783.2,353.5 L1784.0,369.2 L1784.7,384.0 L1785.5,397.5 L1786.3,409.8 L1787.1,420.7 L1787.8,430.2 L1788.6,438.4 L1789.4,445.3 L1790.2,451.1 L1790.9,455.8 L1791.7,459.7 L1792.5,462.7 L1793.3,465.1 L1794.0,467.0 L1794.8,468.4 L1795.6,469.5 L1796.4,470.3 L1797.1,470.9 L1797.9,471.3 L1798.7,471.6 L1799.4,471.8 L1800.2,472.0 L1801.0,472.1 L1801.8,472.2 L1802.5,472.2 L1802.5,472.3 Z" fill="none" stroke="#111" stroke-width="1.1"/>
<path d="M1869.1,472.3 L1869.1,472.2 L1869.9,472.2 L1870.7,472.2 L1871.4,472.1 L1872.2,472.1 L1873.0,472.0 L1873.8,471.9 L1874.5,471.9 L1875.3,471.8 L1876.1,471.7 L1876.8,471.5 L1877.6,471.4 L1878.4,471.2 L1879.2,471.0 L1879.9,470.7 L1880.7,470.4 L1881.5,470.1 L1882.3,469.7 L1883.0,469.3 L1883.8,468.8 L1884.6,468.3 L1885.4,467.7 L1886.1,467.0 L1886.9,466.3 L1887.7,465.5 L1888.5,464.6 L1889.2,463.7 L1890.0,462.7 L1890.8,461.6 L1891.6,460.5 L1892.3,459.3 L1893.1,458.1 L1893.9,456.8 L1894.6,455.5 L1895.4,454.2 L1896.2,452.9 L1897.0,451.5 L1897.7,450.2 L1898.5,448.9 L1899.3,447.7 L1900.1,446.5 L1900.8,445.3 L1901.6,444.3 L1902.4,443.3 L1903.2,442.5 L1903.9,441.8 L1904.7,441.2 L1905.5,440.7 L1906.3,440.4 L1907.0,440.3 L1907.8,440.3 L1908.6,440.4 L1909.4,440.7 L1910.1,441.2 L1910.9,441.8 L1911.7,442.5 L1912.5,443.3 L1913.2,444.3 L1914.0,445.3 L1914.8,446.5 L1915.5,447.7 L1916.3,448.9 L1917.1,450.2 L1917.9,451.5 L1918.6,452.9 L1919.4,454.2 L1920.2,455.5 L1921.0,456.8 L1921.7,458.1 L1922.5,459.3 L1923.3,460.5 L1924.1,461.6 L1924.8,462.7 L1925.6,463.7 L1926.4,464.6 L1927.2,465.5 L1927.9,466.3 L1928.7,467.0 L1929.5,467.7 L1930.3,468.3 L1931.0,468.8 L1931.8,469.3 L1932.6,469.7 L1933.3,470.1 L1934.1,470.4 L1934.9,470.7 L1935.7,471.0 L1936.4,471.2 L1937.2,471.4 L1938.0,471.5 L1938.8,471.7 L1939.5,471.8 L1940.3,471.9 L1941.1,471.9 L1941.9,472.0 L1942.6,472.1 L1943.4,472.1 L1944.2,472.2 L1945.0,472.2 L1945.7,472.2 L1945.7,472.3 Z" fill="none" stroke="#111" stroke-width="1.1"/>
<polyline points="1748.4,472.1 1749.1,472.0 1749.9,471.8 1750.7,471.6 1751.5,471.3 1752.2,470.9 1753.0,470.3 1753.8,469.5 1754.6,468.4 1755.3,466.9 1756.1,465.0 1756.9,462.5 1757.7,459.4 1758.4,455.4 1759.2,450.6 1760.0,444.6 1760.7,437.5 1761.5,429.1 1762.3,419.2 1763.1,408.0 1763.8,395.3 1764.6,381.1 1765.4,365.8 1766.2,349.3 1766.9,332.0 1767.7,314.2 1768.5,296.3 1769.3,278.7 1770.0,261.9 1770.8,246.4 1771.6,232.7 1772.4,221.1 1773.1,212.0 1773.9,205.8 1774.7,202.6 1775.5,202.4 1776.2,205.3 1777.0,211.1 1777.8,219.6 1778.5,230.4 1779.3,243.1 1780.1,257.3 1780.9,272.5 1781.6,288.2 1782.4,304.1 1783.2,319.6 1784.0,334.6 1784.7,348.7 1785.5,361.7 1786.3,373.5 1787.1,384.0 1787.8,393.2 1788.6,401.1 1789.4,407.9 1790.2,413.5 1790.9,418.1 1791.7,421.8 1792.5,424.8 1793.3,427.2 1794.0,429.0 1794.8,430.4 1795.6,431.5 1796.4,432.3 1797.1,432.8 1797.9,433.2 1798.7,433.5 1799.4,433.8 1800.2,433.9 1801.0,434.0 1801.8,434.1 1802.5,434.1 1803.3,434.1 1804.1,434.2 1804.9,434.2 1805.6,434.2 1806.4,434.2 1807.2,434.2 1808.0,434.2 1808.7,434.2 1809.5,434.2 1810.3,434.2 1811.1,434.2 1811.8,434.2 1812.6,434.2 1813.4,434.2 1814.2,434.2 1814.9,434.2 1815.7,434.2 1816.5,434.2 1817.2,434.2 1818.0,434.2 1818.8,434.2 1819.6,434.2 1820.3,434.2 1821.1,434.2 1821.9,434.2 1822.7,434.2 1823.4,434.2 1824.2,434.2 1825.0,434.2 1825.8,434.2 1826.5,434.2 1827.3,434.2 1828.1,434.2 1828.9,434.2 1829.6,434.2 1830.4,434.2 1831.2,434.2 1832.0,434.2 1832.7,434.2 1833.5,434.2 1834.3,434.2 1835.1,434.2 1835.8,434.2 1836.6,434.2 1837.4,434.2 1838.1,434.2 1838.9,434.2 1839.7,434.2 1840.5,434.2 1841.2,434.2 1842.0,434.2 1842.8,434.2 1843.6,434.2 1844.3,434.2 1845.1,434.2 1845.9,434.2 1846.7,434.2 1847.4,434.2 1848.2,434.2 1849.0,434.2 1849.8,434.2 1850.5,434.2 1851.3,434.2 1852.1,434.2 1852.9,434.2 1853.6,434.2 1854.4,434.2 1855.2,434.2 1855.9,434.2 1856.7,434.2 1857.5,434.2 1858.3,434.2 1859.0,434.2 1859.8,434.2 1860.6,434.2 1861.4,434.2 1862.1,434.2 1862.9,434.2 1863.7,434.2 1864.5,434.2 1865.2,434.2 1866.0,434.2 1866.8,434.2 1867.6,434.1 1868.3,434.1 1869.1,434.1 1869.9,434.1 1870.7,434.1 1871.4,434.0 1872.2,434.0 1873.0,434.0 1873.8,433.9 1874.5,433.8 1875.3,433.7 1876.1,433.7 1876.8,433.5 1877.6,433.4 1878.4,433.3 1879.2,433.1 1879.9,432.9 1880.7,432.6 1881.5,432.4 1882.3,432.1 1883.0,431.7 1883.8,431.4 1884.6,431.0 1885.4,430.5 1886.1,430.0 1886.9,429.5 1887.7,428.9 1888.5,428.3 1889.2,427.6 1890.0,426.9 1890.8,426.2 1891.6,425.4 1892.3,424.6 1893.1,423.9 1893.9,423.1 1894.6,422.3 1895.4,421.5 1896.2,420.8 1897.0,420.1 1897.7,419.5 1898.5,419.0 1899.3,418.5 1900.1,418.1 1900.8,417.9 1901.6,417.7 1902.4,417.7 1903.2,417.8 1903.9,418.1 1904.7,418.5 1905.5,419.1 1906.3,419.8 1907.0,420.7 1907.8,421.8 1908.6,423.0 1909.4,424.3 1910.1,425.8 1910.9,427.4 1911.7,429.1 1912.5,430.9 1913.2,432.8 1914.0,434.7 1914.8,436.7 1915.5,438.7 1916.3,440.8 1917.1,442.8 1917.9,444.8 1918.6,446.8 1919.4,448.8 1920.2,450.7 1921.0,452.5 1921.7,454.3 1922.5,455.9 1923.3,457.5 1924.1,459.0 1924.8,460.4 1925.6,461.7 1926.4,462.9 1927.2,464.0 1927.9,465.0 1928.7,465.9 1929.5,466.7 1930.3,467.5 1931.0,468.1 1931.8,468.7 1932.6,469.2 1933.3,469.7 1934.1,470.1 1934.9,470.4 1935.7,470.7 1936.4,471.0 1937.2,471.2 1938.0,471.4 1938.8,471.6 1939.5,471.7 1940.3,471.8 1941.1,471.9 1941.9,472.0 1942.6,472.0 1943.4,472.1 1944.2,472.1" fill="none" stroke="#1a1a1a" stroke-width="1.1"/>
<polyline points="1742.9,472.3 1743.7,470.9 1744.5,470.3 1745.3,469.7 1746.0,469.5 1746.8,469.7 1747.6,470.2 1748.4,470.8 1749.1,471.2 1749.9,471.5 1750.7,471.5 1751.5,471.3 1752.2,470.9 1753.0,470.3 1753.8,469.5 1754.6,468.4 1755.3,466.9 1756.1,465.0 1756.9,462.5 1757.7,459.4 1758.4,455.4 1759.2,450.6 1760.0,444.6 1760.7,437.5 1761.5,429.1 1762.3,419.2 1763.1,408.0 1763.8,395.3 1764.6,381.1 1765.4,365.7 1766.2,349.2 1766.9,331.8 1767.7,313.6 1768.5,295.1 1769.3,276.5 1770.0,258.0 1770.8,239.9 1771.6,222.9 1772.4,207.5 1773.1,194.7 1773.9,185.4 1774.7,180.4 1775.5,180.3 1776.2,184.9 1777.0,193.8 1777.8,206.0 1778.5,220.6 1779.3,236.6 1780.1,253.3 1780.9,270.2 1781.6,287.0 1782.4,303.5 1783.2,319.4 1784.0,334.5 1784.7,348.7 1785.5,361.7 1786.3,373.5 1787.1,384.0 1787.8,393.2 1788.6,401.1 1789.4,407.9 1790.2,413.5 1790.9,418.1 1791.7,421.8 1792.5,424.8 1793.3,427.2 1794.0,429.0 1794.8,430.4 1795.6,429.0 1796.4,429.8 1797.1,430.7 1797.9,431.5 1798.7,432.4 1799.4,433.2 1800.2,432.6 1801.0,433.1 1801.8,434.1 1802.5,435.5 1803.3,434.8 1804.1,433.9 1804.9,433.5 1805.6,433.4 1806.4,433.2 1807.2,433.4 1808.0,434.2 1808.7,434.0 1809.5,434.4 1810.3,434.7 1811.1,433.9 1811.8,432.7 1812.6,434.0 1813.4,436.2 1814.2,436.3 1814.9,434.5 1815.7,433.7 1816.5,433.4 1817.2,434.0 1818.0,433.7 1818.8,433.7 1819.6,432.7 1820.3,433.1 1821.1,432.8 1821.9,433.1 1822.7,433.7 1823.4,433.7 1824.2,433.3 1825.0,433.8 1825.8,433.7 1826.5,432.8 1827.3,431.5 1828.1,432.1 1828.9,432.7 1829.6,433.6 1830.4,434.2 1831.2,434.5 1832.0,434.0 1832.7,433.8 1833.5,433.1 1834.3,433.6 1835.1,434.2 1835.8,435.3 1836.6,433.9 1837.4,433.3 1838.1,433.3 1838.9,434.4 1839.7,434.8 1840.5,435.2 1841.2,434.4 1842.0,433.3 1842.8,432.2 1843.6,433.0 1844.3,432.3 1845.1,432.8 1845.9,434.1 1846.7,435.6 1847.4,434.8 1848.2,433.3 1849.0,433.6 1849.8,433.7 1850.5,432.9 1851.3,432.6 1852.1,433.7 1852.9,435.4 1853.6,435.0 1854.4,433.9 1855.2,432.6 1855.9,432.3 1856.7,432.0 1857.5,432.2 1858.3,432.4 1859.0,433.4 1859.8,434.2 1860.6,434.5 1861.4,434.3 1862.1,433.8 1862.9,433.0 1863.7,432.3 1864.5,432.8 1865.2,432.0 1866.0,431.2 1866.8,430.8 1867.6,431.4 1868.3,432.0 1869.1,432.6 1869.9,433.2 1870.7,433.8 1871.4,434.4 1872.2,432.0 1873.0,426.5 1873.8,420.9 1874.5,418.6 1875.3,416.3 1876.1,414.6 1876.8,413.4 1877.6,412.2 1878.4,411.0 1879.2,409.8 1879.9,408.6 1880.7,407.4 1881.5,406.2 1882.3,405.0 1883.0,403.8 1883.8,405.8 1884.6,407.7 1885.4,409.6 1886.1,411.6 1886.9,413.5 1887.7,412.6 1888.5,411.7 1889.2,410.9 1890.0,410.0 1890.8,409.1 1891.6,408.2 1892.3,406.3 1893.1,404.3 1893.9,402.3 1894.6,402.0 1895.4,403.2 1896.2,404.5 1897.0,405.7 1897.7,406.8 1898.5,407.7 1899.3,408.5 1900.1,409.4 1900.8,410.3 1901.6,411.2 1902.4,412.1 1903.2,413.7 1903.9,415.3 1904.7,416.9 1905.5,418.6 1906.3,420.2 1907.0,421.8 1907.8,423.6 1908.6,425.4 1909.4,427.2 1910.1,429.0 1910.9,430.8 1911.7,432.6 1912.5,434.3 1913.2,436.0 1914.0,437.7 1914.8,439.4 1915.5,440.5 1916.3,441.6 1917.1,442.6 1917.9,443.7 1918.6,444.8 1919.4,445.9 1920.2,446.9 1921.0,448.0 1921.7,449.0 1922.5,450.0 1923.3,451.1 1924.1,452.1 1924.8,453.1 1925.6,454.2 1926.4,455.2 1927.2,455.8 1927.9,456.5 1928.7,457.2 1929.5,457.8 1930.3,458.5 1931.0,459.2 1931.8,459.8 1932.6,460.5 1933.3,461.3 1934.1,462.1 1934.9,462.9 1935.7,463.6 1936.4,464.4 1937.2,465.2 1938.0,466.0 1938.8,465.8 1939.5,465.6 1940.3,465.5 1941.1,465.3 1941.9,465.1 1942.6,465.5 1943.4,465.9 1944.2,466.2 1945.0,466.6 1945.7,467.0 1946.5,467.3 1947.3,467.7 1948.1,468.3 1948.8,469.0 1949.6,469.8 1950.4,470.6 1951.2,471.4 1951.9,471.9 1952.7,472.3" fill="none" stroke="#222" stroke-width="1"/>
<path d="M1628.1,472.3 H2030.1 M1643.1,141.0 V487.8" stroke="#000" stroke-width="1.5" fill="none"/>
<path d="M1662.4,472.3 v7 M1681.8,472.3 v7 M1701.1,472.3 v7 M1720.5,472.3 v15 M1739.8,472.3 v7 M1759.2,472.3 v7 M1778.5,472.3 v7 M1797.9,472.3 v15 M1817.2,472.3 v7 M1836.6,472.3 v7 M1855.9,472.3 v7 M1875.3,472.3 v15 M1894.6,472.3 v7 M1914.0,472.3 v7 M1933.3,472.3 v7 M1952.7,472.3 v15 M1972.0,472.3 v7 M1991.4,472.3 v7 M2010.8,472.3 v7 M2030.1,472.3 v15 M1643.1,458.5 h-7 M1643.1,444.7 h-7 M1643.1,430.9 h-7 M1643.1,417.1 h-15 M1643.1,403.3 h-7 M1643.1,389.5 h-7 M1643.1,375.7 h-7 M1643.1,361.9 h-15 M1643.1,348.1 h-7 M1643.1,334.3 h-7 M1643.1,320.5 h-7 M1643.1,306.6 h-15 M1643.1,292.8 h-7 M1643.1,279.0 h-7 M1643.1,265.2 h-7 M1643.1,251.4 h-15 M1643.1,237.6 h-7 M1643.1,223.8 h-7 M1643.1,210.0 h-7 M1643.1,196.2 h-15 M1643.1,182.4 h-7 M1643.1,168.6 h-7 M1643.1,154.8 h-7 M1643.1,141.0 h-15" stroke="#000" stroke-width="1.5" fill="none"/>
<text x="1643.1" y="503.3" font-family='"Liberation Sans", sans-serif' font-size="12.5" text-anchor="middle" fill="#111" stroke="#111" stroke-width="0.25">0</text>
<text x="1720.5" y="503.3" font-family='"Liberation Sans", sans-serif' font-size="12.5" text-anchor="middle" fill="#111" stroke="#111" stroke-width="0.25">20</text>
<text x="1797.9" y="503.3" font-family='"Liberation Sans", sans-serif' font-size="12.5" text-anchor="middle" fill="#111" stroke="#111" stroke-width="0.25">40</text>
<text x="1875.3" y="503.3" font-family='"Liberation Sans", sans-serif' font-size="12.5" text-anchor="middle" fill="#111" stroke="#111" stroke-width="0.25">60</text>
<text x="1952.7" y="503.3" font-family='"Liberation Sans", sans-serif' font-size="12.5" text-anchor="middle" fill="#111" stroke="#111" stroke-width="0.25">80</text>
<text x="2030.1" y="503.3" font-family='"Liberation Sans", sans-serif' font-size="12.5" text-anchor="middle" fill="#111" stroke="#111" stroke-width="0.25">100</text>
<text transform="translate(1621.0,472.3) rotate(-90) scale(0.8,1)" font-family='"Liberation Sans", sans-serif' font-size="15.5" text-anchor="middle" fill="#222" stroke="#222" stroke-width="0.25">0</text>
<text transform="translate(1621.0,417.1) rotate(-90) scale(0.8,1)" font-family='"Liberation Sans", sans-serif' font-size="15.5" text-anchor="middle" fill="#222" stroke="#222" stroke-width="0.25">200</text>
<text transform="translate(1621.0,361.9) rotate(-90) scale(0.8,1)" font-family='"Liberation Sans", sans-serif' font-size="15.5" text-anchor="middle" fill="#222" stroke="#222" stroke-width="0.25">400</text>
<text transform="translate(1621.0,306.6) rotate(-90) scale(0.8,1)" font-family='"Liberation Sans", sans-serif' font-size="15.5" text-anchor="middle" fill="#222" stroke="#222" stroke-width="0.25">600</text>
<text transform="translate(1621.0,251.4) rotate(-90) scale(0.8,1)" font-family='"Liberation Sans", sans-serif' font-size="15.5" text-anchor="middle" fill="#222" stroke="#222" stroke-width="0.25">800</text>
<text transform="translate(1621.0,196.2) rotate(-90) scale(0.8,1)" font-family='"Liberation Sans", sans-serif' font-size="15.5" text-anchor="middle" fill="#222" stroke="#222" stroke-width="0.25">1000</text>
<text transform="translate(1621.0,141.0) rotate(-90) scale(0.8,1)" font-family='"Liberation Sans", sans-serif' font-size="15.5" text-anchor="middle" fill="#222" stroke="#222" stroke-width="0.25">1200</text>
<text transform="translate(1600.1,306.6) rotate(-90)" font-family='"Liberation Sans", sans-serif' font-size="12.8" text-anchor="middle" fill="#111">Number</text>
<text x="1836.6" y="523.3" font-family='"Liberation Sans", sans-serif' font-size="13" text-anchor="middle" fill="#111">FL2-A FL2-A</text>
<rect x="1643.1" y="534.5" width="390.5" height="4" fill="#000"/>
<text x="1837.1" y="554.5" font-family='"Liberation Serif", serif' font-weight="bold" font-size="18" text-anchor="middle">5-Fu+10mM Met</text>
<path d="M1774.7,473.8 L1780.3,484.3 L1769.1,484.3 Z" fill="#000"/>
<rect x="1950.1" y="103.2" width="12.8" height="11" fill="#ee2526" stroke="#111" stroke-width="1.5"/>
<text x="1967.8" y="113.6" font-family='"Liberation Sans", sans-serif' font-size="13" fill="#2a2a78" stroke="#2a2a78" stroke-width="0.3">Dip G1: 42.33 %</text>
<rect x="1950.1" y="118.7" width="12.8" height="11" fill="#ee2526" stroke="#111" stroke-width="1.5"/>
<text x="1967.8" y="129.1" font-family='"Liberation Sans", sans-serif' font-size="13" fill="#2a2a78" stroke="#2a2a78" stroke-width="0.3">Dip G2: 10.38 %</text>
<rect x="1950.1" y="134.2" width="12.8" height="11.5" fill="#fff" stroke="#111" stroke-width="1.5"/>
<path d="M1951.4,136.4 l10,8 M1955.4,134.9 l7,6" stroke="#3a3a80" stroke-width="1.1"/>
<text x="1967.8" y="144.6" font-family='"Liberation Sans", sans-serif' font-size="13" fill="#2a2a78" stroke="#2a2a78" stroke-width="0.3">Dip S: 47.30 %</text>
<rect x="223" y="859.0" width="27.9" height="118.5" fill="url(#gBlue)"/>
<path d="M236.9,859.0 V847.7 M229.4,847.7 h15" stroke="#2a4d94" stroke-width="2" fill="none"/>
<rect x="250.9" y="840.2" width="27.3" height="137.3" fill="url(#gRed)"/>
<path d="M264.6,840.2 V827.7 M257.1,827.7 h15" stroke="#e02a2f" stroke-width="2" fill="none"/>
<rect x="278.2" y="793.1" width="29.7" height="184.4" fill="url(#gGreen)"/>
<path d="M293.0,793.1 V781.1 M285.5,781.1 h15" stroke="#8fc044" stroke-width="2" fill="none"/>
<rect x="307.9" y="760.6" width="26.9" height="216.9" fill="url(#gPurple)"/>
<path d="M321.4,760.6 V750.0 M313.9,750.0 h15" stroke="#6b2a78" stroke-width="2" fill="none"/>
<rect x="376.2" y="709.5" width="28.8" height="268.0" fill="url(#gBlue)"/>
<path d="M390.6,709.5 V702.5 M383.1,702.5 h15" stroke="#2a4d94" stroke-width="2" fill="none"/>
<rect x="405" y="709.5" width="28.0" height="268.0" fill="url(#gRed)"/>
<path d="M419.0,709.5 V695.9 M411.5,695.9 h15" stroke="#e02a2f" stroke-width="2" fill="none"/>
<rect x="433" y="733.5" width="28.6" height="244.0" fill="url(#gGreen)"/>
<path d="M447.3,733.5 V725.5 M439.8,725.5 h15" stroke="#8fc044" stroke-width="2" fill="none"/>
<rect x="461.6" y="743.0" width="27.5" height="234.5" fill="url(#gPurple)"/>
<path d="M475.4,743.0 V733.0 M467.9,733.0 h15" stroke="#6b2a78" stroke-width="2" fill="none"/>
<rect x="531.8" y="862.8" width="27.8" height="114.7" fill="url(#gBlue)"/>
<path d="M545.7,862.8 V854.8 M538.2,854.8 h15" stroke="#2a4d94" stroke-width="2" fill="none"/>
<rect x="559.6" y="881.3" width="27.1" height="96.2" fill="url(#gRed)"/>
<path d="M573.2,881.3 V870.3 M565.7,870.3 h15" stroke="#e02a2f" stroke-width="2" fill="none"/>
<rect x="586.7" y="905.9" width="29.3" height="71.6" fill="url(#gGreen)"/>
<path d="M601.4,905.9 V890.8 M593.9,890.8 h15" stroke="#8fc044" stroke-width="2" fill="none"/>
<rect x="616" y="927.1" width="27.1" height="50.4" fill="url(#gPurple)"/>
<path d="M629.5,927.1 V919.9 M622.0,919.9 h15" stroke="#6b2a78" stroke-width="2" fill="none"/>
<path d="M203,677 V977.5 H665.7 M203,677 h6 M203,727.0 h6 M203,777.1 h6 M203,827.2 h6 M203,877.3 h6 M203,927.4 h6 M357.2,977.5 v-6 M511.9,977.5 v-6 M665.7,977.5 v-6" stroke="#000" stroke-width="2" fill="none"/>
<text transform="translate(186.8,981.5) scale(1,1.17)" font-family='"Liberation Serif", serif' font-weight="bold" font-size="16.5" text-anchor="end">0</text>
<text transform="translate(186.8,931.4) scale(1,1.17)" font-family='"Liberation Serif", serif' font-weight="bold" font-size="16.5" text-anchor="end">10</text>
<text transform="translate(186.8,881.3) scale(1,1.17)" font-family='"Liberation Serif", serif' font-weight="bold" font-size="16.5" text-anchor="end">20</text>
<text transform="translate(186.8,831.2) scale(1,1.17)" font-family='"Liberation Serif", serif' font-weight="bold" font-size="16.5" text-anchor="end">30</text>
<text transform="translate(186.8,781.1) scale(1,1.17)" font-family='"Liberation Serif", serif' font-weight="bold" font-size="16.5" text-anchor="end">40</text>
<text transform="translate(186.8,731.0) scale(1,1.17)" font-family='"Liberation Serif", serif' font-weight="bold" font-size="16.5" text-anchor="end">50</text>
<text transform="translate(186.8,680.9) scale(1,1.17)" font-family='"Liberation Serif", serif' font-weight="bold" font-size="16.5" text-anchor="end">60</text>
<text transform="translate(162.3,832.3) rotate(-90) scale(1,1.12)" font-family='"Liberation Serif", serif' font-weight="bold" font-size="18.7" text-anchor="middle">Relative Cell Number(%)</text>
<text transform="translate(277.8,1000.8) scale(1,1.1)" font-family='"Liberation Serif", serif' font-weight="bold" font-size="14.3" text-anchor="middle">G0/G1</text>
<text transform="translate(432.7,1000.8) scale(1,1.1)" font-family='"Liberation Serif", serif' font-weight="bold" font-size="14.3" text-anchor="middle">S</text>
<text transform="translate(586,1000.8) scale(1,1.1)" font-family='"Liberation Serif", serif' font-weight="bold" font-size="14.3" text-anchor="middle">G2/M</text>
<path d="M263.8,805.6 V699.2 H322.1 V718.3 M292.5,763.5 V729.3 H322.1 V738.4" stroke="#000" stroke-width="2.6" fill="none"/>
<text x="294.3" y="701" font-family='"Liberation Serif", serif' font-weight="bold" font-size="20" text-anchor="middle">**</text>
<text x="306.5" y="731.2" font-family='"Liberation Serif", serif' font-weight="bold" font-size="20" text-anchor="middle">*</text>
<rect x="520.6" y="693" width="9" height="9" fill="#2a5fb0"/>
<text x="531.5" y="703.3" font-family='"Liberation Serif", serif' font-weight="bold" font-size="15">Control</text>
<rect x="520.6" y="719.8" width="9" height="9" fill="#e8232a"/>
<text x="531.5" y="730.1" font-family='"Liberation Serif", serif' font-weight="bold" font-size="15">5-Fu</text>
<rect x="520.6" y="745.2" width="9" height="9" fill="#86c03e"/>
<text x="531.5" y="755.5" font-family='"Liberation Serif", serif' font-weight="bold" font-size="15">10mM Met</text>
<rect x="520.6" y="771.3" width="9" height="9" fill="#5e2068"/>
<text x="531.5" y="781.6" font-family='"Liberation Serif", serif' font-weight="bold" font-size="15">5-Fu+10mM Met</text>
<rect x="856.6" y="813.2" width="372.3" height="55.8" fill="#fff"/>
<rect x="856.6" y="882.1" width="372.3" height="53.9" fill="#fff"/>
<rect x="856.6" y="947.7" width="372.3" height="56.2" fill="#fff"/>
<g clip-path="url(#blotclip)">
<rect x="866.0" y="816" width="70" height="52" rx="6" fill="#777" filter="url(#bl4)" opacity="0.36"/>
<rect x="964.0" y="816" width="66" height="52" rx="6" fill="#777" filter="url(#bl4)" opacity="0.3"/>
<rect x="1055.0" y="818" width="68" height="50" rx="6" fill="#777" filter="url(#bl4)" opacity="0.3"/>
<rect x="1150.0" y="826" width="64" height="42" rx="6" fill="#777" filter="url(#bl4)" opacity="0.24"/>
<rect x="865.0" y="830.0" width="76.0" height="28.0" rx="14.0" fill="#555" filter="url(#bl4)" opacity="0.5"/>
<path d="M869,843 C869,836 880,836 892,837 C905,836 920,833 932,834 C940,835 940,852 932,854 C920,856 905,855 892,852 C880,850 869,850 869,843 Z" fill="#000" filter="url(#bl2)"/>
<rect x="961.5" y="832.0" width="68.0" height="20.0" rx="10.0" fill="#555" filter="url(#bl4)" opacity="0.5"/>
<rect x="965.5" y="836.5" width="60.0" height="11.0" rx="5.5" fill="#050505" filter="url(#bl2)" opacity="1"/>
<rect x="1052.0" y="834.0" width="74.0" height="16.0" rx="8.0" fill="#666" filter="url(#bl3)" opacity="0.6"/>
<rect x="1057.0" y="838.0" width="64.0" height="8.0" rx="4.0" fill="#1a1a1a" filter="url(#bl2)" opacity="1"/>
<rect x="1146.0" y="831.0" width="72.0" height="16.0" rx="8.0" fill="#888" filter="url(#bl3)" opacity="0.5"/>
<rect x="1150.0" y="835.0" width="64.0" height="7.0" rx="3.5" fill="#3a3a3a" filter="url(#bl2)" opacity="1"/>
<rect x="866" y="892" width="68" height="38" rx="12" fill="#666" filter="url(#bl6)" opacity="0.5"/>
<path d="M871,905 C871,897 880,898 888,901 C900,902 915,903 922,906 C927,910 926,919 920,921 C910,923 898,922 890,921 C884,924 878,925 874,920 C870,916 871,910 871,905 Z" fill="#000" filter="url(#bl2)"/>
<rect x="954.0" y="893.0" width="76.0" height="36.0" rx="18.0" fill="#c8c8c8" filter="url(#bl6)" opacity="0.7"/>
<rect x="959.0" y="902.5" width="66.0" height="16.0" rx="8.0" fill="#8e8e8e" filter="url(#bl4)" opacity="1"/>
<rect x="1052.0" y="893.0" width="76.0" height="36.0" rx="18.0" fill="#c0c0c0" filter="url(#bl6)" opacity="0.7"/>
<rect x="1058.0" y="902.5" width="64.0" height="16.0" rx="8.0" fill="#858585" filter="url(#bl4)" opacity="1"/>
<rect x="1143.0" y="896.0" width="70.0" height="30.0" rx="15.0" fill="#e0e0e0" filter="url(#bl6)" opacity="0.7"/>
<rect x="1148.0" y="903.5" width="60.0" height="14.0" rx="7.0" fill="#d2d2d2" filter="url(#bl4)" opacity="1"/>
<rect x="868" y="962" width="354" height="32" rx="10" fill="#000" filter="url(#bl6)" opacity="0.28"/>
<rect x="878" y="967" width="70" height="24" rx="10" fill="#000" filter="url(#bl4)" opacity="0.85"/>
<rect x="881" y="971" width="64" height="16" rx="7" fill="#000" filter="url(#bl2)"/>
<rect x="959" y="967" width="83" height="24" rx="10" fill="#000" filter="url(#bl4)" opacity="0.85"/>
<rect x="962" y="971" width="77" height="16" rx="7" fill="#000" filter="url(#bl2)"/>
<rect x="1046" y="967" width="87" height="24" rx="10" fill="#000" filter="url(#bl4)" opacity="0.85"/>
<rect x="1049" y="971" width="81" height="16" rx="7" fill="#000" filter="url(#bl2)"/>
<rect x="1145" y="967" width="73" height="24" rx="10" fill="#000" filter="url(#bl4)" opacity="0.85"/>
<rect x="1148" y="971" width="67" height="16" rx="7" fill="#000" filter="url(#bl2)"/>
<rect x="1098.5" y="967.0" width="3.0" height="10.0" rx="5.0" fill="#aaa" filter="url(#bl1)" opacity="1"/>
</g>
<rect x="856.6" y="813.2" width="372.3" height="55.8" fill="none" stroke="#000" stroke-width="4"/>
<rect x="856.6" y="882.1" width="372.3" height="53.9" fill="none" stroke="#000" stroke-width="4"/>
<rect x="856.6" y="947.7" width="372.3" height="56.2" fill="none" stroke="#000" stroke-width="4"/>
<text transform="translate(853.3,851.3) scale(0.86,1)" text-anchor="end" font-family='"Liberation Mono", monospace' font-size="26" stroke="#000" stroke-width="0.7">CDK4</text>
<text transform="translate(853.3,922.7) scale(0.86,1)" text-anchor="end" font-family='"Liberation Mono", monospace' font-size="26" stroke="#000" stroke-width="0.7">Cycldin D1</text>
<text transform="translate(853.3,985.3) scale(0.86,1)" text-anchor="end" font-family='"Liberation Mono", monospace' font-size="26" stroke="#000" stroke-width="0.7">-actin</text>
<text x="751" y="983.5" font-family='"Liberation Serif", serif' font-size="26" stroke="#000" stroke-width="0.7">β</text>
<text transform="translate(898.5,802.5) rotate(-45)" font-family='"Liberation Serif", serif' font-size="32" stroke="#000" stroke-width="0.9">Control</text>
<text transform="translate(996.5,799.5) rotate(-45)" font-family='"Liberation Serif", serif' font-size="32" stroke="#000" stroke-width="0.9">5-Fu</text>
<text transform="translate(1089,802) rotate(-45)" font-family='"Liberation Serif", serif' font-size="32" stroke="#000" stroke-width="0.9">10mM Met</text>
<text transform="translate(1187,801) rotate(-45)" font-family='"Liberation Serif", serif' font-size="32" stroke="#000" stroke-width="0.9">5-Fu+10mM Met</text>
<rect x="1459.5" y="719.6" width="22.3" height="203.4" fill="#858585" stroke="#111" stroke-width="1.8"/>
<path d="M1470.7,719.6 V706.5 M1464.4,706.5 h12.6" stroke="#111" stroke-width="1.8" fill="none"/>
<rect x="1513.9" y="808.5" width="23.5" height="114.5" fill="#858585" stroke="#111" stroke-width="1.8"/>
<path d="M1525.7,808.5 V804.8 M1519.4,804.8 h12.6" stroke="#111" stroke-width="1.8" fill="none"/>
<rect x="1569.6" y="851.8" width="22.0" height="71.2" fill="#858585" stroke="#111" stroke-width="1.8"/>
<path d="M1580.6,851.8 V849.0 M1574.3,849.0 h12.6" stroke="#111" stroke-width="1.8" fill="none"/>
<rect x="1624.8" y="871.9" width="22.0" height="51.1" fill="#858585" stroke="#111" stroke-width="1.8"/>
<path d="M1635.8,871.9 V869.1 M1629.5,869.1 h12.6" stroke="#111" stroke-width="1.8" fill="none"/>
<path d="M1444,699.5 V923 H1662.4 M1444,867.1 h6 M1444,811.2 h6 M1444,755.4 h6 M1444,699.5 h6 M1498.7,923 v-6 M1552.5,923 v-6 M1607.1,923 v-6 M1662.2,923 v-6" stroke="#000" stroke-width="1.8" fill="none"/>
<text x="1428.2" y="929.1" font-family='"Liberation Serif", serif' font-weight="bold" font-size="19" text-anchor="end">0</text>
<text x="1428.2" y="873.2" font-family='"Liberation Serif", serif' font-weight="bold" font-size="19" text-anchor="end">0.4</text>
<text x="1428.2" y="817.4" font-family='"Liberation Serif", serif' font-weight="bold" font-size="19" text-anchor="end">0.8</text>
<text x="1428.2" y="761.5" font-family='"Liberation Serif", serif' font-weight="bold" font-size="19" text-anchor="end">1.2</text>
<text x="1428.2" y="705.6" font-family='"Liberation Serif", serif' font-weight="bold" font-size="19" text-anchor="end">1.6</text>
<text transform="translate(1385.6,810.4) rotate(-90) scale(1,1.15)" font-family='"Liberation Serif", serif' font-weight="bold" font-size="18.2" text-anchor="middle">CDK4/β-actin Relative Ratio</text>
<path d="M1525.8,790 V780.7 H1637.4 V799.1" stroke="#000" stroke-width="2.7" fill="none"/>
<text x="1581.3" y="782.6" font-family='"Liberation Serif", serif' font-weight="bold" font-size="19" text-anchor="middle">**</text>
<path d="M1580.5,840.7 V831.5 H1637.4 V849.4" stroke="#000" stroke-width="2.7" fill="none"/>
<text x="1608.4" y="832.1" font-family='"Liberation Serif", serif' font-weight="bold" font-size="19" text-anchor="middle">*</text>
<text transform="translate(1449,972.5) rotate(-30)" font-family='"Liberation Serif", serif' font-weight="bold" font-size="14.5" letter-spacing="0.2">Control</text>
<text transform="translate(1504,961.5) rotate(-30)" font-family='"Liberation Serif", serif' font-weight="bold" font-size="14.5" letter-spacing="0.2">5-Fu</text>
<text transform="translate(1524,984.5) rotate(-30)" font-family='"Liberation Serif", serif' font-weight="bold" font-size="14.5" letter-spacing="0.2">10mM Met</text>
<text transform="translate(1544,1007) rotate(-30)" font-family='"Liberation Serif", serif' font-weight="bold" font-size="14.5" letter-spacing="0.2">5-Fu+10mM Met</text>
<rect x="1799.8" y="725.5" width="21.3" height="199.2" fill="#858585" stroke="#111" stroke-width="1.8"/>
<path d="M1810.4,725.5 V722.7 M1804.1,722.7 h12.6" stroke="#111" stroke-width="1.8" fill="none"/>
<rect x="1854.3" y="845.1" width="21.2" height="79.6" fill="#858585" stroke="#111" stroke-width="1.8"/>
<path d="M1864.9,845.1 V830.8 M1858.6,830.8 h12.6" stroke="#111" stroke-width="1.8" fill="none"/>
<rect x="1909.1" y="850.9" width="21.3" height="73.8" fill="#858585" stroke="#111" stroke-width="1.8"/>
<path d="M1919.8,850.9 V843.6 M1913.5,843.6 h12.6" stroke="#111" stroke-width="1.8" fill="none"/>
<rect x="1964" y="891.9" width="21.2" height="32.8" fill="#858585" stroke="#111" stroke-width="1.8"/>
<path d="M1974.6,891.9 V890.7 M1968.3,890.7 h12.6" stroke="#111" stroke-width="1.8" fill="none"/>
<path d="M1783.6,700.3 V924.7 H2001.8 M1783.6,879.8 h6 M1783.6,834.9 h6 M1783.6,790.1 h6 M1783.6,745.2 h6 M1783.6,700.3 h6 M1838.4,924.7 v-6 M1893.7,924.7 v-6 M1947.8,924.7 v-6 M2001.8,924.7 v-6" stroke="#000" stroke-width="1.8" fill="none"/>
<text transform="translate(1768.3,929.5) scale(0.81,1)" font-family='"Liberation Mono", monospace' font-weight="bold" font-size="19" text-anchor="end">0</text>
<text transform="translate(1768.3,884.6) scale(0.81,1)" font-family='"Liberation Mono", monospace' font-weight="bold" font-size="19" text-anchor="end">0.6</text>
<text transform="translate(1768.3,839.7) scale(0.81,1)" font-family='"Liberation Mono", monospace' font-weight="bold" font-size="19" text-anchor="end">1.2</text>
<text transform="translate(1768.3,794.9) scale(0.81,1)" font-family='"Liberation Mono", monospace' font-weight="bold" font-size="19" text-anchor="end">1.8</text>
<text transform="translate(1768.3,750.0) scale(0.81,1)" font-family='"Liberation Mono", monospace' font-weight="bold" font-size="19" text-anchor="end">2.4</text>
<text transform="translate(1768.3,705.1) scale(0.81,1)" font-family='"Liberation Mono", monospace' font-weight="bold" font-size="19" text-anchor="end">3</text>
<text transform="translate(1719,810.5) rotate(-90) scale(1,1.12)" font-family='"Liberation Serif", serif' font-weight="bold" font-size="18.6" text-anchor="middle">Cycldin D1/β-actin Relative Ratio</text>
<path d="M1863.5,793.5 V783.5 H1974.5 V802.2" stroke="#000" stroke-width="2.7" fill="none"/>
<text x="1918" y="785.1" font-family='"Liberation Serif", serif' font-weight="bold" font-size="19" text-anchor="middle">**</text>
<path d="M1919.5,831.2 V821.6 H1975.6 V839.4" stroke="#000" stroke-width="2.7" fill="none"/>
<text x="1948.5" y="823.1" font-family='"Liberation Serif", serif' font-weight="bold" font-size="19" text-anchor="middle">**</text>
<text transform="translate(1789,974.5) rotate(-30)" font-family='"Liberation Serif", serif' font-weight="bold" font-size="14.5" letter-spacing="0.2">Control</text>
<text transform="translate(1843,963.5) rotate(-30)" font-family='"Liberation Serif", serif' font-weight="bold" font-size="14.5" letter-spacing="0.2">5-Fu</text>
<text transform="translate(1863,985.5) rotate(-30)" font-family='"Liberation Serif", serif' font-weight="bold" font-size="14.5" letter-spacing="0.2">10mM Met</text>
<text transform="translate(1883,1008) rotate(-30)" font-family='"Liberation Serif", serif' font-weight="bold" font-size="14.5" letter-spacing="0.2">5-Fu+10mM Met</text>
</svg>
</body></html>
